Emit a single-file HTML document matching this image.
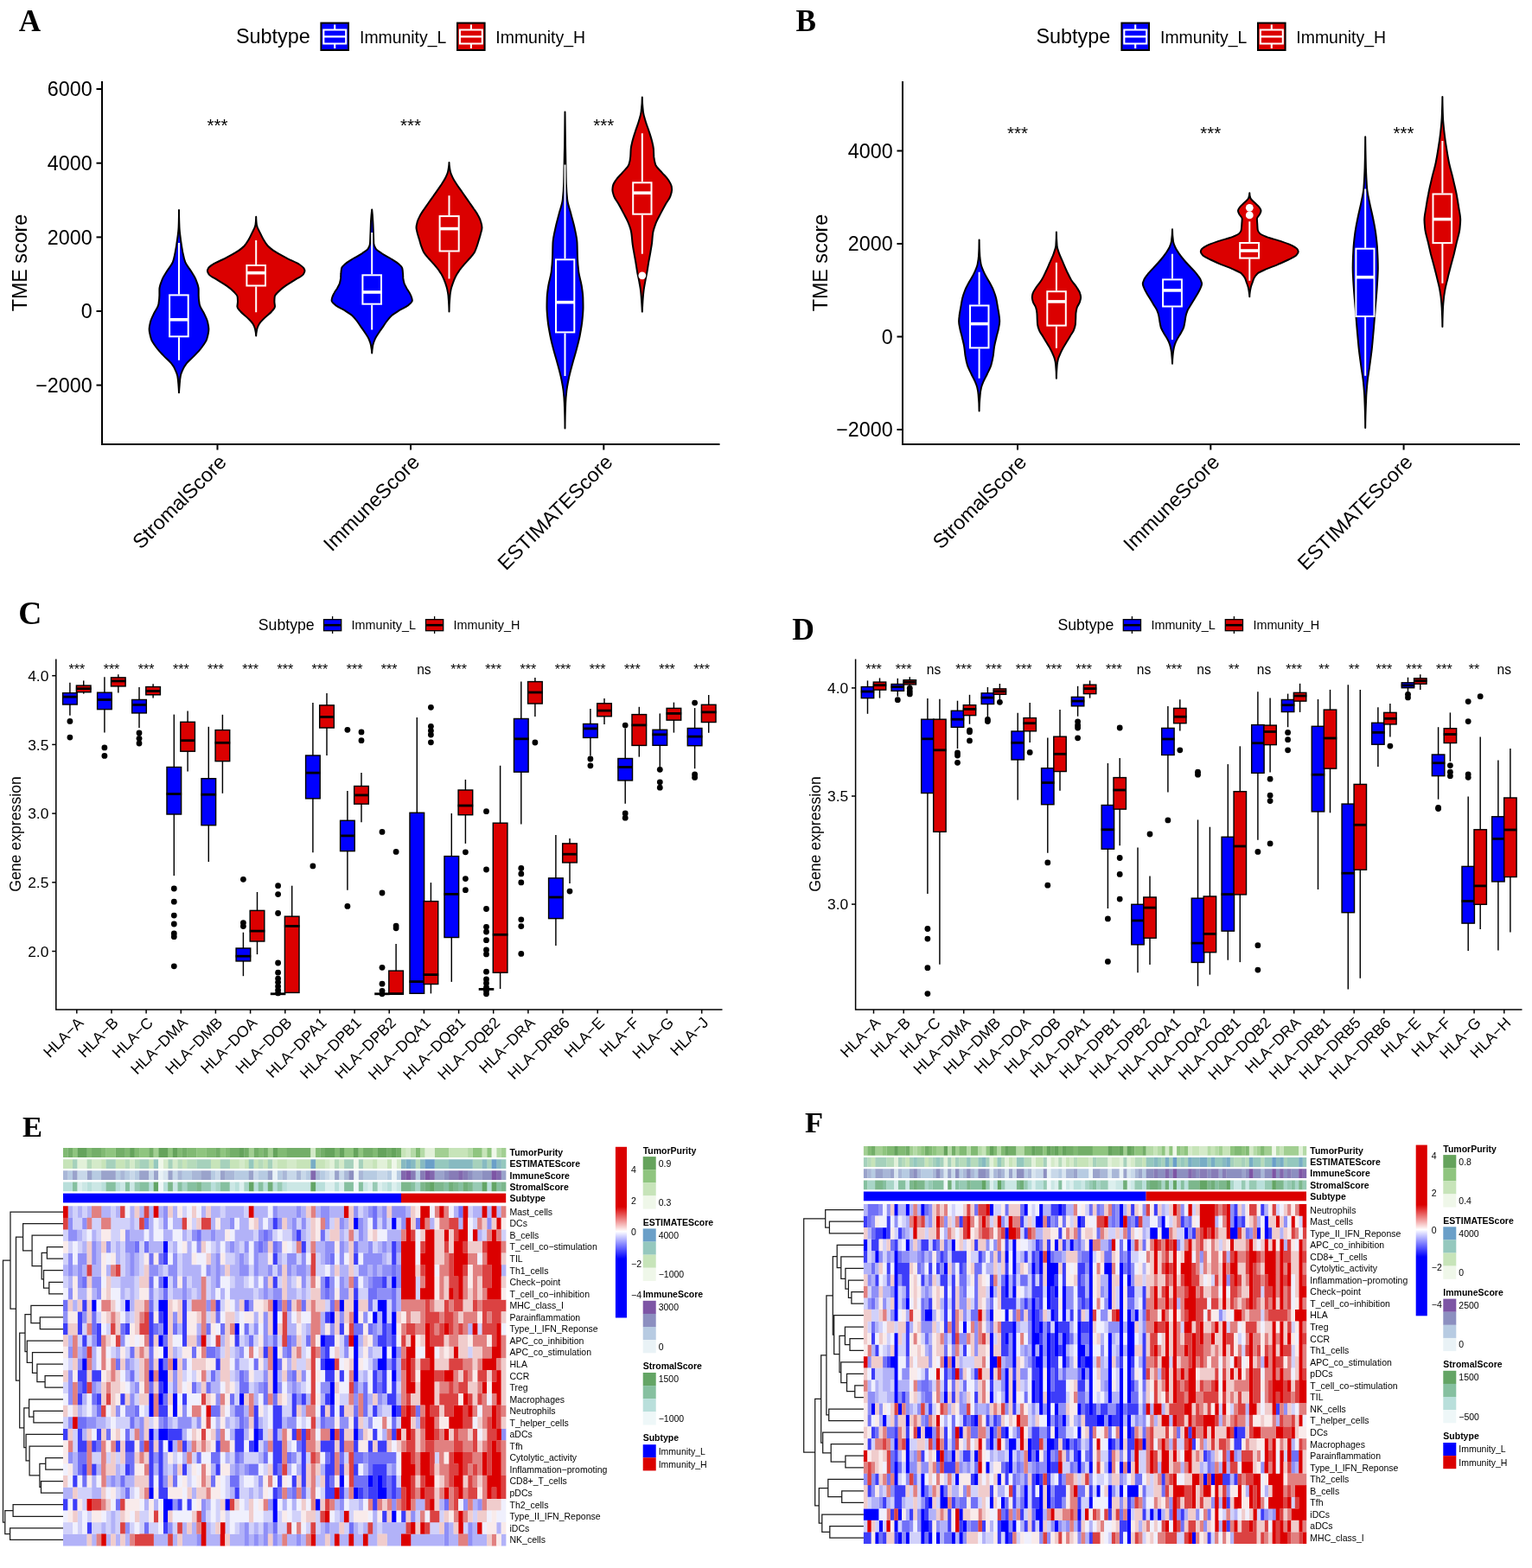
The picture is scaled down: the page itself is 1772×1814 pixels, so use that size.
<!DOCTYPE html>
<html lang="en"><head><meta charset="utf-8"><title>Figure</title>
<style>html,body{margin:0;padding:0;background:#fff}svg{display:block}text{font-family:"Liberation Sans",sans-serif;fill:#000}text.sf{font-family:"Liberation Serif",serif}</style></head><body>
<svg width="1772" height="1814" viewBox="0 0 1772 1814">
<rect width="1772" height="1814" fill="#fff"/>
<text x="21.7" y="36.3" font-weight="bold" class="sf" font-size="35.2">A</text>
<text x="273" y="50.2" font-size="23.4">Subtype</text>
<rect x="371.4" y="26.6" width="31.6" height="31.4" fill="#0000ff" stroke="#000" stroke-width="2"/>
<path d="M387.2 28.6V34.5M387.2 50.5V56M374.3 34.5H400.2V50.5H374.3ZM374.3 42.4H400.2" stroke="#fff" stroke-width="2.1" fill="none"/>
<rect x="529" y="26.6" width="31.6" height="31.4" fill="#db0000" stroke="#000" stroke-width="2"/>
<path d="M544.9 28.6V34.5M544.9 50.5V56M531.9 34.5H557.8V50.5H531.9ZM531.9 42.4H557.8" stroke="#fff" stroke-width="2.1" fill="none"/>
<text x="416" y="49.6" font-size="19.4">Immunity_L</text>
<text x="573.3" y="49.6" font-size="19.45">Immunity_H</text>
<path d="M207.0 242.9C207.0 249.6 207.2 256.3 207.5 263.0C207.7 267.8 208.4 272.6 209.0 277.3C209.7 282.1 210.4 286.9 211.3 291.7C212.1 295.5 212.8 299.3 214.2 303.1C215.4 306.5 218.6 309.8 220.7 313.2C222.7 316.5 225.1 319.8 226.4 323.2C227.9 327.0 229.7 330.8 229.7 334.7C229.7 337.0 229.7 339.4 229.7 341.8C229.7 345.2 230.1 348.5 230.7 351.9C231.3 355.7 234.7 359.5 236.4 363.3C237.7 366.2 239.3 369.1 240.0 371.9C240.7 374.8 241.4 377.7 241.4 380.5C241.4 384.3 240.4 388.2 239.3 392.0C238.2 395.8 235.0 399.6 232.1 403.5C230.0 406.3 227.0 409.2 224.2 412.1C221.5 414.9 217.8 417.8 215.6 420.7C213.9 423.0 212.4 425.4 211.3 427.8C210.3 430.2 209.2 432.6 208.8 435.0C208.2 437.9 208.0 440.7 207.8 443.6C207.5 447.2 207.2 450.7 207.0 454.3C206.9 450.7 206.6 447.2 206.3 443.6C206.1 440.7 205.8 437.9 205.3 435.0C204.9 432.6 203.8 430.2 202.7 427.8C201.7 425.4 200.2 423.0 198.4 420.7C196.3 417.8 192.6 414.9 189.8 412.1C187.1 409.2 184.1 406.3 182.0 403.5C179.1 399.6 175.9 395.8 174.8 392.0C173.7 388.2 172.6 384.3 172.6 380.5C172.6 377.7 173.4 374.8 174.1 371.9C174.8 369.1 176.4 366.2 177.7 363.3C179.4 359.5 182.8 355.7 183.4 351.9C183.9 348.5 184.4 345.2 184.4 341.8C184.4 339.4 184.4 337.0 184.4 334.7C184.4 330.8 186.2 327.0 187.7 323.2C189.0 319.8 191.4 316.5 193.4 313.2C195.5 309.8 198.7 306.5 199.9 303.1C201.3 299.3 202.0 295.5 202.7 291.7C203.7 286.9 204.4 282.1 205.0 277.3C205.7 272.6 206.4 267.8 206.6 263.0C206.9 256.3 207.0 249.6 207.0 242.9Z" fill="#0000ff" stroke="#000" stroke-width="2.0" stroke-linejoin="round"/>
<path d="M207 280.9V340.4M207 390.3V416.8" stroke="#fff" stroke-width="2.0" fill="none"/>
<rect x="196.1" y="341.4" width="21.6" height="47.9" fill="#0000ff" stroke="#fff" stroke-width="2.0"/>
<path d="M196.1 369.8H217.8" stroke="#fff" stroke-width="3.6"/>
<path d="M296.2 250.8C296.2 253.9 296.5 257.0 296.9 260.1C297.3 263.5 299.7 266.8 301.2 270.2C302.3 272.6 303.4 274.9 304.8 277.3C306.2 279.7 307.6 282.1 309.8 284.5C312.0 286.9 315.5 289.3 319.1 291.7C322.7 294.0 327.5 296.4 332.0 298.8C336.5 301.2 342.9 303.6 346.4 306.0C348.4 307.4 350.5 308.9 351.4 310.3C351.9 311.2 352.5 312.2 352.5 313.2C352.5 314.6 351.6 316.0 350.7 317.5C349.4 319.4 345.0 321.3 342.1 323.2C338.4 325.6 333.9 328.0 330.6 330.4C327.3 332.7 324.2 335.1 322.0 337.5C320.2 339.4 317.9 341.3 317.7 343.3C317.5 345.2 317.4 347.1 317.4 349.0C317.4 350.9 318.0 352.8 318.0 354.7C318.0 356.6 315.7 358.5 314.1 360.5C312.1 362.8 308.6 365.2 306.2 367.6C303.9 370.0 301.1 372.4 299.8 374.8C298.7 376.7 297.8 378.6 297.3 380.5C296.8 383.1 296.2 385.8 296.2 388.4C296.2 385.8 295.6 383.1 295.0 380.5C294.6 378.6 293.7 376.7 292.6 374.8C291.2 372.4 288.5 370.0 286.2 367.6C283.8 365.2 280.3 362.8 278.3 360.5C276.7 358.5 274.4 356.6 274.4 354.7C274.4 352.8 275.0 350.9 275.0 349.0C275.0 347.1 274.9 345.2 274.7 343.3C274.5 341.3 272.1 339.4 270.4 337.5C268.2 335.1 265.1 332.7 261.8 330.4C258.5 328.0 254.0 325.6 250.3 323.2C247.4 321.3 243.0 319.4 241.7 317.5C240.8 316.0 239.9 314.6 239.9 313.2C239.9 312.2 240.5 311.2 241.0 310.3C241.8 308.9 244.0 307.4 246.0 306.0C249.5 303.6 255.8 301.2 260.4 298.8C264.9 296.4 269.7 294.0 273.3 291.7C276.9 289.3 280.4 286.9 282.6 284.5C284.7 282.1 286.2 279.7 287.6 277.3C289.0 274.9 290.1 272.6 291.2 270.2C292.7 266.8 295.0 263.5 295.5 260.1C295.9 257.0 296.2 253.9 296.2 250.8Z" fill="#db0000" stroke="#000" stroke-width="2.0" stroke-linejoin="round"/>
<path d="M296.2 278V306M296.2 331.5V361.2" stroke="#fff" stroke-width="2.0" fill="none"/>
<rect x="285.4" y="307" width="21.6" height="23.5" fill="#db0000" stroke="#fff" stroke-width="2.0"/>
<path d="M285.4 315.7H307.1" stroke="#fff" stroke-width="3.6"/>
<path d="M430.2 242.4C430.7 246.9 431.1 251.5 431.3 256.0C431.6 260.8 431.7 265.5 431.9 270.3C432.1 274.1 432.1 278.0 432.3 281.8C432.5 283.7 433.4 285.6 434.5 287.5C435.6 289.4 438.9 291.3 441.7 293.3C444.4 295.2 448.6 297.1 451.7 299.0C454.8 300.9 458.2 302.8 460.3 304.7C462.4 306.6 464.9 308.5 465.3 310.5C465.7 312.4 465.9 314.3 466.0 316.2C466.2 318.1 466.2 320.0 466.3 321.9C466.5 323.8 466.9 325.7 467.5 327.7C468.0 329.6 469.3 331.5 470.3 333.4C471.4 335.3 472.9 337.2 473.9 339.1C474.9 341.0 475.9 342.9 476.3 344.9C476.5 345.8 476.8 346.8 476.8 347.7C476.8 349.6 474.0 351.5 471.8 353.5C469.5 355.4 464.8 357.3 461.7 359.2C458.6 361.1 455.2 363.0 453.1 364.9C451.0 366.8 449.6 368.7 448.1 370.7C446.2 373.0 444.8 375.4 443.1 377.8C441.4 380.2 439.6 382.6 438.1 385.0C436.5 387.4 434.8 389.8 433.8 392.1C432.7 394.5 431.8 396.9 431.3 399.3C430.8 402.4 430.2 405.5 430.2 408.6C430.2 405.5 429.6 402.4 429.0 399.3C428.6 396.9 427.6 394.5 426.6 392.1C425.6 389.8 423.9 387.4 422.3 385.0C420.8 382.6 419.0 380.2 417.3 377.8C415.6 375.4 414.1 373.0 412.3 370.7C410.8 368.7 409.4 366.8 407.3 364.9C405.2 363.0 401.8 361.1 398.7 359.2C395.6 357.3 390.9 355.4 388.6 353.5C386.4 351.5 383.6 349.6 383.6 347.7C383.6 346.8 383.8 345.8 384.0 344.9C384.4 342.9 385.5 341.0 386.5 339.1C387.4 337.2 389.0 335.3 390.1 333.4C391.1 331.5 392.4 329.6 392.9 327.7C393.5 325.7 393.9 323.8 394.1 321.9C394.2 320.0 394.2 318.1 394.4 316.2C394.5 314.3 394.7 312.4 395.1 310.5C395.5 308.5 398.0 306.6 400.1 304.7C402.2 302.8 405.6 300.9 408.7 299.0C411.8 297.1 415.9 295.2 418.7 293.3C421.5 291.3 424.8 289.4 425.9 287.5C427.0 285.6 427.9 283.7 428.0 281.8C428.3 278.0 428.3 274.1 428.5 270.3C428.7 265.5 428.8 260.8 429.0 256.0C429.3 251.5 429.7 246.9 430.2 242.4Z" fill="#0000ff" stroke="#000" stroke-width="2.0" stroke-linejoin="round"/>
<path d="M430.2 268.9V317.3M430.2 352.7V381.4" stroke="#fff" stroke-width="2.0" fill="none"/>
<rect x="419.4" y="318.3" width="21.6" height="33.4" fill="#0000ff" stroke="#fff" stroke-width="2.0"/>
<path d="M419.4 338H441.1" stroke="#fff" stroke-width="3.6"/>
<path d="M519.5 187.9C519.5 191.5 520.2 195.1 520.9 198.7C521.4 201.1 522.6 203.4 523.8 205.8C524.9 208.2 526.5 210.6 528.1 213.0C529.6 215.4 531.4 217.8 533.1 220.2C534.8 222.6 536.4 224.9 538.1 227.3C539.8 229.7 541.5 232.1 543.1 234.5C544.8 236.9 546.6 239.3 548.1 241.7C549.7 244.0 551.5 246.4 552.7 248.8C554.0 251.2 555.4 253.6 556.0 256.0C556.7 258.4 557.5 260.8 557.5 263.2C557.5 265.5 556.6 267.9 556.0 270.3C555.5 272.7 554.6 275.1 553.9 277.5C553.2 279.9 552.6 282.3 551.7 284.7C550.9 287.0 550.1 289.4 548.9 291.8C547.6 294.2 545.2 296.6 543.1 299.0C541.1 301.4 538.7 303.8 536.7 306.2C534.7 308.5 532.6 310.9 531.0 313.3C529.3 315.7 527.8 318.1 526.7 320.5C525.5 322.9 524.6 325.3 523.8 327.7C523.0 330.0 522.1 332.4 521.6 334.8C521.1 337.2 520.7 339.6 520.5 342.0C519.9 348.2 519.5 354.4 519.5 360.6C519.5 354.4 519.0 348.2 518.5 342.0C518.3 339.6 517.8 337.2 517.3 334.8C516.8 332.4 516.0 330.0 515.2 327.7C514.4 325.3 513.5 322.9 512.3 320.5C511.2 318.1 509.7 315.7 508.0 313.3C506.4 310.9 504.3 308.5 502.3 306.2C500.3 303.8 497.9 301.4 495.8 299.0C493.8 296.6 491.4 294.2 490.1 291.8C488.8 289.4 488.1 287.0 487.2 284.7C486.4 282.3 485.8 279.9 485.1 277.5C484.4 275.1 483.5 272.7 482.9 270.3C482.4 267.9 481.5 265.5 481.5 263.2C481.5 260.8 482.3 258.4 482.9 256.0C483.6 253.6 485.0 251.2 486.2 248.8C487.5 246.4 489.2 244.0 490.8 241.7C492.4 239.3 494.2 236.9 495.8 234.5C497.5 232.1 499.2 229.7 500.9 227.3C502.5 224.9 504.2 222.6 505.9 220.2C507.5 217.8 509.3 215.4 510.9 213.0C512.4 210.6 514.0 208.2 515.2 205.8C516.3 203.4 517.6 201.1 518.1 198.7C518.8 195.1 519.5 191.5 519.5 187.9Z" fill="#db0000" stroke="#000" stroke-width="2.0" stroke-linejoin="round"/>
<path d="M519.5 226.2V249.1M519.5 291.5V322.6" stroke="#fff" stroke-width="2.0" fill="none"/>
<rect x="508.6" y="250.1" width="22.1" height="40.4" fill="#db0000" stroke="#fff" stroke-width="2.0"/>
<path d="M508.6 264.6H530.7" stroke="#fff" stroke-width="3.6"/>
<path d="M653.5 129.4C653.6 142.2 653.8 155.0 654.0 167.8C654.1 175.3 654.3 182.9 654.4 190.4C654.6 197.9 654.6 205.5 654.9 213.0C655.1 219.0 655.5 225.0 656.2 231.1C656.8 236.3 658.9 241.6 660.3 246.9C661.6 252.2 663.2 257.4 664.4 262.7C665.6 268.7 667.3 274.8 667.5 280.8C667.8 286.8 667.7 292.8 668.0 298.9C668.2 304.1 668.7 309.4 669.3 314.7C670.0 320.0 671.9 325.2 672.7 330.5C673.4 335.0 674.1 339.5 674.3 344.1C674.4 347.8 674.5 351.6 674.5 355.4C674.5 360.6 673.9 365.9 673.4 371.2C672.8 377.2 671.6 383.2 670.5 389.3C669.4 394.5 668.0 399.8 666.6 405.1C665.2 410.4 663.5 415.6 662.1 420.9C660.5 426.9 658.8 433.0 657.6 439.0C656.7 443.5 655.8 448.0 655.3 452.5C654.8 457.1 654.4 461.6 654.2 466.1C653.8 475.9 653.5 485.7 653.5 495.5C653.5 485.7 653.2 475.9 652.8 466.1C652.6 461.6 652.2 457.1 651.7 452.5C651.2 448.0 650.3 443.5 649.4 439.0C648.2 433.0 646.5 426.9 644.9 420.9C643.5 415.6 641.8 410.4 640.4 405.1C639.0 399.8 637.6 394.5 636.6 389.3C635.4 383.2 634.2 377.2 633.6 371.2C633.1 365.9 632.5 360.6 632.5 355.4C632.5 351.6 632.6 347.8 632.7 344.1C632.9 339.5 633.6 335.0 634.3 330.5C635.1 325.2 637.0 320.0 637.7 314.7C638.3 309.4 638.8 304.1 639.0 298.9C639.3 292.8 639.2 286.8 639.5 280.8C639.8 274.8 641.4 268.7 642.7 262.7C643.8 257.4 645.4 252.2 646.7 246.9C648.1 241.6 650.2 236.3 650.8 231.1C651.5 225.0 652.0 219.0 652.1 213.0C652.4 205.5 652.4 197.9 652.6 190.4C652.7 182.9 652.9 175.3 653.1 167.8C653.2 155.0 653.4 142.2 653.5 129.4Z" fill="#0000ff" stroke="#000" stroke-width="2.0" stroke-linejoin="round"/>
<path d="M653.5 190.4V299.3M653.5 385.4V435.1" stroke="#fff" stroke-width="2.0" fill="none"/>
<rect x="643" y="300.3" width="21.3" height="84.1" fill="#0000ff" stroke="#fff" stroke-width="2.0"/>
<path d="M643 349.7H664.3" stroke="#fff" stroke-width="3.6"/>
<path d="M742.8 112.4C742.8 118.1 743.3 123.7 743.9 129.4C744.3 133.1 745.7 136.9 746.8 140.7C747.9 144.4 749.5 148.2 750.7 152.0C751.9 155.7 753.2 159.5 754.1 163.3C754.8 166.3 755.6 169.3 755.9 172.3C756.1 175.3 756.1 178.3 756.3 181.4C756.6 184.4 757.2 187.4 758.1 190.4C759.1 193.4 762.8 196.4 765.4 199.4C767.9 202.4 771.4 205.5 773.3 208.5C774.7 210.7 776.3 213.0 776.7 215.3C776.9 216.8 777.1 218.3 777.1 219.8C777.1 222.0 776.3 224.3 775.5 226.6C774.6 229.6 772.0 232.6 770.3 235.6C768.2 239.4 766.2 243.1 764.2 246.9C762.3 250.7 760.0 254.4 758.6 258.2C757.2 262.0 755.8 265.7 755.2 269.5C754.6 273.3 754.5 277.0 754.1 280.8C753.6 284.6 752.9 288.3 752.3 292.1C751.6 295.9 750.9 299.6 750.2 303.4C749.6 307.2 749.1 310.9 748.4 314.7C747.7 318.5 746.8 322.2 746.2 326.0C745.5 329.8 744.8 333.5 744.4 337.3C743.9 341.1 743.7 344.8 743.4 348.6C743.2 352.6 742.9 356.6 742.8 360.6C742.6 356.6 742.4 352.6 742.1 348.6C741.8 344.8 741.6 341.1 741.2 337.3C740.8 333.5 740.0 329.8 739.4 326.0C738.7 322.2 737.8 318.5 737.1 314.7C736.4 310.9 735.9 307.2 735.3 303.4C734.7 299.6 733.9 295.9 733.3 292.1C732.6 288.3 731.9 284.6 731.5 280.8C731.0 277.0 730.9 273.3 730.3 269.5C729.8 265.7 728.4 262.0 726.9 258.2C725.5 254.4 723.3 250.7 721.3 246.9C719.3 243.1 717.3 239.4 715.2 235.6C713.5 232.6 711.0 229.6 710.0 226.6C709.3 224.3 708.4 222.0 708.4 219.8C708.4 218.3 708.6 216.8 708.9 215.3C709.2 213.0 710.8 210.7 712.3 208.5C714.2 205.5 717.7 202.4 720.2 199.4C722.7 196.4 726.4 193.4 727.4 190.4C728.4 187.4 729.0 184.4 729.2 181.4C729.5 178.3 729.4 175.3 729.7 172.3C729.9 169.3 730.8 166.3 731.5 163.3C732.4 159.5 733.7 155.7 734.9 152.0C736.1 148.2 737.6 144.4 738.7 140.7C739.8 136.9 741.2 133.1 741.6 129.4C742.3 123.7 742.8 118.1 742.8 112.4Z" fill="#db0000" stroke="#000" stroke-width="2.0" stroke-linejoin="round"/>
<path d="M742.8 154.2V210.3M742.8 248.7V293.7" stroke="#fff" stroke-width="2.0" fill="none"/>
<rect x="732.2" y="211.3" width="21.3" height="36.4" fill="#db0000" stroke="#fff" stroke-width="2.0"/>
<path d="M732.2 223.2H753.5" stroke="#fff" stroke-width="3.6"/>
<circle cx="742.8" cy="318.8" r="4.4" fill="#fff"/>
<path d="M118 94V514H832.5" fill="none" stroke="#000" stroke-width="2"/>
<path d="M111.5 103L118 103" stroke="#000" stroke-width="2"/>
<text x="106.7" y="111.3" text-anchor="end" font-size="23.3">6000</text>
<path d="M111.5 188.7L118 188.7" stroke="#000" stroke-width="2"/>
<text x="106.7" y="197" text-anchor="end" font-size="23.3">4000</text>
<path d="M111.5 274.4L118 274.4" stroke="#000" stroke-width="2"/>
<text x="106.7" y="282.7" text-anchor="end" font-size="23.3">2000</text>
<path d="M111.5 360L118 360" stroke="#000" stroke-width="2"/>
<text x="106.7" y="368.3" text-anchor="end" font-size="23.3">0</text>
<path d="M111.5 445.6L118 445.6" stroke="#000" stroke-width="2"/>
<text x="106.7" y="453.9" text-anchor="end" font-size="23.3">−2000</text>
<path d="M251.5 514L251.5 520.5" stroke="#000" stroke-width="2"/>
<text text-anchor="end" transform="translate(263.1,536) rotate(-45)" font-size="23.4">StromalScore</text>
<text x="251.5" y="152" text-anchor="middle" font-size="20.6">***</text>
<path d="M475 514L475 520.5" stroke="#000" stroke-width="2"/>
<text text-anchor="end" transform="translate(486.6,536) rotate(-45)" font-size="23.4">ImmuneScore</text>
<text x="475" y="152" text-anchor="middle" font-size="20.6">***</text>
<path d="M698.3 514L698.3 520.5" stroke="#000" stroke-width="2"/>
<text text-anchor="end" transform="translate(709.9,536) rotate(-45)" font-size="23.4">ESTIMATEScore</text>
<text x="698.3" y="152" text-anchor="middle" font-size="20.6">***</text>
<text text-anchor="middle" transform="translate(31,304) rotate(-90)" font-size="23.3">TME score</text>
<text x="920.5" y="36.3" font-weight="bold" class="sf" font-size="35.2">B</text>
<text x="1198.5" y="50.2" font-size="23.4">Subtype</text>
<rect x="1297.4" y="26.6" width="31.6" height="31.4" fill="#0000ff" stroke="#000" stroke-width="2"/>
<path d="M1313.2 28.6V34.5M1313.2 50.5V56M1300.3 34.5H1326.2V50.5H1300.3ZM1300.3 42.4H1326.2" stroke="#fff" stroke-width="2.1" fill="none"/>
<rect x="1455" y="26.6" width="31.6" height="31.4" fill="#db0000" stroke="#000" stroke-width="2"/>
<path d="M1470.8 28.6V34.5M1470.8 50.5V56M1457.9 34.5H1483.8V50.5H1457.9ZM1457.9 42.4H1483.8" stroke="#fff" stroke-width="2.1" fill="none"/>
<text x="1342" y="49.6" font-size="19.4">Immunity_L</text>
<text x="1499.3" y="49.6" font-size="19.45">Immunity_H</text>
<path d="M1132.6 277.4C1132.6 283.7 1132.9 290.0 1133.3 296.3C1133.5 299.4 1134.0 302.5 1134.6 305.6C1135.4 309.1 1137.0 312.6 1138.6 316.1C1140.2 319.7 1142.7 323.2 1144.6 326.7C1146.2 329.8 1148.0 332.9 1149.2 336.0C1150.4 339.1 1151.5 342.2 1152.2 345.2C1153.0 348.8 1153.5 352.3 1154.1 355.8C1154.7 359.3 1155.4 362.9 1155.8 366.4C1156.0 368.2 1156.2 369.9 1156.2 371.7C1156.2 374.3 1155.6 377.0 1155.1 379.6C1154.5 383.2 1153.3 386.7 1152.5 390.2C1151.7 393.7 1150.7 397.3 1150.1 400.8C1149.5 404.3 1149.3 407.8 1148.8 411.4C1148.2 414.9 1147.5 418.4 1146.5 422.0C1145.5 425.5 1143.6 429.0 1141.9 432.5C1140.7 435.2 1139.1 437.8 1137.9 440.5C1136.8 443.1 1135.6 445.8 1135.0 448.4C1134.4 451.1 1133.9 453.7 1133.7 456.3C1133.1 462.7 1132.6 469.1 1132.6 475.5C1132.6 469.1 1132.2 462.7 1131.6 456.3C1131.4 453.7 1130.9 451.1 1130.3 448.4C1129.7 445.8 1128.5 443.1 1127.4 440.5C1126.2 437.8 1124.6 435.2 1123.4 432.5C1121.7 429.0 1119.8 425.5 1118.8 422.0C1117.7 418.4 1117.1 414.9 1116.5 411.4C1116.0 407.8 1115.8 404.3 1115.2 400.8C1114.6 397.3 1113.6 393.7 1112.8 390.2C1112.0 386.7 1110.8 383.2 1110.2 379.6C1109.7 377.0 1109.1 374.3 1109.1 371.7C1109.1 369.9 1109.3 368.2 1109.5 366.4C1109.8 362.9 1110.6 359.3 1111.2 355.8C1111.8 352.3 1112.3 348.8 1113.1 345.2C1113.8 342.2 1114.9 339.1 1116.1 336.0C1117.3 332.9 1119.1 329.8 1120.7 326.7C1122.6 323.2 1125.1 319.7 1126.7 316.1C1128.3 312.6 1129.9 309.1 1130.7 305.6C1131.3 302.5 1131.8 299.4 1132.0 296.3C1132.4 290.0 1132.6 283.7 1132.6 277.4Z" fill="#0000ff" stroke="#000" stroke-width="2.0" stroke-linejoin="round"/>
<path d="M1132.6 314.8V352.5M1132.6 403.4V437.8" stroke="#fff" stroke-width="2.0" fill="none"/>
<rect x="1122" y="353.5" width="21.5" height="48.9" fill="#0000ff" stroke="#fff" stroke-width="2.0"/>
<path d="M1122 374.6H1143.6" stroke="#fff" stroke-width="3.6"/>
<path d="M1221.9 268.5C1221.9 273.8 1222.2 279.1 1222.6 284.4C1222.8 287.5 1224.2 290.6 1225.2 293.7C1226.3 296.7 1227.9 299.8 1229.2 302.9C1230.7 306.4 1232.2 310.0 1233.8 313.5C1235.5 317.0 1237.0 320.5 1239.1 324.1C1240.7 326.7 1243.4 329.4 1245.1 332.0C1246.8 334.7 1248.8 337.3 1249.4 339.9C1249.8 341.3 1250.1 342.6 1250.1 343.9C1250.1 345.7 1249.5 347.4 1249.0 349.2C1248.4 351.4 1246.4 353.6 1245.7 355.8C1245.1 358.0 1244.6 360.2 1244.4 362.4C1244.3 364.6 1244.3 366.8 1244.2 369.0C1244.0 371.3 1244.0 373.5 1243.8 375.7C1243.5 377.9 1242.7 380.1 1241.8 382.3C1240.9 384.5 1239.1 386.7 1237.8 388.9C1236.5 391.1 1235.2 393.3 1233.8 395.5C1232.5 397.7 1231.1 399.9 1229.9 402.1C1228.7 404.3 1227.5 406.5 1226.6 408.7C1225.6 410.9 1224.5 413.1 1223.9 415.3C1223.4 417.5 1222.9 419.8 1222.7 422.0C1222.3 427.2 1221.9 432.5 1221.9 437.8C1221.9 432.5 1221.6 427.2 1221.1 422.0C1221.0 419.8 1220.5 417.5 1219.9 415.3C1219.4 413.1 1218.3 410.9 1217.3 408.7C1216.3 406.5 1215.2 404.3 1214.0 402.1C1212.8 399.9 1211.3 397.7 1210.0 395.5C1208.7 393.3 1207.4 391.1 1206.1 388.9C1204.7 386.7 1203.0 384.5 1202.1 382.3C1201.2 380.1 1200.3 377.9 1200.1 375.7C1199.9 373.5 1199.8 371.3 1199.7 369.0C1199.6 366.8 1199.6 364.6 1199.4 362.4C1199.3 360.2 1198.8 358.0 1198.1 355.8C1197.5 353.6 1195.4 351.4 1194.8 349.2C1194.3 347.4 1193.8 345.7 1193.8 343.9C1193.8 342.6 1194.1 341.3 1194.4 339.9C1195.1 337.3 1197.1 334.7 1198.8 332.0C1200.5 329.4 1203.1 326.7 1204.7 324.1C1206.9 320.5 1208.4 317.0 1210.0 313.5C1211.7 310.0 1213.1 306.4 1214.7 302.9C1216.0 299.8 1217.6 296.7 1218.6 293.7C1219.7 290.6 1221.0 287.5 1221.3 284.4C1221.7 279.1 1221.9 273.8 1221.9 268.5Z" fill="#db0000" stroke="#000" stroke-width="2.0" stroke-linejoin="round"/>
<path d="M1221.9 303.8V336.2M1221.9 377.6V402.8" stroke="#fff" stroke-width="2.0" fill="none"/>
<rect x="1211.3" y="337.2" width="21.5" height="39.4" fill="#db0000" stroke="#fff" stroke-width="2.0"/>
<path d="M1211.3 348.9H1232.8" stroke="#fff" stroke-width="3.6"/>
<path d="M1356.0 265.2C1356.0 269.9 1356.4 274.7 1357.0 279.4C1357.3 281.6 1358.3 283.8 1359.3 286.0C1360.2 288.2 1361.8 290.4 1363.2 292.6C1365.0 295.2 1367.0 297.9 1369.2 300.5C1371.4 303.2 1374.0 305.8 1376.5 308.5C1378.9 311.1 1381.6 313.8 1383.7 316.4C1385.5 318.6 1387.4 320.8 1388.4 323.0C1389.1 324.8 1390.1 326.6 1390.1 328.3C1390.1 329.6 1389.5 331.0 1389.0 332.3C1388.3 334.5 1386.9 336.7 1385.7 338.9C1384.5 341.1 1383.1 343.3 1381.8 345.5C1380.4 347.7 1379.1 349.9 1377.8 352.1C1376.5 354.3 1374.8 356.5 1373.8 358.7C1372.9 361.0 1372.0 363.2 1371.6 365.4C1371.1 367.6 1370.9 369.8 1370.5 372.0C1370.1 374.2 1369.8 376.4 1369.2 378.6C1368.6 380.8 1367.1 383.0 1365.9 385.2C1364.7 387.4 1363.1 389.6 1361.9 391.8C1360.8 394.0 1359.6 396.2 1358.9 398.4C1358.2 400.6 1357.6 402.8 1357.3 405.1C1356.9 407.3 1356.7 409.5 1356.5 411.7C1356.2 414.7 1356.0 417.7 1356.0 420.7C1355.9 417.7 1355.7 414.7 1355.4 411.7C1355.3 409.5 1355.0 407.3 1354.6 405.1C1354.3 402.8 1353.7 400.6 1353.0 398.4C1352.4 396.2 1351.2 394.0 1350.0 391.8C1348.9 389.6 1347.2 387.4 1346.0 385.2C1344.8 383.0 1343.4 380.8 1342.7 378.6C1342.1 376.4 1341.8 374.2 1341.4 372.0C1341.0 369.8 1340.8 367.6 1340.3 365.4C1339.9 363.2 1339.1 361.0 1338.1 358.7C1337.1 356.5 1335.5 354.3 1334.1 352.1C1332.8 349.9 1331.5 347.7 1330.2 345.5C1328.8 343.3 1327.4 341.1 1326.2 338.9C1325.0 336.7 1323.6 334.5 1322.9 332.3C1322.4 331.0 1321.8 329.6 1321.8 328.3C1321.8 326.6 1322.8 324.8 1323.5 323.0C1324.5 320.8 1326.4 318.6 1328.2 316.4C1330.3 313.8 1333.0 311.1 1335.5 308.5C1337.9 305.8 1340.5 303.2 1342.7 300.5C1344.9 297.9 1346.9 295.2 1348.7 292.6C1350.1 290.4 1351.7 288.2 1352.7 286.0C1353.6 283.8 1354.6 281.6 1354.9 279.4C1355.5 274.7 1356.0 269.9 1356.0 265.2Z" fill="#0000ff" stroke="#000" stroke-width="2.0" stroke-linejoin="round"/>
<path d="M1356 293.7V322.4M1356 355.4V392.9" stroke="#fff" stroke-width="2.0" fill="none"/>
<rect x="1345.1" y="323.4" width="21.8" height="31.1" fill="#0000ff" stroke="#fff" stroke-width="2.0"/>
<path d="M1345.1 335.9H1366.9" stroke="#fff" stroke-width="3.6"/>
<path d="M1445.3 223.2C1445.3 225.1 1445.7 227.1 1446.3 229.1C1446.8 230.9 1449.5 232.6 1451.2 234.4C1452.9 236.2 1455.3 237.9 1456.5 239.7C1457.4 241.0 1458.5 242.3 1458.5 243.7C1458.5 245.0 1457.7 246.3 1457.2 247.6C1456.4 249.4 1453.9 251.2 1453.9 252.9C1453.9 255.1 1454.1 257.3 1454.3 259.5C1454.4 261.7 1454.4 263.9 1454.8 266.1C1455.0 267.5 1455.9 268.8 1457.2 270.1C1458.4 271.4 1461.9 272.8 1465.1 274.1C1469.4 275.8 1477.3 277.6 1482.3 279.4C1487.3 281.1 1492.5 282.9 1495.5 284.7C1497.8 286.0 1500.1 287.3 1500.8 288.6C1501.3 289.5 1501.7 290.4 1501.7 291.3C1501.7 292.6 1500.6 293.9 1499.5 295.2C1498.0 297.0 1493.7 298.8 1490.2 300.5C1486.8 302.3 1482.5 304.1 1478.3 305.8C1474.2 307.6 1469.0 309.4 1465.1 311.1C1461.2 312.9 1456.4 314.7 1454.5 316.4C1452.6 318.2 1451.4 319.9 1450.5 321.7C1449.7 323.5 1449.2 325.2 1448.6 327.0C1447.9 328.8 1447.3 330.5 1446.8 332.3C1446.4 334.1 1446.0 335.8 1445.8 337.6C1445.5 339.5 1445.3 341.4 1445.3 343.3C1445.2 341.4 1445.0 339.5 1444.7 337.6C1444.5 335.8 1444.1 334.1 1443.7 332.3C1443.2 330.5 1442.6 328.8 1441.9 327.0C1441.3 325.2 1440.8 323.5 1440.0 321.7C1439.1 319.9 1437.9 318.2 1436.0 316.4C1434.1 314.7 1429.3 312.9 1425.4 311.1C1421.5 309.4 1416.4 307.6 1412.2 305.8C1408.0 304.1 1403.7 302.3 1400.3 300.5C1396.8 298.8 1392.5 297.0 1391.0 295.2C1389.9 293.9 1388.8 292.6 1388.8 291.3C1388.8 290.4 1389.2 289.5 1389.7 288.6C1390.4 287.3 1392.7 286.0 1395.0 284.7C1398.0 282.9 1403.2 281.1 1408.2 279.4C1413.2 277.6 1421.1 275.8 1425.4 274.1C1428.7 272.8 1432.1 271.4 1433.3 270.1C1434.6 268.8 1435.5 267.5 1435.7 266.1C1436.1 263.9 1436.1 261.7 1436.3 259.5C1436.4 257.3 1436.7 255.1 1436.7 252.9C1436.7 251.2 1434.1 249.4 1433.3 247.6C1432.8 246.3 1432.0 245.0 1432.0 243.7C1432.0 242.3 1433.1 241.0 1434.0 239.7C1435.2 237.9 1437.6 236.2 1439.3 234.4C1441.0 232.6 1443.7 230.9 1444.2 229.1C1444.8 227.1 1445.3 225.1 1445.3 223.2Z" fill="#db0000" stroke="#000" stroke-width="2.0" stroke-linejoin="round"/>
<path d="M1445.3 256.2V280M1445.3 299.6V324.8" stroke="#fff" stroke-width="2.0" fill="none"/>
<rect x="1434.2" y="281" width="21.9" height="17.6" fill="#db0000" stroke="#fff" stroke-width="2.0"/>
<path d="M1434.2 290H1456.2" stroke="#fff" stroke-width="3.6"/>
<circle cx="1445.3" cy="240.3" r="4.4" fill="#fff"/>
<circle cx="1445.3" cy="248.9" r="4.4" fill="#fff"/>
<path d="M1579.2 158.3C1579.3 170.2 1579.6 182.2 1579.9 194.1C1580.2 201.9 1580.5 209.6 1581.1 217.3C1581.5 222.7 1582.8 228.1 1583.9 233.5C1585.1 239.7 1586.8 245.8 1588.0 252.0C1589.3 258.2 1590.5 264.3 1591.3 270.5C1592.1 276.7 1592.8 282.9 1593.1 289.0C1593.5 296.0 1593.8 302.9 1593.8 309.9C1593.8 317.6 1593.1 325.3 1592.7 333.0C1592.2 340.7 1591.4 348.4 1590.8 356.2C1590.2 363.9 1589.6 371.6 1589.0 379.3C1588.3 387.0 1587.7 394.7 1586.9 402.4C1586.1 410.2 1584.9 417.9 1583.9 425.6C1583.1 431.0 1582.1 436.4 1581.6 441.8C1581.0 448.0 1580.4 454.1 1580.2 460.3C1579.7 471.9 1579.2 483.4 1579.2 495.0C1579.2 483.4 1578.8 471.9 1578.3 460.3C1578.1 454.1 1577.5 448.0 1576.9 441.8C1576.4 436.4 1575.4 431.0 1574.6 425.6C1573.6 417.9 1572.4 410.2 1571.6 402.4C1570.8 394.7 1570.2 387.0 1569.5 379.3C1568.9 371.6 1568.3 363.9 1567.7 356.2C1567.1 348.4 1566.3 340.7 1565.8 333.0C1565.3 325.3 1564.7 317.6 1564.7 309.9C1564.7 302.9 1565.0 296.0 1565.4 289.0C1565.7 282.9 1566.4 276.7 1567.2 270.5C1568.0 264.3 1569.2 258.2 1570.5 252.0C1571.7 245.8 1573.4 239.7 1574.6 233.5C1575.7 228.1 1577.0 222.7 1577.4 217.3C1578.0 209.6 1578.3 201.9 1578.6 194.1C1578.9 182.2 1579.2 170.2 1579.2 158.3Z" fill="#0000ff" stroke="#000" stroke-width="2.0" stroke-linejoin="round"/>
<path d="M1579.2 218.4V286.7M1579.2 367V434.8" stroke="#fff" stroke-width="2.0" fill="none"/>
<rect x="1568.4" y="287.7" width="21.1" height="78.3" fill="#0000ff" stroke="#fff" stroke-width="2.0"/>
<path d="M1568.4 320.7H1589.6" stroke="#fff" stroke-width="3.6"/>
<path d="M1668.4 112.0C1668.4 120.1 1668.7 128.2 1669.0 136.3C1669.3 142.5 1670.0 148.6 1670.7 154.8C1671.3 160.2 1672.1 165.6 1673.0 171.0C1673.8 176.4 1674.7 181.8 1675.8 187.2C1677.0 193.4 1678.9 199.5 1680.4 205.7C1681.8 211.9 1683.4 218.1 1684.6 224.2C1685.6 229.6 1686.5 235.0 1687.3 240.4C1688.0 245.1 1689.2 249.7 1689.2 254.3C1689.2 258.2 1688.7 262.0 1688.3 265.9C1687.7 270.5 1686.1 275.1 1685.0 279.8C1683.9 284.4 1682.9 289.0 1681.8 293.7C1680.6 298.3 1679.3 302.9 1678.1 307.6C1676.9 312.2 1675.7 316.8 1674.6 321.4C1673.7 325.3 1672.6 329.2 1671.8 333.0C1671.1 336.9 1670.4 340.7 1670.0 344.6C1669.6 348.4 1669.2 352.3 1669.0 356.2C1668.7 363.5 1668.4 370.8 1668.4 378.1C1668.4 370.8 1668.0 363.5 1667.7 356.2C1667.5 352.3 1667.1 348.4 1666.7 344.6C1666.3 340.7 1665.6 336.9 1664.9 333.0C1664.1 329.2 1663.0 325.3 1662.1 321.4C1661.0 316.8 1659.8 312.2 1658.6 307.6C1657.4 302.9 1656.1 298.3 1654.9 293.7C1653.8 289.0 1652.8 284.4 1651.7 279.8C1650.6 275.1 1649.0 270.5 1648.4 265.9C1648.0 262.0 1647.5 258.2 1647.5 254.3C1647.5 249.7 1648.7 245.1 1649.4 240.4C1650.2 235.0 1651.1 229.6 1652.2 224.2C1653.3 218.1 1654.9 211.9 1656.3 205.7C1657.8 199.5 1659.7 193.4 1660.9 187.2C1662.0 181.8 1662.9 176.4 1663.7 171.0C1664.6 165.6 1665.4 160.2 1666.0 154.8C1666.7 148.6 1667.4 142.5 1667.7 136.3C1668.0 128.2 1668.4 120.1 1668.4 112.0Z" fill="#db0000" stroke="#000" stroke-width="2.0" stroke-linejoin="round"/>
<path d="M1668.4 162.9V223.5M1668.4 282.1V327.7" stroke="#fff" stroke-width="2.0" fill="none"/>
<rect x="1657.5" y="224.5" width="21.6" height="56.6" fill="#db0000" stroke="#fff" stroke-width="2.0"/>
<path d="M1657.5 253.6H1679.2" stroke="#fff" stroke-width="3.6"/>
<path d="M1044 94V514H1758" fill="none" stroke="#000" stroke-width="2"/>
<path d="M1037.5 174.5L1044 174.5" stroke="#000" stroke-width="2"/>
<text x="1032.7" y="182.8" text-anchor="end" font-size="23.3">4000</text>
<path d="M1037.5 282L1044 282" stroke="#000" stroke-width="2"/>
<text x="1032.7" y="290.3" text-anchor="end" font-size="23.3">2000</text>
<path d="M1037.5 389.5L1044 389.5" stroke="#000" stroke-width="2"/>
<text x="1032.7" y="397.8" text-anchor="end" font-size="23.3">0</text>
<path d="M1037.5 497L1044 497" stroke="#000" stroke-width="2"/>
<text x="1032.7" y="505.3" text-anchor="end" font-size="23.3">−2000</text>
<path d="M1177 514L1177 520.5" stroke="#000" stroke-width="2"/>
<text text-anchor="end" transform="translate(1188.6,536) rotate(-45)" font-size="23.4">StromalScore</text>
<text x="1177" y="160.5" text-anchor="middle" font-size="20.6">***</text>
<path d="M1400.3 514L1400.3 520.5" stroke="#000" stroke-width="2"/>
<text text-anchor="end" transform="translate(1411.9,536) rotate(-45)" font-size="23.4">ImmuneScore</text>
<text x="1400.3" y="160.5" text-anchor="middle" font-size="20.6">***</text>
<path d="M1623.6 514L1623.6 520.5" stroke="#000" stroke-width="2"/>
<text text-anchor="end" transform="translate(1635.2,536) rotate(-45)" font-size="23.4">ESTIMATEScore</text>
<text x="1623.6" y="160.5" text-anchor="middle" font-size="20.6">***</text>
<text text-anchor="middle" transform="translate(957,304) rotate(-90)" font-size="23.3">TME score</text>
<text x="21.3" y="721.6" font-weight="bold" class="sf" font-size="37.5">C</text>
<text x="298.8" y="728.8" font-size="17.7">Subtype</text>
<path d="M384.6 713V733" stroke="#000" stroke-width="1.3"/>
<rect x="374.5" y="716.7" width="20.2" height="13" fill="#0000ff" stroke="#000" stroke-width="1.3"/>
<path d="M374.5 723.2H394.7" stroke="#000" stroke-width="2.6"/>
<path d="M502.6 713V733" stroke="#000" stroke-width="1.3"/>
<rect x="492.5" y="716.7" width="20.2" height="13" fill="#db0000" stroke="#000" stroke-width="1.3"/>
<path d="M492.5 723.2H512.7" stroke="#000" stroke-width="2.6"/>
<text x="406.6" y="728.3" font-size="14.4">Immunity_L</text>
<text x="524.6" y="728.3" font-size="14.4">Immunity_H</text>
<g>
<circle cx="80.9" cy="834.4" r="3.4"/>
<circle cx="80.9" cy="853.1" r="3.4"/>
<path d="M80.9 789.8V827.7" stroke="#000" stroke-width="1.45"/>
<rect x="72.6" y="801.7" width="16.6" height="13.3" fill="#0000ff" stroke="#000" stroke-width="1.45"/>
<path d="M72.1 806.2H89.7" stroke="#000" stroke-width="2.8"/>
<path d="M96.7 787.4V802.6" stroke="#000" stroke-width="1.45"/>
<rect x="88.4" y="793.1" width="16.6" height="7.6" fill="#db0000" stroke="#000" stroke-width="1.45"/>
<path d="M87.9 796.7H105.5" stroke="#000" stroke-width="2.8"/>
<circle cx="120.9" cy="864.9" r="3.4"/>
<circle cx="120.9" cy="874.4" r="3.4"/>
<path d="M120.9 783.2V847.6" stroke="#000" stroke-width="1.45"/>
<rect x="112.6" y="801.2" width="16.6" height="19.4" fill="#0000ff" stroke="#000" stroke-width="1.45"/>
<path d="M112.1 809.5H129.7" stroke="#000" stroke-width="2.8"/>
<path d="M136.8 780.3V801.4" stroke="#000" stroke-width="1.45"/>
<rect x="128.5" y="783.9" width="16.6" height="10" fill="#db0000" stroke="#000" stroke-width="1.45"/>
<path d="M128 787.9H145.6" stroke="#000" stroke-width="2.8"/>
<circle cx="161" cy="847.9" r="3.4"/>
<circle cx="161" cy="854.3" r="3.4"/>
<circle cx="161" cy="860" r="3.4"/>
<path d="M161 795V842" stroke="#000" stroke-width="1.45"/>
<rect x="152.7" y="809.5" width="16.6" height="15.4" fill="#0000ff" stroke="#000" stroke-width="1.45"/>
<path d="M152.2 815.4H169.8" stroke="#000" stroke-width="2.8"/>
<path d="M177.1 791.2V807.6" stroke="#000" stroke-width="1.45"/>
<rect x="168.8" y="794.6" width="16.6" height="9.2" fill="#db0000" stroke="#000" stroke-width="1.45"/>
<path d="M168.3 799.5H185.9" stroke="#000" stroke-width="2.8"/>
<circle cx="201.3" cy="1028" r="3.4"/>
<circle cx="201.3" cy="1043.2" r="3.4"/>
<circle cx="201.3" cy="1059.1" r="3.4"/>
<circle cx="201.3" cy="1069" r="3.4"/>
<circle cx="201.3" cy="1079.9" r="3.4"/>
<circle cx="201.3" cy="1083.7" r="3.4"/>
<circle cx="201.3" cy="1117.8" r="3.4"/>
<path d="M201.3 826.6V1013.1" stroke="#000" stroke-width="1.45"/>
<rect x="193" y="887.5" width="16.6" height="54.5" fill="#0000ff" stroke="#000" stroke-width="1.45"/>
<path d="M192.5 918.5H210.1" stroke="#000" stroke-width="2.8"/>
<path d="M217.1 822.5V892.4" stroke="#000" stroke-width="1.45"/>
<rect x="208.8" y="835.3" width="16.6" height="33.9" fill="#db0000" stroke="#000" stroke-width="1.45"/>
<path d="M208.3 856.7H225.9" stroke="#000" stroke-width="2.8"/>
<path d="M241.3 840.8V997" stroke="#000" stroke-width="1.45"/>
<rect x="233" y="900.7" width="16.6" height="54" fill="#0000ff" stroke="#000" stroke-width="1.45"/>
<path d="M232.5 919.2H250.1" stroke="#000" stroke-width="2.8"/>
<path d="M257.4 826.8V917.8" stroke="#000" stroke-width="1.45"/>
<rect x="249.1" y="844.6" width="16.6" height="36" fill="#db0000" stroke="#000" stroke-width="1.45"/>
<path d="M248.6 859.3H266.2" stroke="#000" stroke-width="2.8"/>
<circle cx="281.4" cy="1017.3" r="3.4"/>
<circle cx="281.4" cy="1067.6" r="3.4"/>
<circle cx="281.4" cy="1071.6" r="3.4"/>
<path d="M281.4 1078.7V1129.2" stroke="#000" stroke-width="1.45"/>
<rect x="273.1" y="1097" width="16.6" height="14.9" fill="#0000ff" stroke="#000" stroke-width="1.45"/>
<path d="M272.6 1106.2H290.2" stroke="#000" stroke-width="2.8"/>
<path d="M297.5 1032V1104.1" stroke="#000" stroke-width="1.45"/>
<rect x="289.2" y="1053.4" width="16.6" height="35.6" fill="#db0000" stroke="#000" stroke-width="1.45"/>
<path d="M288.7 1077.1H306.3" stroke="#000" stroke-width="2.8"/>
<circle cx="321.6" cy="1024.7" r="3.4"/>
<circle cx="321.6" cy="1034.6" r="3.4"/>
<circle cx="321.6" cy="1056.5" r="3.4"/>
<circle cx="321.6" cy="1114" r="3.4"/>
<circle cx="321.6" cy="1125.2" r="3.4"/>
<circle cx="321.6" cy="1132.1" r="3.4"/>
<circle cx="321.6" cy="1136.3" r="3.4"/>
<circle cx="321.6" cy="1141.1" r="3.4"/>
<circle cx="321.6" cy="1145.3" r="3.4"/>
<circle cx="321.6" cy="1148.9" r="3.4"/>
<path d="M312.8 1149.8H330.4" stroke="#000" stroke-width="2.8"/>
<path d="M337.7 1024.7V1148.4" stroke="#000" stroke-width="1.45"/>
<rect x="329.4" y="1060.2" width="16.6" height="88.2" fill="#db0000" stroke="#000" stroke-width="1.45"/>
<path d="M328.9 1071.4H346.5" stroke="#000" stroke-width="2.8"/>
<circle cx="361.9" cy="1001.9" r="3.4"/>
<path d="M361.9 813V986.3" stroke="#000" stroke-width="1.45"/>
<rect x="353.6" y="874" width="16.6" height="49.8" fill="#0000ff" stroke="#000" stroke-width="1.45"/>
<path d="M353.1 894.1H370.7" stroke="#000" stroke-width="2.8"/>
<path d="M378 801.9V874" stroke="#000" stroke-width="1.45"/>
<rect x="369.7" y="815.9" width="16.6" height="26.1" fill="#db0000" stroke="#000" stroke-width="1.45"/>
<path d="M369.2 829.4H386.8" stroke="#000" stroke-width="2.8"/>
<circle cx="401.9" cy="844.3" r="3.4"/>
<circle cx="401.9" cy="1048.4" r="3.4"/>
<path d="M401.9 915V1029.7" stroke="#000" stroke-width="1.45"/>
<rect x="393.6" y="949.3" width="16.6" height="35.3" fill="#0000ff" stroke="#000" stroke-width="1.45"/>
<path d="M393.1 966.9H410.7" stroke="#000" stroke-width="2.8"/>
<circle cx="418" cy="846.9" r="3.4"/>
<circle cx="418" cy="856.7" r="3.4"/>
<path d="M418 893.9V951.2" stroke="#000" stroke-width="1.45"/>
<rect x="409.7" y="909.5" width="16.6" height="20.6" fill="#db0000" stroke="#000" stroke-width="1.45"/>
<path d="M409.2 919.9H426.8" stroke="#000" stroke-width="2.8"/>
<circle cx="442" cy="962.4" r="3.4"/>
<circle cx="442" cy="1033" r="3.4"/>
<circle cx="442" cy="1119.3" r="3.4"/>
<circle cx="442" cy="1138.2" r="3.4"/>
<circle cx="442" cy="1146.3" r="3.4"/>
<circle cx="442" cy="1149.8" r="3.4"/>
<path d="M433.2 1149.8H450.8" stroke="#000" stroke-width="2.8"/>
<circle cx="458.1" cy="985.4" r="3.4"/>
<circle cx="458.1" cy="1071.1" r="3.4"/>
<circle cx="458.1" cy="1073.8" r="3.4"/>
<path d="M458.1 1092V1150.1" stroke="#000" stroke-width="1.45"/>
<rect x="449.8" y="1123.1" width="16.6" height="27" fill="#db0000" stroke="#000" stroke-width="1.45"/>
<path d="M449.3 1149.6H466.9" stroke="#000" stroke-width="2.8"/>
<path d="M482.3 830.1V1149.4" stroke="#000" stroke-width="1.45"/>
<rect x="474" y="940.3" width="16.6" height="209" fill="#0000ff" stroke="#000" stroke-width="1.45"/>
<path d="M473.5 1135.6H491.1" stroke="#000" stroke-width="2.8"/>
<circle cx="498.4" cy="818.3" r="3.4"/>
<circle cx="498.4" cy="840.3" r="3.4"/>
<circle cx="498.4" cy="845.3" r="3.4"/>
<circle cx="498.4" cy="850" r="3.4"/>
<circle cx="498.4" cy="858.8" r="3.4"/>
<path d="M498.4 1021.1V1149.4" stroke="#000" stroke-width="1.45"/>
<rect x="490.1" y="1042.7" width="16.6" height="95.8" fill="#db0000" stroke="#000" stroke-width="1.45"/>
<path d="M489.6 1127.6H507.2" stroke="#000" stroke-width="2.8"/>
<path d="M522.3 941V1135.9" stroke="#000" stroke-width="1.45"/>
<rect x="514" y="990.6" width="16.6" height="93.9" fill="#0000ff" stroke="#000" stroke-width="1.45"/>
<path d="M513.5 1034.4H531.1" stroke="#000" stroke-width="2.8"/>
<circle cx="538.4" cy="985.8" r="3.4"/>
<circle cx="538.4" cy="1016.6" r="3.4"/>
<circle cx="538.4" cy="1029.7" r="3.4"/>
<path d="M538.4 901.9V975.9" stroke="#000" stroke-width="1.45"/>
<rect x="530.1" y="914" width="16.6" height="28.7" fill="#db0000" stroke="#000" stroke-width="1.45"/>
<path d="M529.6 932H547.2" stroke="#000" stroke-width="2.8"/>
<circle cx="562.5" cy="938.7" r="3.4"/>
<circle cx="562.5" cy="1006" r="3.4"/>
<circle cx="562.5" cy="1051.5" r="3.4"/>
<circle cx="562.5" cy="1072.3" r="3.4"/>
<circle cx="562.5" cy="1078" r="3.4"/>
<circle cx="562.5" cy="1087.7" r="3.4"/>
<circle cx="562.5" cy="1098.9" r="3.4"/>
<circle cx="562.5" cy="1103.9" r="3.4"/>
<circle cx="562.5" cy="1124.2" r="3.4"/>
<circle cx="562.5" cy="1133" r="3.4"/>
<circle cx="562.5" cy="1137.5" r="3.4"/>
<circle cx="562.5" cy="1142.3" r="3.4"/>
<circle cx="562.5" cy="1146.3" r="3.4"/>
<circle cx="562.5" cy="1149.8" r="3.4"/>
<path d="M553.7 1144.4H571.3" stroke="#000" stroke-width="2.8"/>
<path d="M578.6 885.8V1144.1" stroke="#000" stroke-width="1.45"/>
<rect x="570.3" y="952.2" width="16.6" height="173" fill="#db0000" stroke="#000" stroke-width="1.45"/>
<path d="M569.8 1081.3H587.4" stroke="#000" stroke-width="2.8"/>
<circle cx="602.8" cy="1004.5" r="3.4"/>
<circle cx="602.8" cy="1010.9" r="3.4"/>
<circle cx="602.8" cy="1020.9" r="3.4"/>
<circle cx="602.8" cy="1063.8" r="3.4"/>
<circle cx="602.8" cy="1071.6" r="3.4"/>
<circle cx="602.8" cy="1103.4" r="3.4"/>
<path d="M602.8 788.4V953.4" stroke="#000" stroke-width="1.45"/>
<rect x="594.5" y="831.5" width="16.6" height="61.6" fill="#0000ff" stroke="#000" stroke-width="1.45"/>
<path d="M594 854.8H611.6" stroke="#000" stroke-width="2.8"/>
<circle cx="618.9" cy="859" r="3.4"/>
<path d="M618.9 783.9V828.9" stroke="#000" stroke-width="1.45"/>
<rect x="610.6" y="788.6" width="16.6" height="25.4" fill="#db0000" stroke="#000" stroke-width="1.45"/>
<path d="M610.1 801H627.7" stroke="#000" stroke-width="2.8"/>
<path d="M642.9 965.9V1094.1" stroke="#000" stroke-width="1.45"/>
<rect x="634.6" y="1015.9" width="16.6" height="46.7" fill="#0000ff" stroke="#000" stroke-width="1.45"/>
<path d="M634.1 1038H651.7" stroke="#000" stroke-width="2.8"/>
<circle cx="659" cy="1031.1" r="3.4"/>
<path d="M659 969.9V1021.9" stroke="#000" stroke-width="1.45"/>
<rect x="650.7" y="975.9" width="16.6" height="22" fill="#db0000" stroke="#000" stroke-width="1.45"/>
<path d="M650.2 988.2H667.8" stroke="#000" stroke-width="2.8"/>
<circle cx="682.9" cy="878" r="3.4"/>
<circle cx="682.9" cy="885.8" r="3.4"/>
<path d="M682.9 819.9V874.4" stroke="#000" stroke-width="1.45"/>
<rect x="674.6" y="837.5" width="16.6" height="15.9" fill="#0000ff" stroke="#000" stroke-width="1.45"/>
<path d="M674.1 842.9H691.7" stroke="#000" stroke-width="2.8"/>
<path d="M699 808.1V837.9" stroke="#000" stroke-width="1.45"/>
<rect x="690.7" y="813.8" width="16.6" height="14.9" fill="#db0000" stroke="#000" stroke-width="1.45"/>
<path d="M690.2 822.1H707.8" stroke="#000" stroke-width="2.8"/>
<circle cx="723.2" cy="839.1" r="3.4"/>
<circle cx="723.2" cy="941" r="3.4"/>
<circle cx="723.2" cy="946.2" r="3.4"/>
<path d="M723.2 842.4V929.7" stroke="#000" stroke-width="1.45"/>
<rect x="714.9" y="877.5" width="16.6" height="25.4" fill="#0000ff" stroke="#000" stroke-width="1.45"/>
<path d="M714.4 887.5H732" stroke="#000" stroke-width="2.8"/>
<path d="M739.3 817.8V875.6" stroke="#000" stroke-width="1.45"/>
<rect x="731" y="826.6" width="16.6" height="35.8" fill="#db0000" stroke="#000" stroke-width="1.45"/>
<path d="M730.5 838.9H748.1" stroke="#000" stroke-width="2.8"/>
<circle cx="763.3" cy="890.3" r="3.4"/>
<circle cx="763.3" cy="904.8" r="3.4"/>
<circle cx="763.3" cy="911.2" r="3.4"/>
<path d="M763.3 825.4V887.5" stroke="#000" stroke-width="1.45"/>
<rect x="755" y="844.3" width="16.6" height="18" fill="#0000ff" stroke="#000" stroke-width="1.45"/>
<path d="M754.5 849.8H772.1" stroke="#000" stroke-width="2.8"/>
<path d="M779.4 812.6V847.6" stroke="#000" stroke-width="1.45"/>
<rect x="771.1" y="819.4" width="16.6" height="13.7" fill="#db0000" stroke="#000" stroke-width="1.45"/>
<path d="M770.6 825.4H788.2" stroke="#000" stroke-width="2.8"/>
<circle cx="803.6" cy="813.1" r="3.4"/>
<circle cx="803.6" cy="896" r="3.4"/>
<circle cx="803.6" cy="899.4" r="3.4"/>
<path d="M803.6 819.1V889.2" stroke="#000" stroke-width="1.45"/>
<rect x="795.3" y="842.5" width="16.6" height="20.2" fill="#0000ff" stroke="#000" stroke-width="1.45"/>
<path d="M794.8 852.1H812.4" stroke="#000" stroke-width="2.8"/>
<path d="M819.7 804V847.8" stroke="#000" stroke-width="1.45"/>
<rect x="811.4" y="815.3" width="16.6" height="20.2" fill="#db0000" stroke="#000" stroke-width="1.45"/>
<path d="M810.9 823.9H828.5" stroke="#000" stroke-width="2.8"/>
</g>
<path d="M64.8 762.4V1168H835.5" fill="none" stroke="#000" stroke-width="1.5"/>
<path d="M60.2 781.7L64.8 781.7" stroke="#000" stroke-width="1.5"/>
<text x="56.4" y="787.9" text-anchor="end" font-size="17.4">4.0</text>
<path d="M60.2 861.4L64.8 861.4" stroke="#000" stroke-width="1.5"/>
<text x="56.4" y="867.6" text-anchor="end" font-size="17.4">3.5</text>
<path d="M60.2 941.1L64.8 941.1" stroke="#000" stroke-width="1.5"/>
<text x="56.4" y="947.3" text-anchor="end" font-size="17.4">3.0</text>
<path d="M60.2 1020.8L64.8 1020.8" stroke="#000" stroke-width="1.5"/>
<text x="56.4" y="1027" text-anchor="end" font-size="17.4">2.5</text>
<path d="M60.2 1100.5L64.8 1100.5" stroke="#000" stroke-width="1.5"/>
<text x="56.4" y="1106.7" text-anchor="end" font-size="17.4">2.0</text>
<path d="M88.8 1168L88.8 1172.6" stroke="#000" stroke-width="1.5"/>
<text text-anchor="end" transform="translate(97.7,1184.3) rotate(-45)" font-size="17.8">HLA−A</text>
<text x="88.8" y="779.9" text-anchor="middle" font-size="16">***</text>
<path d="M129 1168L129 1172.6" stroke="#000" stroke-width="1.5"/>
<text text-anchor="end" transform="translate(137.9,1184.3) rotate(-45)" font-size="17.8">HLA−B</text>
<text x="129" y="779.9" text-anchor="middle" font-size="16">***</text>
<path d="M169.1 1168L169.1 1172.6" stroke="#000" stroke-width="1.5"/>
<text text-anchor="end" transform="translate(178,1184.3) rotate(-45)" font-size="17.8">HLA−C</text>
<text x="169.1" y="779.9" text-anchor="middle" font-size="16">***</text>
<path d="M209.3 1168L209.3 1172.6" stroke="#000" stroke-width="1.5"/>
<text text-anchor="end" transform="translate(218.2,1184.3) rotate(-45)" font-size="17.8">HLA−DMA</text>
<text x="209.3" y="779.9" text-anchor="middle" font-size="16">***</text>
<path d="M249.4 1168L249.4 1172.6" stroke="#000" stroke-width="1.5"/>
<text text-anchor="end" transform="translate(258.3,1184.3) rotate(-45)" font-size="17.8">HLA−DMB</text>
<text x="249.4" y="779.9" text-anchor="middle" font-size="16">***</text>
<path d="M289.6 1168L289.6 1172.6" stroke="#000" stroke-width="1.5"/>
<text text-anchor="end" transform="translate(298.5,1184.3) rotate(-45)" font-size="17.8">HLA−DOA</text>
<text x="289.6" y="779.9" text-anchor="middle" font-size="16">***</text>
<path d="M329.8 1168L329.8 1172.6" stroke="#000" stroke-width="1.5"/>
<text text-anchor="end" transform="translate(338.7,1184.3) rotate(-45)" font-size="17.8">HLA−DOB</text>
<text x="329.8" y="779.9" text-anchor="middle" font-size="16">***</text>
<path d="M369.9 1168L369.9 1172.6" stroke="#000" stroke-width="1.5"/>
<text text-anchor="end" transform="translate(378.8,1184.3) rotate(-45)" font-size="17.8">HLA−DPA1</text>
<text x="369.9" y="779.9" text-anchor="middle" font-size="16">***</text>
<path d="M410.1 1168L410.1 1172.6" stroke="#000" stroke-width="1.5"/>
<text text-anchor="end" transform="translate(419,1184.3) rotate(-45)" font-size="17.8">HLA−DPB1</text>
<text x="410.1" y="779.9" text-anchor="middle" font-size="16">***</text>
<path d="M450.2 1168L450.2 1172.6" stroke="#000" stroke-width="1.5"/>
<text text-anchor="end" transform="translate(459.1,1184.3) rotate(-45)" font-size="17.8">HLA−DPB2</text>
<text x="450.2" y="779.9" text-anchor="middle" font-size="16">***</text>
<path d="M490.4 1168L490.4 1172.6" stroke="#000" stroke-width="1.5"/>
<text text-anchor="end" transform="translate(499.3,1184.3) rotate(-45)" font-size="17.8">HLA−DQA1</text>
<text x="490.4" y="780.4" text-anchor="middle" font-size="15.6">ns</text>
<path d="M530.6 1168L530.6 1172.6" stroke="#000" stroke-width="1.5"/>
<text text-anchor="end" transform="translate(539.5,1184.3) rotate(-45)" font-size="17.8">HLA−DQB1</text>
<text x="530.6" y="779.9" text-anchor="middle" font-size="16">***</text>
<path d="M570.7 1168L570.7 1172.6" stroke="#000" stroke-width="1.5"/>
<text text-anchor="end" transform="translate(579.6,1184.3) rotate(-45)" font-size="17.8">HLA−DQB2</text>
<text x="570.7" y="779.9" text-anchor="middle" font-size="16">***</text>
<path d="M610.9 1168L610.9 1172.6" stroke="#000" stroke-width="1.5"/>
<text text-anchor="end" transform="translate(619.8,1184.3) rotate(-45)" font-size="17.8">HLA−DRA</text>
<text x="610.9" y="779.9" text-anchor="middle" font-size="16">***</text>
<path d="M651 1168L651 1172.6" stroke="#000" stroke-width="1.5"/>
<text text-anchor="end" transform="translate(659.9,1184.3) rotate(-45)" font-size="17.8">HLA−DRB6</text>
<text x="651" y="779.9" text-anchor="middle" font-size="16">***</text>
<path d="M691.2 1168L691.2 1172.6" stroke="#000" stroke-width="1.5"/>
<text text-anchor="end" transform="translate(700.1,1184.3) rotate(-45)" font-size="17.8">HLA−E</text>
<text x="691.2" y="779.9" text-anchor="middle" font-size="16">***</text>
<path d="M731.4 1168L731.4 1172.6" stroke="#000" stroke-width="1.5"/>
<text text-anchor="end" transform="translate(740.3,1184.3) rotate(-45)" font-size="17.8">HLA−F</text>
<text x="731.4" y="779.9" text-anchor="middle" font-size="16">***</text>
<path d="M771.5 1168L771.5 1172.6" stroke="#000" stroke-width="1.5"/>
<text text-anchor="end" transform="translate(780.4,1184.3) rotate(-45)" font-size="17.8">HLA−G</text>
<text x="771.5" y="779.9" text-anchor="middle" font-size="16">***</text>
<path d="M811.7 1168L811.7 1172.6" stroke="#000" stroke-width="1.5"/>
<text text-anchor="end" transform="translate(820.6,1184.3) rotate(-45)" font-size="17.8">HLA−J</text>
<text x="811.7" y="779.9" text-anchor="middle" font-size="16">***</text>
<text text-anchor="middle" transform="translate(24,965) rotate(-90)" font-size="17.7">Gene expression</text>
<text x="916.3" y="740" font-weight="bold" class="sf" font-size="35.5">D</text>
<text x="1223.4" y="728.8" font-size="17.7">Subtype</text>
<path d="M1309.4 713V733" stroke="#000" stroke-width="1.3"/>
<rect x="1299.3" y="716.7" width="20.2" height="13" fill="#0000ff" stroke="#000" stroke-width="1.3"/>
<path d="M1299.3 723.2H1319.5" stroke="#000" stroke-width="2.6"/>
<path d="M1427.4 713V733" stroke="#000" stroke-width="1.3"/>
<rect x="1417.3" y="716.7" width="20.2" height="13" fill="#db0000" stroke="#000" stroke-width="1.3"/>
<path d="M1417.3 723.2H1437.5" stroke="#000" stroke-width="2.6"/>
<text x="1331.4" y="728.3" font-size="14.4">Immunity_L</text>
<text x="1449.4" y="728.3" font-size="14.4">Immunity_H</text>
<g>
<path d="M1003.5 787.4V825.8" stroke="#000" stroke-width="1.45"/>
<rect x="996.3" y="794.6" width="14.4" height="13" fill="#0000ff" stroke="#000" stroke-width="1.45"/>
<path d="M995.8 800H1011.2" stroke="#000" stroke-width="2.8"/>
<path d="M1017.5 784.4V807.6" stroke="#000" stroke-width="1.45"/>
<rect x="1010.3" y="789.1" width="14.4" height="9" fill="#db0000" stroke="#000" stroke-width="1.45"/>
<path d="M1009.8 792.7H1025.2" stroke="#000" stroke-width="2.8"/>
<circle cx="1038.3" cy="809.7" r="3.4"/>
<path d="M1038.3 784.8V805.7" stroke="#000" stroke-width="1.45"/>
<rect x="1031.1" y="791.5" width="14.4" height="7.8" fill="#0000ff" stroke="#000" stroke-width="1.45"/>
<path d="M1030.6 794.6H1046" stroke="#000" stroke-width="2.8"/>
<circle cx="1052.3" cy="796.2" r="3.4"/>
<circle cx="1052.3" cy="799.8" r="3.4"/>
<circle cx="1052.3" cy="802.9" r="3.4"/>
<path d="M1052.3 783.2V793.8" stroke="#000" stroke-width="1.45"/>
<rect x="1045.1" y="786.7" width="14.4" height="5.2" fill="#db0000" stroke="#000" stroke-width="1.45"/>
<path d="M1044.6 789.1H1060" stroke="#000" stroke-width="2.8"/>
<circle cx="1072.9" cy="1074.5" r="3.4"/>
<circle cx="1072.9" cy="1086.1" r="3.4"/>
<circle cx="1072.9" cy="1119.7" r="3.4"/>
<circle cx="1072.9" cy="1149.6" r="3.4"/>
<path d="M1072.9 808.1V1033.9" stroke="#000" stroke-width="1.45"/>
<rect x="1065.7" y="832.2" width="14.4" height="85.3" fill="#0000ff" stroke="#000" stroke-width="1.45"/>
<path d="M1065.2 854.8H1080.6" stroke="#000" stroke-width="2.8"/>
<path d="M1086.9 808.8V1115.7" stroke="#000" stroke-width="1.45"/>
<rect x="1079.7" y="832.2" width="14.4" height="130.1" fill="#db0000" stroke="#000" stroke-width="1.45"/>
<path d="M1079.2 867.8H1094.6" stroke="#000" stroke-width="2.8"/>
<circle cx="1107.5" cy="870.9" r="3.4"/>
<circle cx="1107.5" cy="874" r="3.4"/>
<circle cx="1107.5" cy="882.3" r="3.4"/>
<path d="M1107.5 810.7V866.1" stroke="#000" stroke-width="1.45"/>
<rect x="1100.3" y="822.3" width="14.4" height="19" fill="#0000ff" stroke="#000" stroke-width="1.45"/>
<path d="M1099.8 832.2H1115.2" stroke="#000" stroke-width="2.8"/>
<circle cx="1121.5" cy="844.8" r="3.4"/>
<circle cx="1121.5" cy="846.7" r="3.4"/>
<circle cx="1121.5" cy="856.9" r="3.4"/>
<path d="M1121.5 803.8V837.7" stroke="#000" stroke-width="1.45"/>
<rect x="1114.3" y="815.7" width="14.4" height="11.9" fill="#db0000" stroke="#000" stroke-width="1.45"/>
<path d="M1113.8 820.4H1129.2" stroke="#000" stroke-width="2.8"/>
<circle cx="1142.4" cy="832.5" r="3.4"/>
<circle cx="1142.4" cy="834.6" r="3.4"/>
<path d="M1142.4 795V829.4" stroke="#000" stroke-width="1.45"/>
<rect x="1135.2" y="801.9" width="14.4" height="12.6" fill="#0000ff" stroke="#000" stroke-width="1.45"/>
<path d="M1134.7 807.1H1150.1" stroke="#000" stroke-width="2.8"/>
<circle cx="1156.4" cy="812.3" r="3.4"/>
<path d="M1156.4 791V809.3" stroke="#000" stroke-width="1.45"/>
<rect x="1149.2" y="796.9" width="14.4" height="6.4" fill="#db0000" stroke="#000" stroke-width="1.45"/>
<path d="M1148.7 799.8H1164.1" stroke="#000" stroke-width="2.8"/>
<path d="M1177.2 824.7V925.6" stroke="#000" stroke-width="1.45"/>
<rect x="1170" y="846" width="14.4" height="32.9" fill="#0000ff" stroke="#000" stroke-width="1.45"/>
<path d="M1169.5 859.3H1184.9" stroke="#000" stroke-width="2.8"/>
<circle cx="1191.2" cy="870.4" r="3.4"/>
<path d="M1191.2 813V859" stroke="#000" stroke-width="1.45"/>
<rect x="1184" y="830.6" width="14.4" height="15.2" fill="#db0000" stroke="#000" stroke-width="1.45"/>
<path d="M1183.5 836.7H1198.9" stroke="#000" stroke-width="2.8"/>
<circle cx="1211.8" cy="997.9" r="3.4"/>
<circle cx="1211.8" cy="1024.2" r="3.4"/>
<path d="M1211.8 853.6V986.8" stroke="#000" stroke-width="1.45"/>
<rect x="1204.6" y="888.7" width="14.4" height="42" fill="#0000ff" stroke="#000" stroke-width="1.45"/>
<path d="M1204.1 905.5H1219.5" stroke="#000" stroke-width="2.8"/>
<path d="M1226 820.9V914.7" stroke="#000" stroke-width="1.45"/>
<rect x="1218.8" y="852.2" width="14.4" height="40.3" fill="#db0000" stroke="#000" stroke-width="1.45"/>
<path d="M1218.3 872.3H1233.7" stroke="#000" stroke-width="2.8"/>
<circle cx="1246.6" cy="834.8" r="3.4"/>
<circle cx="1246.6" cy="838.9" r="3.4"/>
<circle cx="1246.6" cy="842" r="3.4"/>
<circle cx="1246.6" cy="853.8" r="3.4"/>
<path d="M1246.6 793.8V828.7" stroke="#000" stroke-width="1.45"/>
<rect x="1239.4" y="806.4" width="14.4" height="10.4" fill="#0000ff" stroke="#000" stroke-width="1.45"/>
<path d="M1238.9 811.1H1254.3" stroke="#000" stroke-width="2.8"/>
<path d="M1260.6 787.4V807.6" stroke="#000" stroke-width="1.45"/>
<rect x="1253.4" y="792.2" width="14.4" height="10.4" fill="#db0000" stroke="#000" stroke-width="1.45"/>
<path d="M1252.9 796.7H1268.3" stroke="#000" stroke-width="2.8"/>
<circle cx="1281.4" cy="1062.9" r="3.4"/>
<circle cx="1281.4" cy="1112.4" r="3.4"/>
<path d="M1281.4 883V1051" stroke="#000" stroke-width="1.45"/>
<rect x="1274.2" y="931.5" width="14.4" height="50.7" fill="#0000ff" stroke="#000" stroke-width="1.45"/>
<path d="M1273.7 959.8H1289.1" stroke="#000" stroke-width="2.8"/>
<circle cx="1295.2" cy="842" r="3.4"/>
<circle cx="1295.2" cy="992.5" r="3.4"/>
<circle cx="1295.2" cy="1011.4" r="3.4"/>
<circle cx="1295.2" cy="1040.1" r="3.4"/>
<path d="M1295.2 877V978.2" stroke="#000" stroke-width="1.45"/>
<rect x="1288" y="899.6" width="14.4" height="36.5" fill="#db0000" stroke="#000" stroke-width="1.45"/>
<path d="M1287.5 914H1302.9" stroke="#000" stroke-width="2.8"/>
<path d="M1316 980.4V1125.2" stroke="#000" stroke-width="1.45"/>
<rect x="1308.8" y="1046.3" width="14.4" height="46.5" fill="#0000ff" stroke="#000" stroke-width="1.45"/>
<path d="M1308.3 1065H1323.7" stroke="#000" stroke-width="2.8"/>
<circle cx="1330" cy="965" r="3.4"/>
<path d="M1330 1013.6V1115.9" stroke="#000" stroke-width="1.45"/>
<rect x="1322.8" y="1038" width="14.4" height="47.2" fill="#db0000" stroke="#000" stroke-width="1.45"/>
<path d="M1322.3 1050.1H1337.7" stroke="#000" stroke-width="2.8"/>
<circle cx="1350.9" cy="948.9" r="3.4"/>
<path d="M1350.9 817.1V916.4" stroke="#000" stroke-width="1.45"/>
<rect x="1343.7" y="842.4" width="14.4" height="31" fill="#0000ff" stroke="#000" stroke-width="1.45"/>
<path d="M1343.2 855H1358.6" stroke="#000" stroke-width="2.8"/>
<circle cx="1364.8" cy="867.8" r="3.4"/>
<path d="M1364.8 809.3V845.5" stroke="#000" stroke-width="1.45"/>
<rect x="1357.6" y="819.4" width="14.4" height="17.3" fill="#db0000" stroke="#000" stroke-width="1.45"/>
<path d="M1357.1 829.2H1372.5" stroke="#000" stroke-width="2.8"/>
<circle cx="1385.5" cy="893.2" r="3.4"/>
<circle cx="1385.5" cy="896.2" r="3.4"/>
<path d="M1385.5 948.4V1140.8" stroke="#000" stroke-width="1.45"/>
<rect x="1378.3" y="1039.2" width="14.4" height="74.2" fill="#0000ff" stroke="#000" stroke-width="1.45"/>
<path d="M1377.8 1091.1H1393.2" stroke="#000" stroke-width="2.8"/>
<path d="M1399.4 956.7V1127.6" stroke="#000" stroke-width="1.45"/>
<rect x="1392.2" y="1037" width="14.4" height="64.7" fill="#db0000" stroke="#000" stroke-width="1.45"/>
<path d="M1391.7 1080.4H1407.1" stroke="#000" stroke-width="2.8"/>
<path d="M1420.3 884.1V1110.7" stroke="#000" stroke-width="1.45"/>
<rect x="1413.1" y="968.3" width="14.4" height="108.8" fill="#0000ff" stroke="#000" stroke-width="1.45"/>
<path d="M1412.6 1034.6H1428" stroke="#000" stroke-width="2.8"/>
<path d="M1434.3 863.3V1113.1" stroke="#000" stroke-width="1.45"/>
<rect x="1427.1" y="915.7" width="14.4" height="119.2" fill="#db0000" stroke="#000" stroke-width="1.45"/>
<path d="M1426.6 979H1442" stroke="#000" stroke-width="2.8"/>
<circle cx="1454.9" cy="985.4" r="3.4"/>
<circle cx="1454.9" cy="1093.7" r="3.4"/>
<circle cx="1454.9" cy="1122.1" r="3.4"/>
<path d="M1454.9 800.2V971.8" stroke="#000" stroke-width="1.45"/>
<rect x="1447.7" y="838.6" width="14.4" height="55.7" fill="#0000ff" stroke="#000" stroke-width="1.45"/>
<path d="M1447.2 859.7H1462.6" stroke="#000" stroke-width="2.8"/>
<circle cx="1469.1" cy="901.2" r="3.4"/>
<circle cx="1469.1" cy="920.2" r="3.4"/>
<circle cx="1469.1" cy="926.6" r="3.4"/>
<circle cx="1469.1" cy="975.9" r="3.4"/>
<path d="M1469.1 807.6V893.6" stroke="#000" stroke-width="1.45"/>
<rect x="1461.9" y="839.1" width="14.4" height="22.5" fill="#db0000" stroke="#000" stroke-width="1.45"/>
<path d="M1461.4 846.5H1476.8" stroke="#000" stroke-width="2.8"/>
<circle cx="1489.6" cy="847.4" r="3.4"/>
<circle cx="1489.6" cy="855.7" r="3.4"/>
<circle cx="1489.6" cy="867.8" r="3.4"/>
<path d="M1489.6 802.6V841.2" stroke="#000" stroke-width="1.45"/>
<rect x="1482.4" y="809.5" width="14.4" height="14" fill="#0000ff" stroke="#000" stroke-width="1.45"/>
<path d="M1481.9 815.7H1497.3" stroke="#000" stroke-width="2.8"/>
<path d="M1503.6 790.8V823.9" stroke="#000" stroke-width="1.45"/>
<rect x="1496.4" y="801.4" width="14.4" height="9.7" fill="#db0000" stroke="#000" stroke-width="1.45"/>
<path d="M1495.9 805H1511.3" stroke="#000" stroke-width="2.8"/>
<path d="M1524.5 809V1029" stroke="#000" stroke-width="1.45"/>
<rect x="1517.3" y="840.3" width="14.4" height="98.6" fill="#0000ff" stroke="#000" stroke-width="1.45"/>
<path d="M1516.8 896.2H1532.2" stroke="#000" stroke-width="2.8"/>
<path d="M1538.5 797.9V940.3" stroke="#000" stroke-width="1.45"/>
<rect x="1531.3" y="821.1" width="14.4" height="68" fill="#db0000" stroke="#000" stroke-width="1.45"/>
<path d="M1530.8 854H1546.2" stroke="#000" stroke-width="2.8"/>
<path d="M1559.3 792.2V1144.4" stroke="#000" stroke-width="1.45"/>
<rect x="1552.1" y="930.1" width="14.4" height="125.6" fill="#0000ff" stroke="#000" stroke-width="1.45"/>
<path d="M1551.6 1010.2H1567" stroke="#000" stroke-width="2.8"/>
<path d="M1573.3 797.9V1131.8" stroke="#000" stroke-width="1.45"/>
<rect x="1566.1" y="907.4" width="14.4" height="98.8" fill="#db0000" stroke="#000" stroke-width="1.45"/>
<path d="M1565.6 954.3H1581" stroke="#000" stroke-width="2.8"/>
<path d="M1593.9 818.3V887" stroke="#000" stroke-width="1.45"/>
<rect x="1586.7" y="836.3" width="14.4" height="24.9" fill="#0000ff" stroke="#000" stroke-width="1.45"/>
<path d="M1586.2 847.4H1601.6" stroke="#000" stroke-width="2.8"/>
<circle cx="1607.9" cy="863.1" r="3.4"/>
<path d="M1607.9 814V852.4" stroke="#000" stroke-width="1.45"/>
<rect x="1600.7" y="824.4" width="14.4" height="13.5" fill="#db0000" stroke="#000" stroke-width="1.45"/>
<path d="M1600.2 831.3H1615.6" stroke="#000" stroke-width="2.8"/>
<circle cx="1628.5" cy="803.3" r="3.4"/>
<circle cx="1628.5" cy="806.9" r="3.4"/>
<path d="M1628.5 783.7V801" stroke="#000" stroke-width="1.45"/>
<rect x="1621.3" y="789.8" width="14.4" height="5.9" fill="#0000ff" stroke="#000" stroke-width="1.45"/>
<path d="M1620.8 792.9H1636.2" stroke="#000" stroke-width="2.8"/>
<path d="M1642.8 780.3V797.9" stroke="#000" stroke-width="1.45"/>
<rect x="1635.6" y="784.8" width="14.4" height="6.4" fill="#db0000" stroke="#000" stroke-width="1.45"/>
<path d="M1635.1 787.7H1650.5" stroke="#000" stroke-width="2.8"/>
<circle cx="1663.6" cy="934.4" r="3.4"/>
<circle cx="1663.6" cy="935.6" r="3.4"/>
<path d="M1663.6 841.2V924.7" stroke="#000" stroke-width="1.45"/>
<rect x="1656.4" y="873" width="14.4" height="24.6" fill="#0000ff" stroke="#000" stroke-width="1.45"/>
<path d="M1655.9 882.7H1671.3" stroke="#000" stroke-width="2.8"/>
<circle cx="1677.4" cy="885.6" r="3.4"/>
<circle cx="1677.4" cy="893.2" r="3.4"/>
<circle cx="1677.4" cy="897.7" r="3.4"/>
<path d="M1677.4 824.4V880.8" stroke="#000" stroke-width="1.45"/>
<rect x="1670.2" y="842.7" width="14.4" height="16.8" fill="#db0000" stroke="#000" stroke-width="1.45"/>
<path d="M1669.7 849.5H1685.1" stroke="#000" stroke-width="2.8"/>
<circle cx="1698.2" cy="811.6" r="3.4"/>
<circle cx="1698.2" cy="834.6" r="3.4"/>
<circle cx="1698.2" cy="895.8" r="3.4"/>
<circle cx="1698.2" cy="899.3" r="3.4"/>
<path d="M1698.2 921.6V1100.1" stroke="#000" stroke-width="1.45"/>
<rect x="1691" y="1002.4" width="14.4" height="65.7" fill="#0000ff" stroke="#000" stroke-width="1.45"/>
<path d="M1690.5 1042.5H1705.9" stroke="#000" stroke-width="2.8"/>
<circle cx="1712.2" cy="805.7" r="3.4"/>
<path d="M1712.2 852.4V1074.9" stroke="#000" stroke-width="1.45"/>
<rect x="1705" y="959.8" width="14.4" height="86.5" fill="#db0000" stroke="#000" stroke-width="1.45"/>
<path d="M1704.5 1024.9H1719.9" stroke="#000" stroke-width="2.8"/>
<path d="M1732.9 879.6V1099.6" stroke="#000" stroke-width="1.45"/>
<rect x="1725.7" y="944.8" width="14.4" height="75.1" fill="#0000ff" stroke="#000" stroke-width="1.45"/>
<path d="M1725.2 970.4H1740.6" stroke="#000" stroke-width="2.8"/>
<path d="M1746.9 866.1V1078.5" stroke="#000" stroke-width="1.45"/>
<rect x="1739.7" y="923" width="14.4" height="91.5" fill="#db0000" stroke="#000" stroke-width="1.45"/>
<path d="M1739.2 960H1754.6" stroke="#000" stroke-width="2.8"/>
</g>
<path d="M989.6 762.4V1168H1760.5" fill="none" stroke="#000" stroke-width="1.5"/>
<path d="M985 795.9L989.6 795.9" stroke="#000" stroke-width="1.5"/>
<text x="981.2" y="802.1" text-anchor="end" font-size="17.4">4.0</text>
<path d="M985 921L989.6 921" stroke="#000" stroke-width="1.5"/>
<text x="981.2" y="927.2" text-anchor="end" font-size="17.4">3.5</text>
<path d="M985 1046.1L989.6 1046.1" stroke="#000" stroke-width="1.5"/>
<text x="981.2" y="1052.3" text-anchor="end" font-size="17.4">3.0</text>
<path d="M1010.5 1168L1010.5 1172.6" stroke="#000" stroke-width="1.5"/>
<text text-anchor="end" transform="translate(1019.4,1184.3) rotate(-45)" font-size="17.8">HLA−A</text>
<text x="1010.5" y="779.9" text-anchor="middle" font-size="16">***</text>
<path d="M1045.2 1168L1045.2 1172.6" stroke="#000" stroke-width="1.5"/>
<text text-anchor="end" transform="translate(1054.1,1184.3) rotate(-45)" font-size="17.8">HLA−B</text>
<text x="1045.2" y="779.9" text-anchor="middle" font-size="16">***</text>
<path d="M1080 1168L1080 1172.6" stroke="#000" stroke-width="1.5"/>
<text text-anchor="end" transform="translate(1088.9,1184.3) rotate(-45)" font-size="17.8">HLA−C</text>
<text x="1080" y="780.4" text-anchor="middle" font-size="15.6">ns</text>
<path d="M1114.7 1168L1114.7 1172.6" stroke="#000" stroke-width="1.5"/>
<text text-anchor="end" transform="translate(1123.6,1184.3) rotate(-45)" font-size="17.8">HLA−DMA</text>
<text x="1114.7" y="779.9" text-anchor="middle" font-size="16">***</text>
<path d="M1149.4 1168L1149.4 1172.6" stroke="#000" stroke-width="1.5"/>
<text text-anchor="end" transform="translate(1158.3,1184.3) rotate(-45)" font-size="17.8">HLA−DMB</text>
<text x="1149.4" y="779.9" text-anchor="middle" font-size="16">***</text>
<path d="M1184.2 1168L1184.2 1172.6" stroke="#000" stroke-width="1.5"/>
<text text-anchor="end" transform="translate(1193.1,1184.3) rotate(-45)" font-size="17.8">HLA−DOA</text>
<text x="1184.2" y="779.9" text-anchor="middle" font-size="16">***</text>
<path d="M1218.9 1168L1218.9 1172.6" stroke="#000" stroke-width="1.5"/>
<text text-anchor="end" transform="translate(1227.8,1184.3) rotate(-45)" font-size="17.8">HLA−DOB</text>
<text x="1218.9" y="779.9" text-anchor="middle" font-size="16">***</text>
<path d="M1253.6 1168L1253.6 1172.6" stroke="#000" stroke-width="1.5"/>
<text text-anchor="end" transform="translate(1262.5,1184.3) rotate(-45)" font-size="17.8">HLA−DPA1</text>
<text x="1253.6" y="779.9" text-anchor="middle" font-size="16">***</text>
<path d="M1288.3 1168L1288.3 1172.6" stroke="#000" stroke-width="1.5"/>
<text text-anchor="end" transform="translate(1297.2,1184.3) rotate(-45)" font-size="17.8">HLA−DPB1</text>
<text x="1288.3" y="779.9" text-anchor="middle" font-size="16">***</text>
<path d="M1323.1 1168L1323.1 1172.6" stroke="#000" stroke-width="1.5"/>
<text text-anchor="end" transform="translate(1332,1184.3) rotate(-45)" font-size="17.8">HLA−DPB2</text>
<text x="1323.1" y="780.4" text-anchor="middle" font-size="15.6">ns</text>
<path d="M1357.8 1168L1357.8 1172.6" stroke="#000" stroke-width="1.5"/>
<text text-anchor="end" transform="translate(1366.7,1184.3) rotate(-45)" font-size="17.8">HLA−DQA1</text>
<text x="1357.8" y="779.9" text-anchor="middle" font-size="16">***</text>
<path d="M1392.5 1168L1392.5 1172.6" stroke="#000" stroke-width="1.5"/>
<text text-anchor="end" transform="translate(1401.4,1184.3) rotate(-45)" font-size="17.8">HLA−DQA2</text>
<text x="1392.5" y="780.4" text-anchor="middle" font-size="15.6">ns</text>
<path d="M1427.3 1168L1427.3 1172.6" stroke="#000" stroke-width="1.5"/>
<text text-anchor="end" transform="translate(1436.2,1184.3) rotate(-45)" font-size="17.8">HLA−DQB1</text>
<text x="1427.3" y="779.9" text-anchor="middle" font-size="16">**</text>
<path d="M1462 1168L1462 1172.6" stroke="#000" stroke-width="1.5"/>
<text text-anchor="end" transform="translate(1470.9,1184.3) rotate(-45)" font-size="17.8">HLA−DQB2</text>
<text x="1462" y="780.4" text-anchor="middle" font-size="15.6">ns</text>
<path d="M1496.7 1168L1496.7 1172.6" stroke="#000" stroke-width="1.5"/>
<text text-anchor="end" transform="translate(1505.6,1184.3) rotate(-45)" font-size="17.8">HLA−DRA</text>
<text x="1496.7" y="779.9" text-anchor="middle" font-size="16">***</text>
<path d="M1531.4 1168L1531.4 1172.6" stroke="#000" stroke-width="1.5"/>
<text text-anchor="end" transform="translate(1540.3,1184.3) rotate(-45)" font-size="17.8">HLA−DRB1</text>
<text x="1531.4" y="779.9" text-anchor="middle" font-size="16">**</text>
<path d="M1566.2 1168L1566.2 1172.6" stroke="#000" stroke-width="1.5"/>
<text text-anchor="end" transform="translate(1575.1,1184.3) rotate(-45)" font-size="17.8">HLA−DRB5</text>
<text x="1566.2" y="779.9" text-anchor="middle" font-size="16">**</text>
<path d="M1600.9 1168L1600.9 1172.6" stroke="#000" stroke-width="1.5"/>
<text text-anchor="end" transform="translate(1609.8,1184.3) rotate(-45)" font-size="17.8">HLA−DRB6</text>
<text x="1600.9" y="779.9" text-anchor="middle" font-size="16">***</text>
<path d="M1635.6 1168L1635.6 1172.6" stroke="#000" stroke-width="1.5"/>
<text text-anchor="end" transform="translate(1644.5,1184.3) rotate(-45)" font-size="17.8">HLA−E</text>
<text x="1635.6" y="779.9" text-anchor="middle" font-size="16">***</text>
<path d="M1670.4 1168L1670.4 1172.6" stroke="#000" stroke-width="1.5"/>
<text text-anchor="end" transform="translate(1679.3,1184.3) rotate(-45)" font-size="17.8">HLA−F</text>
<text x="1670.4" y="779.9" text-anchor="middle" font-size="16">***</text>
<path d="M1705.1 1168L1705.1 1172.6" stroke="#000" stroke-width="1.5"/>
<text text-anchor="end" transform="translate(1714,1184.3) rotate(-45)" font-size="17.8">HLA−G</text>
<text x="1705.1" y="779.9" text-anchor="middle" font-size="16">**</text>
<path d="M1739.8 1168L1739.8 1172.6" stroke="#000" stroke-width="1.5"/>
<text text-anchor="end" transform="translate(1748.7,1184.3) rotate(-45)" font-size="17.8">HLA−H</text>
<text x="1739.8" y="780.4" text-anchor="middle" font-size="15.6">ns</text>
<text text-anchor="middle" transform="translate(948.8,965) rotate(-90)" font-size="17.7">Gene expression</text>
<text x="26" y="1314.5" font-weight="bold" class="sf" font-size="34.5">E</text>
<defs><filter id="eb" x="-2%" y="-2%" width="104%" height="104%"><feGaussianBlur stdDeviation="0.45"/></filter></defs>
<g filter="url(#eb)"><g transform="translate(73,1328.1) scale(5.5070,10.8)">
<path fill="#81ba73" d="M0 0h1.04v1h-1.04zM5 0h1.04v1h-1.04zM8 0h1.04v1h-1.04zM13 0h1.04v1h-1.04zM15 0h1.04v1h-1.04zM24 0h1.04v1h-1.04zM26 0h2.04v1h-2.04zM30 0h2.04v1h-2.04zM34 0h1.04v1h-1.04zM41 0h1.04v1h-1.04zM45 0h2.04v1h-2.04zM53 0h1.04v1h-1.04zM57 0h1.04v1h-1.04zM65 0h1.04v1h-1.04zM74 0h1.04v1h-1.04z"/>
<path fill="#73ae68" d="M1 0h1.04v1h-1.04zM6 0h2.04v1h-2.04zM11 0h2.04v1h-2.04zM18 0h1.04v1h-1.04zM25 0h1.04v1h-1.04zM32 0h1.04v1h-1.04zM35 0h2.04v1h-2.04zM38 0h1.04v1h-1.04zM40 0h1.04v1h-1.04zM42 0h1.04v1h-1.04zM47 0h5.04v1h-5.04zM54 0h1.04v1h-1.04zM63 0h2.04v1h-2.04zM68 0h1.04v1h-1.04zM70 0h1.04v1h-1.04z"/>
<path fill="#8fc57f" d="M2 0h1.04v1h-1.04zM9 0h2.04v1h-2.04zM16 0h2.04v1h-2.04zM22 0h1.04v1h-1.04zM28 0h2.04v1h-2.04zM33 0h1.04v1h-1.04zM59 0h2.04v1h-2.04zM62 0h1.04v1h-1.04zM86 0h2.04v1h-2.04zM89 0h1.04v1h-1.04z"/>
<path fill="#65a35c" d="M3 0h2.04v1h-2.04zM14 0h1.04v1h-1.04zM20 0h2.04v1h-2.04zM23 0h1.04v1h-1.04zM37 0h1.04v1h-1.04zM44 0h1.04v1h-1.04zM55 0h2.04v1h-2.04zM58 0h1.04v1h-1.04zM61 0h1.04v1h-1.04zM66 0h2.04v1h-2.04zM69 0h1.04v1h-1.04z"/>
<path fill="#a2cf92" d="M19 0h1.04v1h-1.04zM39 0h1.04v1h-1.04zM43 0h1.04v1h-1.04zM78 0h3.04v1h-3.04zM92 0h1.04v1h-1.04z"/>
<path fill="#d4eac9" d="M52 0h1.04v1h-1.04zM72 0h1.04v1h-1.04z"/>
<path fill="#c7e4b9" d="M71 0h1.04v1h-1.04zM81 0h4.04v1h-4.04zM88 0h1.04v1h-1.04z"/>
<path fill="#b4daa6" d="M73 0h1.04v1h-1.04zM75 0h1.04v1h-1.04zM85 0h1.04v1h-1.04zM91 0h1.04v1h-1.04z"/>
<path fill="#e2f1d9" d="M76 0h2.04v1h-2.04z"/>
<path fill="#eff7e9" d="M90 0h1.04v1h-1.04z"/>
</g></g>
<text x="589.5" y="1337.3" font-weight="bold" font-size="10.5">TumorPurity</text>
<g filter="url(#eb)"><g transform="translate(73,1341.2) scale(5.5070,10.8)">
<path fill="#c7e4b9" d="M0 0h2.04v1h-2.04zM8 0h1.04v1h-1.04zM11 0h2.04v1h-2.04zM18 0h1.04v1h-1.04zM25 0h1.04v1h-1.04zM31 0h2.04v1h-2.04zM35 0h2.04v1h-2.04zM38 0h1.04v1h-1.04zM40 0h1.04v1h-1.04zM42 0h1.04v1h-1.04zM45 0h2.04v1h-2.04zM49 0h3.04v1h-3.04zM53 0h2.04v1h-2.04zM65 0h1.04v1h-1.04zM68 0h1.04v1h-1.04z"/>
<path fill="#a6d1bc" d="M2 0h1.04v1h-1.04zM9 0h2.04v1h-2.04zM16 0h2.04v1h-2.04zM22 0h1.04v1h-1.04zM28 0h3.04v1h-3.04zM33 0h2.04v1h-2.04zM43 0h1.04v1h-1.04zM59 0h2.04v1h-2.04zM62 0h1.04v1h-1.04zM86 0h2.04v1h-2.04zM89 0h1.04v1h-1.04z"/>
<path fill="#e2f1d9" d="M3 0h2.04v1h-2.04zM56 0h1.04v1h-1.04zM66 0h2.04v1h-2.04z"/>
<path fill="#b6dbbb" d="M5 0h1.04v1h-1.04zM13 0h1.04v1h-1.04zM15 0h1.04v1h-1.04zM24 0h1.04v1h-1.04zM26 0h2.04v1h-2.04zM41 0h1.04v1h-1.04zM57 0h1.04v1h-1.04zM74 0h1.04v1h-1.04z"/>
<path fill="#d4eac9" d="M6 0h2.04v1h-2.04zM14 0h1.04v1h-1.04zM21 0h1.04v1h-1.04zM23 0h1.04v1h-1.04zM37 0h1.04v1h-1.04zM44 0h1.04v1h-1.04zM47 0h2.04v1h-2.04zM55 0h1.04v1h-1.04zM58 0h1.04v1h-1.04zM63 0h2.04v1h-2.04zM70 0h1.04v1h-1.04z"/>
<path fill="#95c8be" d="M19 0h1.04v1h-1.04zM39 0h1.04v1h-1.04zM78 0h3.04v1h-3.04zM92 0h1.04v1h-1.04z"/>
<path fill="#eff7e9" d="M20 0h1.04v1h-1.04zM61 0h1.04v1h-1.04zM69 0h1.04v1h-1.04z"/>
<path fill="#78adc5" d="M52 0h1.04v1h-1.04zM72 0h1.04v1h-1.04z"/>
<path fill="#87bac1" d="M71 0h1.04v1h-1.04zM73 0h1.04v1h-1.04zM75 0h1.04v1h-1.04zM81 0h5.04v1h-5.04zM88 0h1.04v1h-1.04zM91 0h1.04v1h-1.04z"/>
<path fill="#6a9fc8" d="M76 0h2.04v1h-2.04zM90 0h1.04v1h-1.04z"/>
</g></g>
<text x="589.5" y="1350.4" font-weight="bold" font-size="10.5">ESTIMATEScore</text>
<g filter="url(#eb)"><g transform="translate(73,1354.3) scale(5.5070,10.8)">
<path fill="#a9b7d7" d="M0 0h1.04v1h-1.04zM12 0h1.04v1h-1.04zM24 0h1.04v1h-1.04zM27 0h2.04v1h-2.04zM34 0h2.04v1h-2.04zM46 0h1.04v1h-1.04zM49 0h1.04v1h-1.04zM53 0h1.04v1h-1.04zM59 0h1.04v1h-1.04zM62 0h1.04v1h-1.04z"/>
<path fill="#b7cbe2" d="M1 0h1.04v1h-1.04zM6 0h2.04v1h-2.04zM11 0h1.04v1h-1.04zM13 0h1.04v1h-1.04zM15 0h1.04v1h-1.04zM25 0h2.04v1h-2.04zM31 0h1.04v1h-1.04zM36 0h3.04v1h-3.04zM41 0h2.04v1h-2.04zM45 0h1.04v1h-1.04zM51 0h1.04v1h-1.04zM54 0h1.04v1h-1.04zM63 0h3.04v1h-3.04zM68 0h1.04v1h-1.04zM70 0h1.04v1h-1.04zM74 0h1.04v1h-1.04z"/>
<path fill="#9aa3cb" d="M2 0h1.04v1h-1.04zM5 0h1.04v1h-1.04zM8 0h3.04v1h-3.04zM16 0h2.04v1h-2.04zM19 0h1.04v1h-1.04zM22 0h1.04v1h-1.04zM29 0h2.04v1h-2.04zM33 0h1.04v1h-1.04zM39 0h1.04v1h-1.04zM43 0h1.04v1h-1.04zM57 0h1.04v1h-1.04zM78 0h2.04v1h-2.04zM86 0h2.04v1h-2.04zM92 0h1.04v1h-1.04z"/>
<path fill="#c8d8e9" d="M3 0h2.04v1h-2.04zM14 0h1.04v1h-1.04zM18 0h1.04v1h-1.04zM23 0h1.04v1h-1.04zM32 0h1.04v1h-1.04zM40 0h1.04v1h-1.04zM47 0h2.04v1h-2.04zM50 0h1.04v1h-1.04zM55 0h1.04v1h-1.04zM58 0h1.04v1h-1.04zM66 0h2.04v1h-2.04z"/>
<path fill="#e9f2f6" d="M20 0h1.04v1h-1.04zM44 0h1.04v1h-1.04zM61 0h1.04v1h-1.04zM69 0h1.04v1h-1.04z"/>
<path fill="#d8e5ef" d="M21 0h1.04v1h-1.04zM56 0h1.04v1h-1.04z"/>
<path fill="#8268ae" d="M52 0h1.04v1h-1.04zM71 0h1.04v1h-1.04zM77 0h1.04v1h-1.04zM83 0h1.04v1h-1.04zM91 0h1.04v1h-1.04z"/>
<path fill="#8c8fc0" d="M60 0h1.04v1h-1.04zM80 0h1.04v1h-1.04zM85 0h1.04v1h-1.04zM88 0h2.04v1h-2.04z"/>
<path fill="#7d55a5" d="M72 0h1.04v1h-1.04zM76 0h1.04v1h-1.04zM90 0h1.04v1h-1.04z"/>
<path fill="#877cb7" d="M73 0h1.04v1h-1.04zM75 0h1.04v1h-1.04zM81 0h2.04v1h-2.04zM84 0h1.04v1h-1.04z"/>
</g></g>
<text x="589.5" y="1363.5" font-weight="bold" font-size="10.5">ImmuneScore</text>
<g filter="url(#eb)"><g transform="translate(73,1367.5) scale(5.5070,10.8)">
<path fill="#b9dfdb" d="M0 0h2.04v1h-2.04zM5 0h1.04v1h-1.04zM8 0h1.04v1h-1.04zM11 0h1.04v1h-1.04zM18 0h1.04v1h-1.04zM21 0h1.04v1h-1.04zM31 0h1.04v1h-1.04zM36 0h1.04v1h-1.04zM40 0h1.04v1h-1.04zM42 0h1.04v1h-1.04zM44 0h1.04v1h-1.04zM46 0h1.04v1h-1.04zM53 0h2.04v1h-2.04zM57 0h1.04v1h-1.04zM68 0h1.04v1h-1.04zM89 0h1.04v1h-1.04z"/>
<path fill="#86c0a0" d="M2 0h1.04v1h-1.04zM9 0h2.04v1h-2.04zM13 0h1.04v1h-1.04zM16 0h2.04v1h-2.04zM24 0h1.04v1h-1.04zM26 0h2.04v1h-2.04zM33 0h2.04v1h-2.04zM41 0h1.04v1h-1.04zM59 0h2.04v1h-2.04zM62 0h1.04v1h-1.04zM73 0h1.04v1h-1.04zM80 0h1.04v1h-1.04zM83 0h1.04v1h-1.04zM91 0h1.04v1h-1.04z"/>
<path fill="#dcefee" d="M3 0h1.04v1h-1.04zM37 0h1.04v1h-1.04zM55 0h2.04v1h-2.04zM58 0h1.04v1h-1.04zM64 0h1.04v1h-1.04zM66 0h1.04v1h-1.04zM69 0h1.04v1h-1.04z"/>
<path fill="#cbe7e5" d="M4 0h1.04v1h-1.04zM6 0h2.04v1h-2.04zM12 0h1.04v1h-1.04zM14 0h1.04v1h-1.04zM23 0h1.04v1h-1.04zM35 0h1.04v1h-1.04zM47 0h5.04v1h-5.04zM63 0h1.04v1h-1.04zM67 0h1.04v1h-1.04zM70 0h1.04v1h-1.04z"/>
<path fill="#97cab4" d="M15 0h1.04v1h-1.04zM29 0h2.04v1h-2.04zM45 0h1.04v1h-1.04zM65 0h1.04v1h-1.04zM86 0h2.04v1h-2.04z"/>
<path fill="#64a565" d="M19 0h1.04v1h-1.04zM39 0h1.04v1h-1.04zM52 0h1.04v1h-1.04zM77 0h1.04v1h-1.04zM88 0h1.04v1h-1.04zM90 0h1.04v1h-1.04z"/>
<path fill="#eef7f8" d="M20 0h1.04v1h-1.04zM61 0h1.04v1h-1.04z"/>
<path fill="#7bb78c" d="M22 0h1.04v1h-1.04zM28 0h1.04v1h-1.04zM71 0h2.04v1h-2.04zM75 0h1.04v1h-1.04zM78 0h2.04v1h-2.04zM82 0h1.04v1h-1.04zM85 0h1.04v1h-1.04zM92 0h1.04v1h-1.04z"/>
<path fill="#a8d5c7" d="M25 0h1.04v1h-1.04zM32 0h1.04v1h-1.04zM38 0h1.04v1h-1.04zM74 0h1.04v1h-1.04z"/>
<path fill="#6fae79" d="M43 0h1.04v1h-1.04zM76 0h1.04v1h-1.04zM81 0h1.04v1h-1.04zM84 0h1.04v1h-1.04z"/>
</g></g>
<text x="589.5" y="1376.7" font-weight="bold" font-size="10.5">StromalScore</text>
<rect x="73" y="1380.6" width="391" height="10.8" fill="#0000ff"/>
<rect x="464" y="1380.6" width="121.2" height="10.8" fill="#db0000"/>
<text x="589.5" y="1389.8" font-weight="bold" font-size="10.5">Subtype</text>
<g filter="url(#eb)"><g transform="translate(73,1395.2) scale(5.5070,13.55)">
<path fill="#0000ff" d="M61 1h1.04v1.02h-1.04zM69 1h1.04v1.02h-1.04zM21 3h1.04v1.02h-1.04zM21 6h1.04v1.02h-1.04zM69 6h1.04v1.02h-1.04zM6 8h1.04v1.02h-1.04zM13 8h1.04v1.02h-1.04zM20 8h2.04v1.02h-2.04zM44 8h1.04v1.02h-1.04zM58 8h1.04v1.02h-1.04zM61 8h1.04v1.02h-1.04zM66 8h2.04v1.02h-2.04zM21 9h1.04v1.02h-1.04zM44 9h1.04v1.02h-1.04zM56 9h1.04v1.02h-1.04zM61 9h1.04v1.02h-1.04zM65 9h1.04v1.02h-1.04zM67 9h1.04v1.02h-1.04zM69 9h1.04v1.02h-1.04zM21 10h1.04v1.02h-1.04zM36 10h1.04v1.02h-1.04zM44 10h1.04v1.02h-1.04zM69 10h1.04v1.02h-1.04zM20 11h1.04v1.02h-1.04zM54 11h1.04v1.02h-1.04zM61 11h1.04v1.02h-1.04zM21 12h1.04v1.02h-1.04zM44 12h1.04v1.02h-1.04zM61 12h1.04v1.02h-1.04zM67 12h1.04v1.02h-1.04zM69 12h1.04v1.02h-1.04zM4 13h1.04v1.02h-1.04zM20 13h1.04v1.02h-1.04zM23 13h1.04v1.02h-1.04zM44 13h1.04v1.02h-1.04zM55 13h2.04v1.02h-2.04zM61 13h1.04v1.02h-1.04zM66 13h2.04v1.02h-2.04zM18 14h1.04v1.02h-1.04zM20 14h2.04v1.02h-2.04zM44 14h1.04v1.02h-1.04zM61 14h1.04v1.02h-1.04zM69 14h1.04v1.02h-1.04zM21 15h1.04v1.02h-1.04zM44 15h1.04v1.02h-1.04zM56 15h1.04v1.02h-1.04zM18 16h1.04v1.02h-1.04zM20 16h1.04v1.02h-1.04zM23 16h1.04v1.02h-1.04zM37 16h1.04v1.02h-1.04zM56 16h1.04v1.02h-1.04zM18 17h1.04v1.02h-1.04zM23 17h1.04v1.02h-1.04zM69 17h1.04v1.02h-1.04zM18 19h1.04v1.02h-1.04zM20 19h2.04v1.02h-2.04zM40 19h1.04v1.02h-1.04zM56 19h1.04v1.02h-1.04zM61 19h1.04v1.02h-1.04zM22 20h1.04v1.02h-1.04zM40 20h1.04v1.02h-1.04zM58 23h1.04v1.02h-1.04zM64 23h1.04v1.02h-1.04zM66 23h1.04v1.02h-1.04zM18 24h1.04v1.02h-1.04zM61 24h1.04v1.02h-1.04zM66 24h2.04v1.02h-2.04zM21 25h2.04v1.02h-2.04zM34 25h1.04v1.02h-1.04zM44 25h1.04v1.02h-1.04zM53 25h1.04v1.02h-1.04zM21 26h1.04v1.02h-1.04zM44 26h1.04v1.02h-1.04zM69 26h1.04v1.02h-1.04z"/>
<path fill="#3d3df9" d="M44 1h1.04v1.02h-1.04zM49 2h1.04v1.02h-1.04zM50 3h1.04v1.02h-1.04zM69 3h1.04v1.02h-1.04zM21 4h1.04v1.02h-1.04zM44 4h1.04v1.02h-1.04zM61 4h1.04v1.02h-1.04zM69 4h1.04v1.02h-1.04zM44 6h1.04v1.02h-1.04zM55 6h1.04v1.02h-1.04zM67 6h1.04v1.02h-1.04zM61 7h1.04v1.02h-1.04zM4 8h1.04v1.02h-1.04zM25 8h1.04v1.02h-1.04zM32 8h1.04v1.02h-1.04zM38 8h1.04v1.02h-1.04zM3 9h1.04v1.02h-1.04zM18 9h1.04v1.02h-1.04zM20 9h1.04v1.02h-1.04zM25 9h1.04v1.02h-1.04zM55 9h1.04v1.02h-1.04zM0 10h1.04v1.02h-1.04zM3 10h1.04v1.02h-1.04zM7 10h1.04v1.02h-1.04zM13 10h1.04v1.02h-1.04zM18 10h1.04v1.02h-1.04zM25 10h1.04v1.02h-1.04zM58 10h1.04v1.02h-1.04zM67 10h1.04v1.02h-1.04zM4 11h1.04v1.02h-1.04zM7 11h1.04v1.02h-1.04zM18 11h1.04v1.02h-1.04zM25 11h1.04v1.02h-1.04zM36 11h1.04v1.02h-1.04zM55 11h2.04v1.02h-2.04zM66 11h2.04v1.02h-2.04zM69 11h1.04v1.02h-1.04zM42 12h1.04v1.02h-1.04zM55 12h1.04v1.02h-1.04zM32 13h1.04v1.02h-1.04zM54 13h1.04v1.02h-1.04zM69 13h1.04v1.02h-1.04zM3 14h2.04v1.02h-2.04zM6 14h2.04v1.02h-2.04zM55 14h2.04v1.02h-2.04zM58 14h1.04v1.02h-1.04zM65 14h1.04v1.02h-1.04zM67 14h1.04v1.02h-1.04zM4 15h1.04v1.02h-1.04zM20 15h1.04v1.02h-1.04zM65 15h1.04v1.02h-1.04zM67 15h1.04v1.02h-1.04zM69 15h1.04v1.02h-1.04zM3 16h1.04v1.02h-1.04zM7 16h1.04v1.02h-1.04zM12 16h1.04v1.02h-1.04zM25 16h1.04v1.02h-1.04zM48 16h1.04v1.02h-1.04zM50 16h1.04v1.02h-1.04zM55 16h1.04v1.02h-1.04zM68 16h2.04v1.02h-2.04zM20 17h2.04v1.02h-2.04zM40 17h1.04v1.02h-1.04zM44 17h2.04v1.02h-2.04zM48 17h1.04v1.02h-1.04zM54 17h1.04v1.02h-1.04zM56 17h1.04v1.02h-1.04zM58 17h1.04v1.02h-1.04zM65 17h1.04v1.02h-1.04zM70 17h1.04v1.02h-1.04zM40 18h1.04v1.02h-1.04zM44 18h2.04v1.02h-2.04zM61 18h1.04v1.02h-1.04zM0 19h1.04v1.02h-1.04zM3 19h1.04v1.02h-1.04zM7 19h1.04v1.02h-1.04zM22 19h3.04v1.02h-3.04zM36 19h2.04v1.02h-2.04zM41 19h1.04v1.02h-1.04zM44 19h1.04v1.02h-1.04zM48 19h1.04v1.02h-1.04zM50 19h1.04v1.02h-1.04zM58 19h1.04v1.02h-1.04zM65 19h1.04v1.02h-1.04zM69 19h1.04v1.02h-1.04zM3 20h2.04v1.02h-2.04zM6 20h1.04v1.02h-1.04zM11 20h1.04v1.02h-1.04zM13 20h2.04v1.02h-2.04zM18 20h1.04v1.02h-1.04zM20 20h1.04v1.02h-1.04zM25 20h1.04v1.02h-1.04zM32 20h1.04v1.02h-1.04zM36 20h2.04v1.02h-2.04zM39 20h1.04v1.02h-1.04zM44 20h2.04v1.02h-2.04zM50 20h1.04v1.02h-1.04zM54 20h3.04v1.02h-3.04zM58 20h1.04v1.02h-1.04zM61 20h1.04v1.02h-1.04zM64 20h1.04v1.02h-1.04zM66 20h2.04v1.02h-2.04zM18 21h1.04v1.02h-1.04zM20 21h1.04v1.02h-1.04zM44 21h2.04v1.02h-2.04zM50 21h1.04v1.02h-1.04zM56 21h1.04v1.02h-1.04zM4 22h1.04v1.02h-1.04zM6 22h1.04v1.02h-1.04zM13 22h1.04v1.02h-1.04zM18 22h1.04v1.02h-1.04zM20 22h1.04v1.02h-1.04zM25 22h1.04v1.02h-1.04zM32 22h1.04v1.02h-1.04zM44 22h1.04v1.02h-1.04zM50 22h1.04v1.02h-1.04zM55 22h2.04v1.02h-2.04zM58 22h1.04v1.02h-1.04zM61 22h1.04v1.02h-1.04zM65 22h3.04v1.02h-3.04zM2 23h1.04v1.02h-1.04zM18 23h1.04v1.02h-1.04zM20 23h1.04v1.02h-1.04zM45 23h1.04v1.02h-1.04zM48 23h1.04v1.02h-1.04zM50 23h1.04v1.02h-1.04zM55 23h1.04v1.02h-1.04zM65 23h1.04v1.02h-1.04zM67 23h1.04v1.02h-1.04zM69 23h1.04v1.02h-1.04zM20 24h2.04v1.02h-2.04zM36 24h1.04v1.02h-1.04zM44 24h1.04v1.02h-1.04zM55 24h2.04v1.02h-2.04zM58 24h1.04v1.02h-1.04zM62 24h1.04v1.02h-1.04zM64 24h2.04v1.02h-2.04zM69 24h1.04v1.02h-1.04zM0 25h1.04v1.02h-1.04zM2 25h1.04v1.02h-1.04zM24 25h1.04v1.02h-1.04zM26 25h1.04v1.02h-1.04zM65 25h1.04v1.02h-1.04zM67 26h1.04v1.02h-1.04zM71 26h1.04v1.02h-1.04zM5 27h1.04v1.02h-1.04zM21 27h1.04v1.02h-1.04z"/>
<path fill="#7070f7" d="M65 0h1.04v1.02h-1.04zM83 0h1.04v1.02h-1.04zM17 1h1.04v1.02h-1.04zM65 1h1.04v1.02h-1.04zM74 1h1.04v1.02h-1.04zM28 2h1.04v1.02h-1.04zM42 2h1.04v1.02h-1.04zM54 2h1.04v1.02h-1.04zM15 3h1.04v1.02h-1.04zM17 3h1.04v1.02h-1.04zM41 3h1.04v1.02h-1.04zM44 3h1.04v1.02h-1.04zM61 3h1.04v1.02h-1.04zM18 4h1.04v1.02h-1.04zM20 4h1.04v1.02h-1.04zM56 4h1.04v1.02h-1.04zM69 5h1.04v1.02h-1.04zM4 6h1.04v1.02h-1.04zM18 6h1.04v1.02h-1.04zM20 6h1.04v1.02h-1.04zM61 6h1.04v1.02h-1.04zM65 6h2.04v1.02h-2.04zM21 7h1.04v1.02h-1.04zM55 7h1.04v1.02h-1.04zM64 7h2.04v1.02h-2.04zM69 7h1.04v1.02h-1.04zM0 8h1.04v1.02h-1.04zM18 8h1.04v1.02h-1.04zM45 8h1.04v1.02h-1.04zM47 8h1.04v1.02h-1.04zM50 8h1.04v1.02h-1.04zM56 8h1.04v1.02h-1.04zM64 8h1.04v1.02h-1.04zM69 8h1.04v1.02h-1.04zM6 9h1.04v1.02h-1.04zM32 9h1.04v1.02h-1.04zM6 10h1.04v1.02h-1.04zM12 10h1.04v1.02h-1.04zM19 10h1.04v1.02h-1.04zM23 10h1.04v1.02h-1.04zM30 10h1.04v1.02h-1.04zM33 10h1.04v1.02h-1.04zM38 10h1.04v1.02h-1.04zM61 10h2.04v1.02h-2.04zM64 10h1.04v1.02h-1.04zM68 10h1.04v1.02h-1.04zM21 11h1.04v1.02h-1.04zM39 11h1.04v1.02h-1.04zM44 11h1.04v1.02h-1.04zM47 11h1.04v1.02h-1.04zM51 11h1.04v1.02h-1.04zM59 11h1.04v1.02h-1.04zM68 11h1.04v1.02h-1.04zM14 12h1.04v1.02h-1.04zM18 12h1.04v1.02h-1.04zM27 12h1.04v1.02h-1.04zM30 12h2.04v1.02h-2.04zM47 12h1.04v1.02h-1.04zM54 12h1.04v1.02h-1.04zM11 13h1.04v1.02h-1.04zM18 13h1.04v1.02h-1.04zM21 13h1.04v1.02h-1.04zM40 13h1.04v1.02h-1.04zM45 13h1.04v1.02h-1.04zM14 14h1.04v1.02h-1.04zM31 14h1.04v1.02h-1.04zM37 14h1.04v1.02h-1.04zM48 14h1.04v1.02h-1.04zM3 15h1.04v1.02h-1.04zM18 15h1.04v1.02h-1.04zM27 15h1.04v1.02h-1.04zM30 15h1.04v1.02h-1.04zM37 15h2.04v1.02h-2.04zM42 15h1.04v1.02h-1.04zM61 15h1.04v1.02h-1.04zM63 15h1.04v1.02h-1.04zM66 15h1.04v1.02h-1.04zM6 16h1.04v1.02h-1.04zM21 16h1.04v1.02h-1.04zM35 16h1.04v1.02h-1.04zM42 16h1.04v1.02h-1.04zM44 16h1.04v1.02h-1.04zM63 16h1.04v1.02h-1.04zM7 17h1.04v1.02h-1.04zM15 17h1.04v1.02h-1.04zM31 17h2.04v1.02h-2.04zM36 17h2.04v1.02h-2.04zM61 17h1.04v1.02h-1.04zM63 17h1.04v1.02h-1.04zM74 17h1.04v1.02h-1.04zM3 18h2.04v1.02h-2.04zM14 18h1.04v1.02h-1.04zM21 18h1.04v1.02h-1.04zM37 18h1.04v1.02h-1.04zM54 18h1.04v1.02h-1.04zM69 18h1.04v1.02h-1.04zM9 19h1.04v1.02h-1.04zM13 19h1.04v1.02h-1.04zM7 20h1.04v1.02h-1.04zM16 20h1.04v1.02h-1.04zM49 20h1.04v1.02h-1.04zM3 21h2.04v1.02h-2.04zM13 21h2.04v1.02h-2.04zM28 21h1.04v1.02h-1.04zM31 21h2.04v1.02h-2.04zM36 21h1.04v1.02h-1.04zM42 21h1.04v1.02h-1.04zM47 21h1.04v1.02h-1.04zM55 21h1.04v1.02h-1.04zM58 21h1.04v1.02h-1.04zM61 21h2.04v1.02h-2.04zM64 21h6.04v1.02h-6.04zM3 22h1.04v1.02h-1.04zM14 22h1.04v1.02h-1.04zM39 22h2.04v1.02h-2.04zM45 22h1.04v1.02h-1.04zM64 22h1.04v1.02h-1.04zM4 23h1.04v1.02h-1.04zM12 23h1.04v1.02h-1.04zM23 23h1.04v1.02h-1.04zM31 23h1.04v1.02h-1.04zM35 23h2.04v1.02h-2.04zM56 23h1.04v1.02h-1.04zM61 23h3.04v1.02h-3.04zM68 23h1.04v1.02h-1.04zM13 24h1.04v1.02h-1.04zM45 24h1.04v1.02h-1.04zM48 24h1.04v1.02h-1.04zM50 24h1.04v1.02h-1.04zM63 24h1.04v1.02h-1.04zM68 24h1.04v1.02h-1.04zM70 24h1.04v1.02h-1.04zM11 25h1.04v1.02h-1.04zM80 25h1.04v1.02h-1.04zM17 27h1.04v1.02h-1.04zM44 27h1.04v1.02h-1.04zM60 27h1.04v1.02h-1.04z"/>
<path fill="#8f8ff7" d="M21 0h1.04v1.02h-1.04zM44 0h1.04v1.02h-1.04zM49 0h1.04v1.02h-1.04zM54 0h2.04v1.02h-2.04zM61 0h1.04v1.02h-1.04zM64 0h1.04v1.02h-1.04zM67 0h1.04v1.02h-1.04zM69 0h3.04v1.02h-3.04zM1 1h1.04v1.02h-1.04zM4 1h1.04v1.02h-1.04zM21 1h1.04v1.02h-1.04zM35 1h1.04v1.02h-1.04zM45 1h1.04v1.02h-1.04zM48 1h1.04v1.02h-1.04zM50 1h1.04v1.02h-1.04zM55 1h1.04v1.02h-1.04zM58 1h1.04v1.02h-1.04zM62 1h1.04v1.02h-1.04zM67 1h1.04v1.02h-1.04zM71 1h1.04v1.02h-1.04zM89 1h1.04v1.02h-1.04zM1 2h2.04v1.02h-2.04zM13 2h1.04v1.02h-1.04zM27 2h1.04v1.02h-1.04zM31 2h1.04v1.02h-1.04zM41 2h1.04v1.02h-1.04zM43 2h1.04v1.02h-1.04zM48 2h1.04v1.02h-1.04zM62 2h1.04v1.02h-1.04zM6 3h1.04v1.02h-1.04zM9 3h1.04v1.02h-1.04zM13 3h2.04v1.02h-2.04zM28 3h1.04v1.02h-1.04zM35 3h1.04v1.02h-1.04zM38 3h1.04v1.02h-1.04zM40 3h1.04v1.02h-1.04zM42 3h1.04v1.02h-1.04zM45 3h1.04v1.02h-1.04zM55 3h2.04v1.02h-2.04zM58 3h1.04v1.02h-1.04zM64 3h1.04v1.02h-1.04zM67 3h1.04v1.02h-1.04zM70 3h1.04v1.02h-1.04zM1 4h1.04v1.02h-1.04zM3 4h2.04v1.02h-2.04zM6 4h1.04v1.02h-1.04zM14 4h1.04v1.02h-1.04zM23 4h1.04v1.02h-1.04zM32 4h1.04v1.02h-1.04zM37 4h1.04v1.02h-1.04zM40 4h1.04v1.02h-1.04zM47 4h2.04v1.02h-2.04zM50 4h1.04v1.02h-1.04zM55 4h1.04v1.02h-1.04zM58 4h1.04v1.02h-1.04zM63 4h4.04v1.02h-4.04zM1 5h1.04v1.02h-1.04zM3 5h1.04v1.02h-1.04zM14 5h1.04v1.02h-1.04zM18 5h2.04v1.02h-2.04zM22 5h2.04v1.02h-2.04zM30 5h1.04v1.02h-1.04zM32 5h1.04v1.02h-1.04zM37 5h2.04v1.02h-2.04zM40 5h1.04v1.02h-1.04zM43 5h1.04v1.02h-1.04zM45 5h1.04v1.02h-1.04zM47 5h1.04v1.02h-1.04zM49 5h2.04v1.02h-2.04zM62 5h2.04v1.02h-2.04zM65 5h1.04v1.02h-1.04zM67 5h2.04v1.02h-2.04zM70 5h1.04v1.02h-1.04zM3 6h1.04v1.02h-1.04zM6 6h2.04v1.02h-2.04zM23 6h1.04v1.02h-1.04zM25 6h1.04v1.02h-1.04zM32 6h1.04v1.02h-1.04zM42 6h1.04v1.02h-1.04zM50 6h1.04v1.02h-1.04zM54 6h1.04v1.02h-1.04zM56 6h1.04v1.02h-1.04zM58 6h1.04v1.02h-1.04zM64 6h1.04v1.02h-1.04zM70 6h1.04v1.02h-1.04zM1 7h1.04v1.02h-1.04zM7 7h1.04v1.02h-1.04zM18 7h1.04v1.02h-1.04zM25 7h1.04v1.02h-1.04zM42 7h1.04v1.02h-1.04zM44 7h2.04v1.02h-2.04zM54 7h1.04v1.02h-1.04zM56 7h1.04v1.02h-1.04zM58 7h2.04v1.02h-2.04zM66 7h3.04v1.02h-3.04zM30 8h1.04v1.02h-1.04zM39 8h1.04v1.02h-1.04zM0 9h1.04v1.02h-1.04zM4 9h1.04v1.02h-1.04zM23 9h1.04v1.02h-1.04zM42 9h1.04v1.02h-1.04zM58 9h1.04v1.02h-1.04zM63 9h1.04v1.02h-1.04zM20 10h1.04v1.02h-1.04zM40 10h1.04v1.02h-1.04zM42 10h1.04v1.02h-1.04zM56 10h1.04v1.02h-1.04zM65 10h1.04v1.02h-1.04zM6 11h1.04v1.02h-1.04zM12 11h1.04v1.02h-1.04zM28 11h1.04v1.02h-1.04zM42 11h1.04v1.02h-1.04zM48 11h1.04v1.02h-1.04zM65 11h1.04v1.02h-1.04zM1 12h1.04v1.02h-1.04zM4 12h1.04v1.02h-1.04zM32 12h1.04v1.02h-1.04zM37 12h1.04v1.02h-1.04zM46 12h1.04v1.02h-1.04zM59 12h1.04v1.02h-1.04zM70 12h1.04v1.02h-1.04zM3 13h1.04v1.02h-1.04zM13 13h1.04v1.02h-1.04zM25 13h1.04v1.02h-1.04zM36 13h1.04v1.02h-1.04zM65 13h1.04v1.02h-1.04zM68 13h1.04v1.02h-1.04zM1 14h1.04v1.02h-1.04zM23 14h1.04v1.02h-1.04zM38 14h1.04v1.02h-1.04zM42 14h1.04v1.02h-1.04zM47 14h1.04v1.02h-1.04zM50 14h1.04v1.02h-1.04zM66 14h1.04v1.02h-1.04zM1 15h1.04v1.02h-1.04zM6 15h1.04v1.02h-1.04zM15 15h1.04v1.02h-1.04zM23 15h1.04v1.02h-1.04zM41 15h1.04v1.02h-1.04zM45 15h1.04v1.02h-1.04zM48 15h1.04v1.02h-1.04zM54 15h2.04v1.02h-2.04zM1 16h1.04v1.02h-1.04zM14 16h1.04v1.02h-1.04zM32 16h1.04v1.02h-1.04zM49 16h1.04v1.02h-1.04zM61 16h1.04v1.02h-1.04zM66 16h1.04v1.02h-1.04zM11 17h1.04v1.02h-1.04zM13 17h2.04v1.02h-2.04zM25 17h1.04v1.02h-1.04zM1 18h1.04v1.02h-1.04zM5 18h2.04v1.02h-2.04zM16 18h1.04v1.02h-1.04zM20 18h1.04v1.02h-1.04zM24 18h3.04v1.02h-3.04zM28 18h1.04v1.02h-1.04zM38 18h1.04v1.02h-1.04zM47 18h2.04v1.02h-2.04zM55 18h2.04v1.02h-2.04zM58 18h2.04v1.02h-2.04zM64 18h1.04v1.02h-1.04zM16 19h1.04v1.02h-1.04zM32 19h1.04v1.02h-1.04zM62 19h1.04v1.02h-1.04zM92 19h1.04v1.02h-1.04zM42 20h1.04v1.02h-1.04zM1 21h1.04v1.02h-1.04zM19 21h1.04v1.02h-1.04zM37 21h1.04v1.02h-1.04zM48 21h1.04v1.02h-1.04zM63 21h1.04v1.02h-1.04zM23 22h1.04v1.02h-1.04zM36 22h1.04v1.02h-1.04zM38 22h1.04v1.02h-1.04zM69 22h1.04v1.02h-1.04zM10 23h1.04v1.02h-1.04zM21 23h1.04v1.02h-1.04zM41 23h1.04v1.02h-1.04zM47 24h1.04v1.02h-1.04zM23 25h1.04v1.02h-1.04zM29 25h1.04v1.02h-1.04zM43 25h1.04v1.02h-1.04zM58 25h1.04v1.02h-1.04zM69 25h1.04v1.02h-1.04zM84 25h1.04v1.02h-1.04zM87 25h1.04v1.02h-1.04zM29 26h1.04v1.02h-1.04zM73 26h1.04v1.02h-1.04zM13 27h1.04v1.02h-1.04zM22 27h1.04v1.02h-1.04zM38 27h1.04v1.02h-1.04zM42 27h1.04v1.02h-1.04zM55 27h1.04v1.02h-1.04zM80 27h1.04v1.02h-1.04zM85 27h1.04v1.02h-1.04zM28 28h1.04v1.02h-1.04zM38 28h1.04v1.02h-1.04zM40 28h1.04v1.02h-1.04zM42 28h1.04v1.02h-1.04zM44 28h1.04v1.02h-1.04zM49 28h1.04v1.02h-1.04zM80 28h1.04v1.02h-1.04zM85 28h1.04v1.02h-1.04z"/>
<path fill="#b2b2f8" d="M1 0h1.04v1.02h-1.04zM3 0h1.04v1.02h-1.04zM5 0h1.04v1.02h-1.04zM8 0h2.04v1.02h-2.04zM11 0h1.04v1.02h-1.04zM14 0h1.04v1.02h-1.04zM16 0h1.04v1.02h-1.04zM18 0h1.04v1.02h-1.04zM20 0h1.04v1.02h-1.04zM23 0h1.04v1.02h-1.04zM29 0h1.04v1.02h-1.04zM31 0h2.04v1.02h-2.04zM34 0h4.04v1.02h-4.04zM40 0h3.04v1.02h-3.04zM45 0h4.04v1.02h-4.04zM50 0h1.04v1.02h-1.04zM53 0h1.04v1.02h-1.04zM56 0h3.04v1.02h-3.04zM63 0h1.04v1.02h-1.04zM66 0h1.04v1.02h-1.04zM72 0h1.04v1.02h-1.04zM82 0h1.04v1.02h-1.04zM86 0h2.04v1.02h-2.04zM89 0h1.04v1.02h-1.04zM91 0h1.04v1.02h-1.04zM14 1h1.04v1.02h-1.04zM18 1h1.04v1.02h-1.04zM23 1h2.04v1.02h-2.04zM31 1h1.04v1.02h-1.04zM33 1h2.04v1.02h-2.04zM37 1h2.04v1.02h-2.04zM41 1h1.04v1.02h-1.04zM43 1h1.04v1.02h-1.04zM47 1h1.04v1.02h-1.04zM59 1h1.04v1.02h-1.04zM63 1h1.04v1.02h-1.04zM77 1h1.04v1.02h-1.04zM83 1h1.04v1.02h-1.04zM3 2h1.04v1.02h-1.04zM6 2h1.04v1.02h-1.04zM14 2h3.04v1.02h-3.04zM18 2h1.04v1.02h-1.04zM21 2h2.04v1.02h-2.04zM25 2h1.04v1.02h-1.04zM29 2h2.04v1.02h-2.04zM32 2h2.04v1.02h-2.04zM36 2h4.04v1.02h-4.04zM50 2h1.04v1.02h-1.04zM58 2h1.04v1.02h-1.04zM63 2h1.04v1.02h-1.04zM68 2h3.04v1.02h-3.04zM87 2h1.04v1.02h-1.04zM4 3h1.04v1.02h-1.04zM7 3h1.04v1.02h-1.04zM11 3h1.04v1.02h-1.04zM18 3h3.04v1.02h-3.04zM23 3h1.04v1.02h-1.04zM26 3h1.04v1.02h-1.04zM32 3h1.04v1.02h-1.04zM34 3h1.04v1.02h-1.04zM36 3h1.04v1.02h-1.04zM53 3h2.04v1.02h-2.04zM59 3h1.04v1.02h-1.04zM62 3h2.04v1.02h-2.04zM66 3h1.04v1.02h-1.04zM68 3h1.04v1.02h-1.04zM7 4h1.04v1.02h-1.04zM11 4h1.04v1.02h-1.04zM13 4h1.04v1.02h-1.04zM15 4h1.04v1.02h-1.04zM25 4h2.04v1.02h-2.04zM31 4h1.04v1.02h-1.04zM36 4h1.04v1.02h-1.04zM38 4h1.04v1.02h-1.04zM41 4h2.04v1.02h-2.04zM45 4h1.04v1.02h-1.04zM54 4h1.04v1.02h-1.04zM67 4h1.04v1.02h-1.04zM70 4h1.04v1.02h-1.04zM0 5h1.04v1.02h-1.04zM2 5h1.04v1.02h-1.04zM4 5h1.04v1.02h-1.04zM6 5h2.04v1.02h-2.04zM9 5h1.04v1.02h-1.04zM13 5h1.04v1.02h-1.04zM15 5h1.04v1.02h-1.04zM20 5h1.04v1.02h-1.04zM25 5h4.04v1.02h-4.04zM31 5h1.04v1.02h-1.04zM33 5h1.04v1.02h-1.04zM35 5h2.04v1.02h-2.04zM41 5h2.04v1.02h-2.04zM48 5h1.04v1.02h-1.04zM51 5h1.04v1.02h-1.04zM56 5h1.04v1.02h-1.04zM58 5h2.04v1.02h-2.04zM64 5h1.04v1.02h-1.04zM66 5h1.04v1.02h-1.04zM92 5h1.04v1.02h-1.04zM1 6h1.04v1.02h-1.04zM12 6h3.04v1.02h-3.04zM27 6h2.04v1.02h-2.04zM31 6h1.04v1.02h-1.04zM36 6h2.04v1.02h-2.04zM40 6h1.04v1.02h-1.04zM47 6h1.04v1.02h-1.04zM59 6h1.04v1.02h-1.04zM63 6h1.04v1.02h-1.04zM68 6h1.04v1.02h-1.04zM3 7h2.04v1.02h-2.04zM6 7h1.04v1.02h-1.04zM12 7h1.04v1.02h-1.04zM14 7h1.04v1.02h-1.04zM20 7h1.04v1.02h-1.04zM23 7h2.04v1.02h-2.04zM26 7h1.04v1.02h-1.04zM28 7h1.04v1.02h-1.04zM31 7h1.04v1.02h-1.04zM33 7h1.04v1.02h-1.04zM35 7h5.04v1.02h-5.04zM41 7h1.04v1.02h-1.04zM43 7h1.04v1.02h-1.04zM47 7h2.04v1.02h-2.04zM50 7h1.04v1.02h-1.04zM70 7h1.04v1.02h-1.04zM2 8h1.04v1.02h-1.04zM14 8h1.04v1.02h-1.04zM36 8h1.04v1.02h-1.04zM70 8h1.04v1.02h-1.04zM13 9h1.04v1.02h-1.04zM40 9h1.04v1.02h-1.04zM47 9h1.04v1.02h-1.04zM54 9h1.04v1.02h-1.04zM66 9h1.04v1.02h-1.04zM24 10h1.04v1.02h-1.04zM28 10h1.04v1.02h-1.04zM47 10h2.04v1.02h-2.04zM51 10h1.04v1.02h-1.04zM54 10h1.04v1.02h-1.04zM66 10h1.04v1.02h-1.04zM85 10h1.04v1.02h-1.04zM1 11h1.04v1.02h-1.04zM33 11h1.04v1.02h-1.04zM38 11h1.04v1.02h-1.04zM43 11h1.04v1.02h-1.04zM62 11h1.04v1.02h-1.04zM3 12h1.04v1.02h-1.04zM6 12h1.04v1.02h-1.04zM11 12h1.04v1.02h-1.04zM23 12h1.04v1.02h-1.04zM36 12h1.04v1.02h-1.04zM64 12h1.04v1.02h-1.04zM6 13h1.04v1.02h-1.04zM14 13h1.04v1.02h-1.04zM42 13h1.04v1.02h-1.04zM47 13h1.04v1.02h-1.04zM70 13h1.04v1.02h-1.04zM13 14h1.04v1.02h-1.04zM32 14h1.04v1.02h-1.04zM36 14h1.04v1.02h-1.04zM45 14h1.04v1.02h-1.04zM63 14h1.04v1.02h-1.04zM70 14h1.04v1.02h-1.04zM7 15h1.04v1.02h-1.04zM14 15h1.04v1.02h-1.04zM28 15h1.04v1.02h-1.04zM31 15h2.04v1.02h-2.04zM40 15h1.04v1.02h-1.04zM47 15h1.04v1.02h-1.04zM49 15h1.04v1.02h-1.04zM62 15h1.04v1.02h-1.04zM4 16h1.04v1.02h-1.04zM40 16h1.04v1.02h-1.04zM51 16h1.04v1.02h-1.04zM54 16h1.04v1.02h-1.04zM64 16h1.04v1.02h-1.04zM67 16h1.04v1.02h-1.04zM70 16h1.04v1.02h-1.04zM3 17h1.04v1.02h-1.04zM6 17h1.04v1.02h-1.04zM35 17h1.04v1.02h-1.04zM38 17h1.04v1.02h-1.04zM50 17h1.04v1.02h-1.04zM66 17h1.04v1.02h-1.04zM7 18h2.04v1.02h-2.04zM15 18h1.04v1.02h-1.04zM22 18h1.04v1.02h-1.04zM32 18h1.04v1.02h-1.04zM34 18h1.04v1.02h-1.04zM36 18h1.04v1.02h-1.04zM41 18h1.04v1.02h-1.04zM46 18h1.04v1.02h-1.04zM74 18h1.04v1.02h-1.04zM4 19h1.04v1.02h-1.04zM19 19h1.04v1.02h-1.04zM25 19h1.04v1.02h-1.04zM35 19h1.04v1.02h-1.04zM38 19h1.04v1.02h-1.04zM45 19h1.04v1.02h-1.04zM67 19h1.04v1.02h-1.04zM23 20h1.04v1.02h-1.04zM26 20h1.04v1.02h-1.04zM2 21h1.04v1.02h-1.04zM21 21h1.04v1.02h-1.04zM25 21h1.04v1.02h-1.04zM34 21h1.04v1.02h-1.04zM41 21h1.04v1.02h-1.04zM2 22h1.04v1.02h-1.04zM7 22h1.04v1.02h-1.04zM11 22h1.04v1.02h-1.04zM19 22h1.04v1.02h-1.04zM21 22h1.04v1.02h-1.04zM31 22h1.04v1.02h-1.04zM35 22h1.04v1.02h-1.04zM37 22h1.04v1.02h-1.04zM47 22h1.04v1.02h-1.04zM49 22h1.04v1.02h-1.04zM54 22h1.04v1.02h-1.04zM63 22h1.04v1.02h-1.04zM68 22h1.04v1.02h-1.04zM6 23h1.04v1.02h-1.04zM9 23h1.04v1.02h-1.04zM11 23h1.04v1.02h-1.04zM13 23h2.04v1.02h-2.04zM0 24h2.04v1.02h-2.04zM6 24h2.04v1.02h-2.04zM12 24h1.04v1.02h-1.04zM27 24h1.04v1.02h-1.04zM35 24h1.04v1.02h-1.04zM39 24h1.04v1.02h-1.04zM41 24h1.04v1.02h-1.04zM59 24h1.04v1.02h-1.04zM17 25h1.04v1.02h-1.04zM19 25h1.04v1.02h-1.04zM30 25h1.04v1.02h-1.04zM46 25h1.04v1.02h-1.04zM48 25h1.04v1.02h-1.04zM57 25h1.04v1.02h-1.04zM62 25h1.04v1.02h-1.04zM74 25h2.04v1.02h-2.04zM79 25h1.04v1.02h-1.04zM86 25h1.04v1.02h-1.04zM10 26h1.04v1.02h-1.04zM58 26h1.04v1.02h-1.04zM65 26h1.04v1.02h-1.04zM8 27h1.04v1.02h-1.04zM10 27h1.04v1.02h-1.04zM25 27h1.04v1.02h-1.04zM27 27h1.04v1.02h-1.04zM30 27h1.04v1.02h-1.04zM37 27h1.04v1.02h-1.04zM40 27h1.04v1.02h-1.04zM43 27h1.04v1.02h-1.04zM54 27h1.04v1.02h-1.04zM56 27h2.04v1.02h-2.04zM61 27h1.04v1.02h-1.04zM63 27h1.04v1.02h-1.04zM65 27h1.04v1.02h-1.04zM67 27h5.04v1.02h-5.04zM81 27h1.04v1.02h-1.04zM86 27h1.04v1.02h-1.04zM91 27h1.04v1.02h-1.04zM0 28h5.04v1.02h-5.04zM6 28h1.04v1.02h-1.04zM9 28h1.04v1.02h-1.04zM11 28h1.04v1.02h-1.04zM13 28h1.04v1.02h-1.04zM19 28h3.04v1.02h-3.04zM23 28h1.04v1.02h-1.04zM25 28h3.04v1.02h-3.04zM30 28h3.04v1.02h-3.04zM35 28h3.04v1.02h-3.04zM39 28h1.04v1.02h-1.04zM41 28h1.04v1.02h-1.04zM45 28h1.04v1.02h-1.04zM47 28h2.04v1.02h-2.04zM50 28h1.04v1.02h-1.04zM53 28h2.04v1.02h-2.04zM56 28h1.04v1.02h-1.04zM58 28h2.04v1.02h-2.04zM61 28h2.04v1.02h-2.04zM64 28h2.04v1.02h-2.04zM68 28h3.04v1.02h-3.04zM73 28h7.04v1.02h-7.04zM81 28h2.04v1.02h-2.04zM86 28h3.04v1.02h-3.04zM92 28h1.04v1.02h-1.04z"/>
<path fill="#d1d1fa" d="M2 0h1.04v1.02h-1.04zM4 0h1.04v1.02h-1.04zM10 0h1.04v1.02h-1.04zM25 0h1.04v1.02h-1.04zM33 0h1.04v1.02h-1.04zM38 0h1.04v1.02h-1.04zM62 0h1.04v1.02h-1.04zM85 0h1.04v1.02h-1.04zM2 1h2.04v1.02h-2.04zM6 1h2.04v1.02h-2.04zM10 1h4.04v1.02h-4.04zM15 1h1.04v1.02h-1.04zM20 1h1.04v1.02h-1.04zM27 1h1.04v1.02h-1.04zM49 1h1.04v1.02h-1.04zM51 1h1.04v1.02h-1.04zM56 1h1.04v1.02h-1.04zM66 1h1.04v1.02h-1.04zM68 1h1.04v1.02h-1.04zM70 1h1.04v1.02h-1.04zM86 1h1.04v1.02h-1.04zM0 2h1.04v1.02h-1.04zM4 2h1.04v1.02h-1.04zM7 2h1.04v1.02h-1.04zM10 2h2.04v1.02h-2.04zM26 2h1.04v1.02h-1.04zM40 2h1.04v1.02h-1.04zM44 2h1.04v1.02h-1.04zM46 2h2.04v1.02h-2.04zM51 2h1.04v1.02h-1.04zM55 2h1.04v1.02h-1.04zM59 2h1.04v1.02h-1.04zM61 2h1.04v1.02h-1.04zM88 2h1.04v1.02h-1.04zM92 2h1.04v1.02h-1.04zM1 3h1.04v1.02h-1.04zM3 3h1.04v1.02h-1.04zM10 3h1.04v1.02h-1.04zM12 3h1.04v1.02h-1.04zM16 3h1.04v1.02h-1.04zM22 3h1.04v1.02h-1.04zM31 3h1.04v1.02h-1.04zM37 3h1.04v1.02h-1.04zM48 3h1.04v1.02h-1.04zM51 3h1.04v1.02h-1.04zM65 3h1.04v1.02h-1.04zM0 4h1.04v1.02h-1.04zM12 4h1.04v1.02h-1.04zM16 4h1.04v1.02h-1.04zM24 4h1.04v1.02h-1.04zM34 4h2.04v1.02h-2.04zM46 4h1.04v1.02h-1.04zM49 4h1.04v1.02h-1.04zM53 4h1.04v1.02h-1.04zM68 4h1.04v1.02h-1.04zM12 5h1.04v1.02h-1.04zM16 5h1.04v1.02h-1.04zM21 5h1.04v1.02h-1.04zM24 5h1.04v1.02h-1.04zM39 5h1.04v1.02h-1.04zM44 5h1.04v1.02h-1.04zM53 5h2.04v1.02h-2.04zM61 5h1.04v1.02h-1.04zM0 6h1.04v1.02h-1.04zM10 6h2.04v1.02h-2.04zM15 6h1.04v1.02h-1.04zM22 6h1.04v1.02h-1.04zM26 6h1.04v1.02h-1.04zM30 6h1.04v1.02h-1.04zM35 6h1.04v1.02h-1.04zM38 6h1.04v1.02h-1.04zM45 6h1.04v1.02h-1.04zM48 6h1.04v1.02h-1.04zM51 6h1.04v1.02h-1.04zM74 6h1.04v1.02h-1.04zM13 7h1.04v1.02h-1.04zM15 7h1.04v1.02h-1.04zM19 7h1.04v1.02h-1.04zM22 7h1.04v1.02h-1.04zM27 7h1.04v1.02h-1.04zM30 7h1.04v1.02h-1.04zM40 7h1.04v1.02h-1.04zM49 7h1.04v1.02h-1.04zM51 7h1.04v1.02h-1.04zM62 7h2.04v1.02h-2.04zM74 7h1.04v1.02h-1.04zM12 8h1.04v1.02h-1.04zM19 8h1.04v1.02h-1.04zM26 8h1.04v1.02h-1.04zM33 8h1.04v1.02h-1.04zM55 8h1.04v1.02h-1.04zM65 8h1.04v1.02h-1.04zM68 8h1.04v1.02h-1.04zM7 9h1.04v1.02h-1.04zM14 9h1.04v1.02h-1.04zM30 9h1.04v1.02h-1.04zM36 9h1.04v1.02h-1.04zM68 9h1.04v1.02h-1.04zM4 10h1.04v1.02h-1.04zM9 10h1.04v1.02h-1.04zM39 10h1.04v1.02h-1.04zM50 10h1.04v1.02h-1.04zM87 10h1.04v1.02h-1.04zM3 11h1.04v1.02h-1.04zM5 11h1.04v1.02h-1.04zM30 11h1.04v1.02h-1.04zM37 11h1.04v1.02h-1.04zM40 11h1.04v1.02h-1.04zM45 11h1.04v1.02h-1.04zM50 11h1.04v1.02h-1.04zM58 11h1.04v1.02h-1.04zM10 12h1.04v1.02h-1.04zM13 12h1.04v1.02h-1.04zM24 12h1.04v1.02h-1.04zM33 12h1.04v1.02h-1.04zM35 12h1.04v1.02h-1.04zM50 12h1.04v1.02h-1.04zM58 12h1.04v1.02h-1.04zM62 12h1.04v1.02h-1.04zM65 12h2.04v1.02h-2.04zM85 12h1.04v1.02h-1.04zM1 13h1.04v1.02h-1.04zM15 13h1.04v1.02h-1.04zM37 13h2.04v1.02h-2.04zM49 13h2.04v1.02h-2.04zM64 13h1.04v1.02h-1.04zM15 14h1.04v1.02h-1.04zM25 14h1.04v1.02h-1.04zM27 14h1.04v1.02h-1.04zM30 14h1.04v1.02h-1.04zM35 14h1.04v1.02h-1.04zM40 14h2.04v1.02h-2.04zM62 14h1.04v1.02h-1.04zM0 15h1.04v1.02h-1.04zM22 15h1.04v1.02h-1.04zM36 15h1.04v1.02h-1.04zM39 15h1.04v1.02h-1.04zM50 15h1.04v1.02h-1.04zM70 15h1.04v1.02h-1.04zM15 16h1.04v1.02h-1.04zM36 16h1.04v1.02h-1.04zM47 16h1.04v1.02h-1.04zM58 16h2.04v1.02h-2.04zM4 17h1.04v1.02h-1.04zM17 17h1.04v1.02h-1.04zM42 17h1.04v1.02h-1.04zM46 17h2.04v1.02h-2.04zM64 17h1.04v1.02h-1.04zM67 17h2.04v1.02h-2.04zM0 18h1.04v1.02h-1.04zM9 18h1.04v1.02h-1.04zM11 18h3.04v1.02h-3.04zM18 18h1.04v1.02h-1.04zM23 18h1.04v1.02h-1.04zM27 18h1.04v1.02h-1.04zM35 18h1.04v1.02h-1.04zM42 18h1.04v1.02h-1.04zM50 18h1.04v1.02h-1.04zM53 18h1.04v1.02h-1.04zM63 18h1.04v1.02h-1.04zM70 18h1.04v1.02h-1.04zM2 19h1.04v1.02h-1.04zM14 19h1.04v1.02h-1.04zM42 19h1.04v1.02h-1.04zM2 20h1.04v1.02h-1.04zM41 20h1.04v1.02h-1.04zM47 20h1.04v1.02h-1.04zM6 21h2.04v1.02h-2.04zM9 21h1.04v1.02h-1.04zM11 21h1.04v1.02h-1.04zM23 21h1.04v1.02h-1.04zM27 21h1.04v1.02h-1.04zM35 21h1.04v1.02h-1.04zM38 21h3.04v1.02h-3.04zM49 21h1.04v1.02h-1.04zM51 21h1.04v1.02h-1.04zM59 21h1.04v1.02h-1.04zM78 21h1.04v1.02h-1.04zM12 22h1.04v1.02h-1.04zM22 22h1.04v1.02h-1.04zM26 22h1.04v1.02h-1.04zM42 22h1.04v1.02h-1.04zM26 23h1.04v1.02h-1.04zM34 23h1.04v1.02h-1.04zM37 23h1.04v1.02h-1.04zM40 23h1.04v1.02h-1.04zM53 23h1.04v1.02h-1.04zM70 23h1.04v1.02h-1.04zM3 24h3.04v1.02h-3.04zM11 24h1.04v1.02h-1.04zM14 24h1.04v1.02h-1.04zM34 24h1.04v1.02h-1.04zM37 24h2.04v1.02h-2.04zM40 24h1.04v1.02h-1.04zM51 24h1.04v1.02h-1.04zM54 24h1.04v1.02h-1.04zM4 25h1.04v1.02h-1.04zM32 25h1.04v1.02h-1.04zM38 25h1.04v1.02h-1.04zM60 25h2.04v1.02h-2.04zM3 26h1.04v1.02h-1.04zM5 26h1.04v1.02h-1.04zM9 26h1.04v1.02h-1.04zM11 26h1.04v1.02h-1.04zM16 26h2.04v1.02h-2.04zM30 26h1.04v1.02h-1.04zM32 26h1.04v1.02h-1.04zM34 26h1.04v1.02h-1.04zM42 26h2.04v1.02h-2.04zM45 26h1.04v1.02h-1.04zM48 26h2.04v1.02h-2.04zM53 26h1.04v1.02h-1.04zM57 26h1.04v1.02h-1.04zM60 26h1.04v1.02h-1.04zM74 26h1.04v1.02h-1.04zM79 26h1.04v1.02h-1.04zM86 26h1.04v1.02h-1.04zM0 27h2.04v1.02h-2.04zM3 27h1.04v1.02h-1.04zM6 27h2.04v1.02h-2.04zM9 27h1.04v1.02h-1.04zM11 27h1.04v1.02h-1.04zM14 27h1.04v1.02h-1.04zM16 27h1.04v1.02h-1.04zM18 27h2.04v1.02h-2.04zM23 27h1.04v1.02h-1.04zM31 27h1.04v1.02h-1.04zM34 27h1.04v1.02h-1.04zM36 27h1.04v1.02h-1.04zM39 27h1.04v1.02h-1.04zM41 27h1.04v1.02h-1.04zM45 27h2.04v1.02h-2.04zM51 27h1.04v1.02h-1.04zM53 27h1.04v1.02h-1.04zM59 27h1.04v1.02h-1.04zM62 27h1.04v1.02h-1.04zM66 27h1.04v1.02h-1.04zM77 27h2.04v1.02h-2.04zM84 27h1.04v1.02h-1.04z"/>
<path fill="#db0000" d="M0 0h1.04v1.02h-1.04zM19 0h1.04v1.02h-1.04zM39 0h1.04v1.02h-1.04zM59 0h1.04v1.02h-1.04zM75 0h2.04v1.02h-2.04zM79 0h1.04v1.02h-1.04zM84 0h1.04v1.02h-1.04zM88 0h1.04v1.02h-1.04zM90 0h1.04v1.02h-1.04zM72 1h1.04v1.02h-1.04zM75 1h1.04v1.02h-1.04zM84 1h1.04v1.02h-1.04zM91 1h1.04v1.02h-1.04zM72 2h1.04v1.02h-1.04zM76 2h2.04v1.02h-2.04zM80 2h1.04v1.02h-1.04zM83 2h2.04v1.02h-2.04zM86 2h1.04v1.02h-1.04zM90 2h1.04v1.02h-1.04zM71 3h3.04v1.02h-3.04zM76 3h2.04v1.02h-2.04zM82 3h2.04v1.02h-2.04zM89 3h3.04v1.02h-3.04zM71 4h3.04v1.02h-3.04zM75 4h3.04v1.02h-3.04zM82 4h3.04v1.02h-3.04zM89 4h3.04v1.02h-3.04zM71 5h3.04v1.02h-3.04zM76 5h2.04v1.02h-2.04zM82 5h2.04v1.02h-2.04zM90 5h2.04v1.02h-2.04zM71 6h3.04v1.02h-3.04zM76 6h2.04v1.02h-2.04zM83 6h1.04v1.02h-1.04zM90 6h2.04v1.02h-2.04zM71 7h3.04v1.02h-3.04zM75 7h3.04v1.02h-3.04zM81 7h1.04v1.02h-1.04zM83 7h1.04v1.02h-1.04zM89 7h3.04v1.02h-3.04zM76 10h1.04v1.02h-1.04zM80 10h1.04v1.02h-1.04zM86 10h1.04v1.02h-1.04zM91 10h1.04v1.02h-1.04zM29 11h1.04v1.02h-1.04zM60 11h1.04v1.02h-1.04zM73 11h1.04v1.02h-1.04zM76 11h1.04v1.02h-1.04zM91 11h1.04v1.02h-1.04zM72 12h2.04v1.02h-2.04zM76 12h2.04v1.02h-2.04zM82 12h1.04v1.02h-1.04zM90 12h2.04v1.02h-2.04zM72 13h1.04v1.02h-1.04zM77 13h1.04v1.02h-1.04zM88 13h3.04v1.02h-3.04zM72 14h1.04v1.02h-1.04zM75 14h3.04v1.02h-3.04zM80 14h2.04v1.02h-2.04zM91 14h1.04v1.02h-1.04zM72 15h2.04v1.02h-2.04zM75 15h3.04v1.02h-3.04zM88 15h1.04v1.02h-1.04zM90 15h2.04v1.02h-2.04zM75 16h3.04v1.02h-3.04zM84 16h1.04v1.02h-1.04zM91 16h1.04v1.02h-1.04zM30 17h1.04v1.02h-1.04zM72 17h1.04v1.02h-1.04zM76 17h1.04v1.02h-1.04zM82 17h2.04v1.02h-2.04zM85 17h1.04v1.02h-1.04zM90 17h1.04v1.02h-1.04zM2 18h1.04v1.02h-1.04zM71 18h2.04v1.02h-2.04zM76 18h2.04v1.02h-2.04zM81 18h3.04v1.02h-3.04zM90 18h1.04v1.02h-1.04zM70 19h1.04v1.02h-1.04zM72 19h1.04v1.02h-1.04zM76 19h2.04v1.02h-2.04zM80 19h1.04v1.02h-1.04zM91 19h1.04v1.02h-1.04zM90 20h1.04v1.02h-1.04zM71 21h2.04v1.02h-2.04zM75 21h2.04v1.02h-2.04zM82 21h2.04v1.02h-2.04zM88 21h1.04v1.02h-1.04zM90 21h2.04v1.02h-2.04zM71 22h3.04v1.02h-3.04zM75 22h2.04v1.02h-2.04zM83 22h1.04v1.02h-1.04zM88 22h1.04v1.02h-1.04zM90 22h2.04v1.02h-2.04zM71 23h2.04v1.02h-2.04zM76 23h2.04v1.02h-2.04zM82 23h2.04v1.02h-2.04zM89 23h3.04v1.02h-3.04zM57 24h1.04v1.02h-1.04zM72 24h1.04v1.02h-1.04zM75 24h1.04v1.02h-1.04zM80 24h1.04v1.02h-1.04zM83 24h1.04v1.02h-1.04zM89 24h1.04v1.02h-1.04zM91 24h1.04v1.02h-1.04zM5 25h1.04v1.02h-1.04zM72 25h1.04v1.02h-1.04zM77 25h1.04v1.02h-1.04zM55 26h1.04v1.02h-1.04zM59 26h1.04v1.02h-1.04zM83 26h1.04v1.02h-1.04zM29 27h1.04v1.02h-1.04zM33 27h1.04v1.02h-1.04zM73 27h1.04v1.02h-1.04zM75 27h1.04v1.02h-1.04zM83 27h1.04v1.02h-1.04zM87 27h1.04v1.02h-1.04zM8 28h1.04v1.02h-1.04zM29 28h1.04v1.02h-1.04zM33 28h1.04v1.02h-1.04zM52 28h1.04v1.02h-1.04zM57 28h1.04v1.02h-1.04zM60 28h1.04v1.02h-1.04zM63 28h1.04v1.02h-1.04zM71 28h2.04v1.02h-2.04z"/>
<path fill="#db4242" d="M12 0h1.04v1.02h-1.04zM17 0h1.04v1.02h-1.04zM0 1h1.04v1.02h-1.04zM16 1h1.04v1.02h-1.04zM25 1h1.04v1.02h-1.04zM29 1h2.04v1.02h-2.04zM81 1h2.04v1.02h-2.04zM73 2h1.04v1.02h-1.04zM82 2h1.04v1.02h-1.04zM75 3h1.04v1.02h-1.04zM80 3h1.04v1.02h-1.04zM84 3h1.04v1.02h-1.04zM88 3h1.04v1.02h-1.04zM52 4h1.04v1.02h-1.04zM81 4h1.04v1.02h-1.04zM5 5h1.04v1.02h-1.04zM11 5h1.04v1.02h-1.04zM52 5h1.04v1.02h-1.04zM75 5h1.04v1.02h-1.04zM81 5h1.04v1.02h-1.04zM84 5h1.04v1.02h-1.04zM88 5h2.04v1.02h-2.04zM81 6h2.04v1.02h-2.04zM88 6h2.04v1.02h-2.04zM82 7h1.04v1.02h-1.04zM76 8h1.04v1.02h-1.04zM80 8h1.04v1.02h-1.04zM82 8h2.04v1.02h-2.04zM86 8h1.04v1.02h-1.04zM88 8h5.04v1.02h-5.04zM17 9h1.04v1.02h-1.04zM46 9h1.04v1.02h-1.04zM76 9h3.04v1.02h-3.04zM80 9h2.04v1.02h-2.04zM88 9h1.04v1.02h-1.04zM90 9h2.04v1.02h-2.04zM10 10h1.04v1.02h-1.04zM16 10h2.04v1.02h-2.04zM46 10h1.04v1.02h-1.04zM60 10h1.04v1.02h-1.04zM72 10h2.04v1.02h-2.04zM77 10h1.04v1.02h-1.04zM79 10h1.04v1.02h-1.04zM81 10h1.04v1.02h-1.04zM83 10h1.04v1.02h-1.04zM88 10h3.04v1.02h-3.04zM11 11h1.04v1.02h-1.04zM32 11h1.04v1.02h-1.04zM46 11h1.04v1.02h-1.04zM71 11h1.04v1.02h-1.04zM77 11h3.04v1.02h-3.04zM90 11h1.04v1.02h-1.04zM5 12h1.04v1.02h-1.04zM52 12h1.04v1.02h-1.04zM52 13h1.04v1.02h-1.04zM57 13h1.04v1.02h-1.04zM71 13h1.04v1.02h-1.04zM73 13h1.04v1.02h-1.04zM75 13h2.04v1.02h-2.04zM81 13h3.04v1.02h-3.04zM52 14h1.04v1.02h-1.04zM73 14h1.04v1.02h-1.04zM78 14h2.04v1.02h-2.04zM84 14h1.04v1.02h-1.04zM87 14h2.04v1.02h-2.04zM90 14h1.04v1.02h-1.04zM5 15h1.04v1.02h-1.04zM52 15h1.04v1.02h-1.04zM60 15h1.04v1.02h-1.04zM81 15h1.04v1.02h-1.04zM83 15h2.04v1.02h-2.04zM9 16h1.04v1.02h-1.04zM29 16h1.04v1.02h-1.04zM52 16h1.04v1.02h-1.04zM72 16h1.04v1.02h-1.04zM79 16h4.04v1.02h-4.04zM85 16h1.04v1.02h-1.04zM87 16h1.04v1.02h-1.04zM8 17h1.04v1.02h-1.04zM71 17h1.04v1.02h-1.04zM73 17h1.04v1.02h-1.04zM77 17h2.04v1.02h-2.04zM80 17h2.04v1.02h-2.04zM84 17h1.04v1.02h-1.04zM91 17h1.04v1.02h-1.04zM30 18h1.04v1.02h-1.04zM52 18h1.04v1.02h-1.04zM75 18h1.04v1.02h-1.04zM84 18h2.04v1.02h-2.04zM89 18h1.04v1.02h-1.04zM91 18h1.04v1.02h-1.04zM29 19h1.04v1.02h-1.04zM49 19h1.04v1.02h-1.04zM51 19h1.04v1.02h-1.04zM57 19h1.04v1.02h-1.04zM73 19h1.04v1.02h-1.04zM78 19h1.04v1.02h-1.04zM82 19h1.04v1.02h-1.04zM86 19h1.04v1.02h-1.04zM89 19h2.04v1.02h-2.04zM17 20h1.04v1.02h-1.04zM72 20h2.04v1.02h-2.04zM76 20h2.04v1.02h-2.04zM82 20h2.04v1.02h-2.04zM86 20h1.04v1.02h-1.04zM89 20h1.04v1.02h-1.04zM91 20h1.04v1.02h-1.04zM52 21h1.04v1.02h-1.04zM60 21h1.04v1.02h-1.04zM73 21h1.04v1.02h-1.04zM77 21h1.04v1.02h-1.04zM81 21h1.04v1.02h-1.04zM84 21h2.04v1.02h-2.04zM89 21h1.04v1.02h-1.04zM46 22h1.04v1.02h-1.04zM60 22h1.04v1.02h-1.04zM77 22h1.04v1.02h-1.04zM81 22h2.04v1.02h-2.04zM84 22h1.04v1.02h-1.04zM86 22h1.04v1.02h-1.04zM89 22h1.04v1.02h-1.04zM60 23h1.04v1.02h-1.04zM73 23h1.04v1.02h-1.04zM75 23h1.04v1.02h-1.04zM81 23h1.04v1.02h-1.04zM85 23h1.04v1.02h-1.04zM92 23h1.04v1.02h-1.04zM71 24h1.04v1.02h-1.04zM73 24h1.04v1.02h-1.04zM76 24h2.04v1.02h-2.04zM82 24h1.04v1.02h-1.04zM85 24h2.04v1.02h-2.04zM90 24h1.04v1.02h-1.04zM92 24h1.04v1.02h-1.04zM6 25h2.04v1.02h-2.04zM12 25h1.04v1.02h-1.04zM35 25h1.04v1.02h-1.04zM55 25h1.04v1.02h-1.04zM71 25h1.04v1.02h-1.04zM76 25h1.04v1.02h-1.04zM82 25h1.04v1.02h-1.04zM19 26h1.04v1.02h-1.04zM28 26h1.04v1.02h-1.04zM54 26h1.04v1.02h-1.04zM77 26h2.04v1.02h-2.04zM12 27h1.04v1.02h-1.04zM24 27h1.04v1.02h-1.04zM47 27h1.04v1.02h-1.04zM52 27h1.04v1.02h-1.04zM64 27h1.04v1.02h-1.04zM72 27h1.04v1.02h-1.04zM76 27h1.04v1.02h-1.04zM15 28h4.04v1.02h-4.04zM22 28h1.04v1.02h-1.04z"/>
<path fill="#e18080" d="M6 0h2.04v1.02h-2.04zM52 0h1.04v1.02h-1.04zM78 0h1.04v1.02h-1.04zM80 0h1.04v1.02h-1.04zM92 0h1.04v1.02h-1.04zM5 1h1.04v1.02h-1.04zM8 1h2.04v1.02h-2.04zM54 1h1.04v1.02h-1.04zM76 1h1.04v1.02h-1.04zM79 1h2.04v1.02h-2.04zM87 1h1.04v1.02h-1.04zM60 2h1.04v1.02h-1.04zM71 2h1.04v1.02h-1.04zM89 2h1.04v1.02h-1.04zM91 2h1.04v1.02h-1.04zM49 3h1.04v1.02h-1.04zM52 3h1.04v1.02h-1.04zM92 3h1.04v1.02h-1.04zM80 4h1.04v1.02h-1.04zM85 4h2.04v1.02h-2.04zM88 4h1.04v1.02h-1.04zM10 5h1.04v1.02h-1.04zM79 5h2.04v1.02h-2.04zM86 5h2.04v1.02h-2.04zM29 6h1.04v1.02h-1.04zM52 6h1.04v1.02h-1.04zM60 6h1.04v1.02h-1.04zM75 6h1.04v1.02h-1.04zM79 6h1.04v1.02h-1.04zM84 6h1.04v1.02h-1.04zM86 6h1.04v1.02h-1.04zM29 7h1.04v1.02h-1.04zM79 7h1.04v1.02h-1.04zM84 7h1.04v1.02h-1.04zM86 7h1.04v1.02h-1.04zM88 7h1.04v1.02h-1.04zM8 8h2.04v1.02h-2.04zM17 8h1.04v1.02h-1.04zM27 8h3.04v1.02h-3.04zM31 8h1.04v1.02h-1.04zM43 8h1.04v1.02h-1.04zM46 8h1.04v1.02h-1.04zM49 8h1.04v1.02h-1.04zM52 8h1.04v1.02h-1.04zM57 8h1.04v1.02h-1.04zM71 8h5.04v1.02h-5.04zM77 8h1.04v1.02h-1.04zM81 8h1.04v1.02h-1.04zM87 8h1.04v1.02h-1.04zM10 9h1.04v1.02h-1.04zM16 9h1.04v1.02h-1.04zM29 9h1.04v1.02h-1.04zM52 9h2.04v1.02h-2.04zM60 9h1.04v1.02h-1.04zM72 9h1.04v1.02h-1.04zM75 9h1.04v1.02h-1.04zM79 9h1.04v1.02h-1.04zM82 9h1.04v1.02h-1.04zM84 9h3.04v1.02h-3.04zM89 9h1.04v1.02h-1.04zM5 10h1.04v1.02h-1.04zM29 10h1.04v1.02h-1.04zM35 10h1.04v1.02h-1.04zM52 10h2.04v1.02h-2.04zM71 10h1.04v1.02h-1.04zM74 10h2.04v1.02h-2.04zM78 10h1.04v1.02h-1.04zM82 10h1.04v1.02h-1.04zM84 10h1.04v1.02h-1.04zM2 11h1.04v1.02h-1.04zM8 11h1.04v1.02h-1.04zM17 11h1.04v1.02h-1.04zM52 11h1.04v1.02h-1.04zM81 11h2.04v1.02h-2.04zM86 11h3.04v1.02h-3.04zM92 11h1.04v1.02h-1.04zM2 12h1.04v1.02h-1.04zM8 12h1.04v1.02h-1.04zM16 12h1.04v1.02h-1.04zM29 12h1.04v1.02h-1.04zM39 12h1.04v1.02h-1.04zM43 12h1.04v1.02h-1.04zM49 12h1.04v1.02h-1.04zM53 12h1.04v1.02h-1.04zM71 12h1.04v1.02h-1.04zM88 12h2.04v1.02h-2.04zM92 12h1.04v1.02h-1.04zM5 13h1.04v1.02h-1.04zM8 13h1.04v1.02h-1.04zM10 13h1.04v1.02h-1.04zM17 13h1.04v1.02h-1.04zM22 13h1.04v1.02h-1.04zM43 13h1.04v1.02h-1.04zM84 13h2.04v1.02h-2.04zM87 13h1.04v1.02h-1.04zM91 13h1.04v1.02h-1.04zM10 14h1.04v1.02h-1.04zM17 14h1.04v1.02h-1.04zM19 14h1.04v1.02h-1.04zM29 14h1.04v1.02h-1.04zM60 14h1.04v1.02h-1.04zM71 14h1.04v1.02h-1.04zM82 14h1.04v1.02h-1.04zM85 14h1.04v1.02h-1.04zM2 15h1.04v1.02h-1.04zM9 15h1.04v1.02h-1.04zM17 15h1.04v1.02h-1.04zM71 15h1.04v1.02h-1.04zM79 15h2.04v1.02h-2.04zM82 15h1.04v1.02h-1.04zM87 15h1.04v1.02h-1.04zM2 16h1.04v1.02h-1.04zM19 16h1.04v1.02h-1.04zM33 16h1.04v1.02h-1.04zM39 16h1.04v1.02h-1.04zM43 16h1.04v1.02h-1.04zM60 16h1.04v1.02h-1.04zM62 16h1.04v1.02h-1.04zM71 16h1.04v1.02h-1.04zM88 16h1.04v1.02h-1.04zM90 16h1.04v1.02h-1.04zM19 17h1.04v1.02h-1.04zM27 17h2.04v1.02h-2.04zM39 17h1.04v1.02h-1.04zM51 17h2.04v1.02h-2.04zM62 17h1.04v1.02h-1.04zM75 17h1.04v1.02h-1.04zM86 17h1.04v1.02h-1.04zM88 17h2.04v1.02h-2.04zM92 17h1.04v1.02h-1.04zM67 18h1.04v1.02h-1.04zM78 18h1.04v1.02h-1.04zM88 18h1.04v1.02h-1.04zM15 19h1.04v1.02h-1.04zM33 19h1.04v1.02h-1.04zM46 19h1.04v1.02h-1.04zM52 19h1.04v1.02h-1.04zM54 19h2.04v1.02h-2.04zM68 19h1.04v1.02h-1.04zM75 19h1.04v1.02h-1.04zM79 19h1.04v1.02h-1.04zM83 19h2.04v1.02h-2.04zM1 20h1.04v1.02h-1.04zM5 20h1.04v1.02h-1.04zM8 20h1.04v1.02h-1.04zM10 20h1.04v1.02h-1.04zM24 20h1.04v1.02h-1.04zM27 20h1.04v1.02h-1.04zM29 20h1.04v1.02h-1.04zM33 20h2.04v1.02h-2.04zM43 20h1.04v1.02h-1.04zM46 20h1.04v1.02h-1.04zM51 20h2.04v1.02h-2.04zM59 20h2.04v1.02h-2.04zM71 20h1.04v1.02h-1.04zM75 20h1.04v1.02h-1.04zM78 20h4.04v1.02h-4.04zM84 20h2.04v1.02h-2.04zM88 20h1.04v1.02h-1.04zM92 20h1.04v1.02h-1.04zM5 21h1.04v1.02h-1.04zM8 21h1.04v1.02h-1.04zM16 21h1.04v1.02h-1.04zM26 21h1.04v1.02h-1.04zM46 21h1.04v1.02h-1.04zM53 21h1.04v1.02h-1.04zM57 21h1.04v1.02h-1.04zM74 21h1.04v1.02h-1.04zM79 21h1.04v1.02h-1.04zM86 21h2.04v1.02h-2.04zM92 21h1.04v1.02h-1.04zM5 22h1.04v1.02h-1.04zM8 22h1.04v1.02h-1.04zM17 22h1.04v1.02h-1.04zM29 22h1.04v1.02h-1.04zM52 22h1.04v1.02h-1.04zM57 22h1.04v1.02h-1.04zM74 22h1.04v1.02h-1.04zM79 22h2.04v1.02h-2.04zM85 22h1.04v1.02h-1.04zM87 22h1.04v1.02h-1.04zM92 22h1.04v1.02h-1.04zM8 23h1.04v1.02h-1.04zM29 23h1.04v1.02h-1.04zM43 23h1.04v1.02h-1.04zM52 23h1.04v1.02h-1.04zM80 23h1.04v1.02h-1.04zM86 23h1.04v1.02h-1.04zM88 23h1.04v1.02h-1.04zM17 24h1.04v1.02h-1.04zM30 24h1.04v1.02h-1.04zM46 24h1.04v1.02h-1.04zM49 24h1.04v1.02h-1.04zM52 24h1.04v1.02h-1.04zM60 24h1.04v1.02h-1.04zM74 24h1.04v1.02h-1.04zM79 24h1.04v1.02h-1.04zM81 24h1.04v1.02h-1.04zM84 24h1.04v1.02h-1.04zM88 24h1.04v1.02h-1.04zM8 25h1.04v1.02h-1.04zM42 25h1.04v1.02h-1.04zM52 25h1.04v1.02h-1.04zM56 25h1.04v1.02h-1.04zM64 25h1.04v1.02h-1.04zM66 25h1.04v1.02h-1.04zM68 25h1.04v1.02h-1.04zM70 25h1.04v1.02h-1.04zM73 25h1.04v1.02h-1.04zM81 25h1.04v1.02h-1.04zM85 25h1.04v1.02h-1.04zM88 25h1.04v1.02h-1.04zM75 26h1.04v1.02h-1.04zM82 26h1.04v1.02h-1.04zM84 26h1.04v1.02h-1.04zM28 27h1.04v1.02h-1.04zM49 27h1.04v1.02h-1.04zM7 28h1.04v1.02h-1.04zM14 28h1.04v1.02h-1.04zM46 28h1.04v1.02h-1.04zM51 28h1.04v1.02h-1.04zM83 28h2.04v1.02h-2.04zM90 28h1.04v1.02h-1.04z"/>
<path fill="#f0cccc" d="M15 0h1.04v1.02h-1.04zM22 0h1.04v1.02h-1.04zM27 0h1.04v1.02h-1.04zM30 0h1.04v1.02h-1.04zM51 0h1.04v1.02h-1.04zM60 0h1.04v1.02h-1.04zM68 0h1.04v1.02h-1.04zM73 0h1.04v1.02h-1.04zM28 1h1.04v1.02h-1.04zM40 1h1.04v1.02h-1.04zM46 1h1.04v1.02h-1.04zM52 1h1.04v1.02h-1.04zM57 1h1.04v1.02h-1.04zM60 1h1.04v1.02h-1.04zM73 1h1.04v1.02h-1.04zM88 1h1.04v1.02h-1.04zM90 1h1.04v1.02h-1.04zM52 2h1.04v1.02h-1.04zM56 2h2.04v1.02h-2.04zM65 2h1.04v1.02h-1.04zM75 2h1.04v1.02h-1.04zM78 2h2.04v1.02h-2.04zM81 2h1.04v1.02h-1.04zM5 3h1.04v1.02h-1.04zM8 3h1.04v1.02h-1.04zM29 3h1.04v1.02h-1.04zM43 3h1.04v1.02h-1.04zM60 3h1.04v1.02h-1.04zM78 3h2.04v1.02h-2.04zM81 3h1.04v1.02h-1.04zM85 3h3.04v1.02h-3.04zM5 4h1.04v1.02h-1.04zM30 4h1.04v1.02h-1.04zM60 4h1.04v1.02h-1.04zM78 4h2.04v1.02h-2.04zM92 4h1.04v1.02h-1.04zM17 5h1.04v1.02h-1.04zM34 5h1.04v1.02h-1.04zM46 5h1.04v1.02h-1.04zM57 5h1.04v1.02h-1.04zM60 5h1.04v1.02h-1.04zM74 5h1.04v1.02h-1.04zM5 6h1.04v1.02h-1.04zM9 6h1.04v1.02h-1.04zM16 6h2.04v1.02h-2.04zM43 6h1.04v1.02h-1.04zM46 6h1.04v1.02h-1.04zM80 6h1.04v1.02h-1.04zM87 6h1.04v1.02h-1.04zM92 6h1.04v1.02h-1.04zM9 7h1.04v1.02h-1.04zM46 7h1.04v1.02h-1.04zM52 7h2.04v1.02h-2.04zM60 7h1.04v1.02h-1.04zM80 7h1.04v1.02h-1.04zM85 7h1.04v1.02h-1.04zM87 7h1.04v1.02h-1.04zM1 8h1.04v1.02h-1.04zM3 8h1.04v1.02h-1.04zM5 8h1.04v1.02h-1.04zM10 8h1.04v1.02h-1.04zM15 8h2.04v1.02h-2.04zM22 8h1.04v1.02h-1.04zM24 8h1.04v1.02h-1.04zM37 8h1.04v1.02h-1.04zM42 8h1.04v1.02h-1.04zM48 8h1.04v1.02h-1.04zM51 8h1.04v1.02h-1.04zM53 8h2.04v1.02h-2.04zM59 8h2.04v1.02h-2.04zM62 8h2.04v1.02h-2.04zM78 8h2.04v1.02h-2.04zM84 8h2.04v1.02h-2.04zM5 9h1.04v1.02h-1.04zM9 9h1.04v1.02h-1.04zM11 9h1.04v1.02h-1.04zM15 9h1.04v1.02h-1.04zM22 9h1.04v1.02h-1.04zM24 9h1.04v1.02h-1.04zM28 9h1.04v1.02h-1.04zM31 9h1.04v1.02h-1.04zM34 9h2.04v1.02h-2.04zM43 9h1.04v1.02h-1.04zM49 9h1.04v1.02h-1.04zM57 9h1.04v1.02h-1.04zM59 9h1.04v1.02h-1.04zM70 9h1.04v1.02h-1.04zM73 9h2.04v1.02h-2.04zM83 9h1.04v1.02h-1.04zM92 9h1.04v1.02h-1.04zM1 10h2.04v1.02h-2.04zM11 10h1.04v1.02h-1.04zM15 10h1.04v1.02h-1.04zM22 10h1.04v1.02h-1.04zM34 10h1.04v1.02h-1.04zM43 10h1.04v1.02h-1.04zM45 10h1.04v1.02h-1.04zM57 10h1.04v1.02h-1.04zM0 11h1.04v1.02h-1.04zM9 11h1.04v1.02h-1.04zM19 11h1.04v1.02h-1.04zM22 11h1.04v1.02h-1.04zM26 11h2.04v1.02h-2.04zM34 11h1.04v1.02h-1.04zM49 11h1.04v1.02h-1.04zM63 11h1.04v1.02h-1.04zM72 11h1.04v1.02h-1.04zM75 11h1.04v1.02h-1.04zM80 11h1.04v1.02h-1.04zM83 11h2.04v1.02h-2.04zM15 12h1.04v1.02h-1.04zM17 12h1.04v1.02h-1.04zM22 12h1.04v1.02h-1.04zM34 12h1.04v1.02h-1.04zM41 12h1.04v1.02h-1.04zM48 12h1.04v1.02h-1.04zM57 12h1.04v1.02h-1.04zM79 12h1.04v1.02h-1.04zM81 12h1.04v1.02h-1.04zM83 12h2.04v1.02h-2.04zM86 12h2.04v1.02h-2.04zM2 13h1.04v1.02h-1.04zM12 13h1.04v1.02h-1.04zM16 13h1.04v1.02h-1.04zM19 13h1.04v1.02h-1.04zM24 13h1.04v1.02h-1.04zM27 13h3.04v1.02h-3.04zM33 13h2.04v1.02h-2.04zM48 13h1.04v1.02h-1.04zM51 13h1.04v1.02h-1.04zM60 13h1.04v1.02h-1.04zM74 13h1.04v1.02h-1.04zM78 13h3.04v1.02h-3.04zM86 13h1.04v1.02h-1.04zM92 13h1.04v1.02h-1.04zM0 14h1.04v1.02h-1.04zM5 14h1.04v1.02h-1.04zM9 14h1.04v1.02h-1.04zM11 14h1.04v1.02h-1.04zM16 14h1.04v1.02h-1.04zM22 14h1.04v1.02h-1.04zM24 14h1.04v1.02h-1.04zM33 14h2.04v1.02h-2.04zM43 14h1.04v1.02h-1.04zM46 14h1.04v1.02h-1.04zM49 14h1.04v1.02h-1.04zM83 14h1.04v1.02h-1.04zM89 14h1.04v1.02h-1.04zM92 14h1.04v1.02h-1.04zM8 15h1.04v1.02h-1.04zM10 15h2.04v1.02h-2.04zM19 15h1.04v1.02h-1.04zM24 15h1.04v1.02h-1.04zM29 15h1.04v1.02h-1.04zM34 15h1.04v1.02h-1.04zM43 15h1.04v1.02h-1.04zM57 15h1.04v1.02h-1.04zM74 15h1.04v1.02h-1.04zM78 15h1.04v1.02h-1.04zM85 15h2.04v1.02h-2.04zM92 15h1.04v1.02h-1.04zM8 16h1.04v1.02h-1.04zM10 16h1.04v1.02h-1.04zM13 16h1.04v1.02h-1.04zM16 16h2.04v1.02h-2.04zM22 16h1.04v1.02h-1.04zM30 16h1.04v1.02h-1.04zM38 16h1.04v1.02h-1.04zM45 16h1.04v1.02h-1.04zM65 16h1.04v1.02h-1.04zM73 16h2.04v1.02h-2.04zM78 16h1.04v1.02h-1.04zM86 16h1.04v1.02h-1.04zM92 16h1.04v1.02h-1.04zM0 17h1.04v1.02h-1.04zM2 17h1.04v1.02h-1.04zM10 17h1.04v1.02h-1.04zM33 17h1.04v1.02h-1.04zM49 17h1.04v1.02h-1.04zM55 17h1.04v1.02h-1.04zM59 17h2.04v1.02h-2.04zM79 17h1.04v1.02h-1.04zM17 18h1.04v1.02h-1.04zM39 18h1.04v1.02h-1.04zM62 18h1.04v1.02h-1.04zM73 18h1.04v1.02h-1.04zM87 18h1.04v1.02h-1.04zM92 18h1.04v1.02h-1.04zM1 19h1.04v1.02h-1.04zM5 19h1.04v1.02h-1.04zM8 19h1.04v1.02h-1.04zM11 19h1.04v1.02h-1.04zM17 19h1.04v1.02h-1.04zM27 19h1.04v1.02h-1.04zM31 19h1.04v1.02h-1.04zM43 19h1.04v1.02h-1.04zM59 19h2.04v1.02h-2.04zM63 19h1.04v1.02h-1.04zM71 19h1.04v1.02h-1.04zM74 19h1.04v1.02h-1.04zM81 19h1.04v1.02h-1.04zM85 19h1.04v1.02h-1.04zM88 19h1.04v1.02h-1.04zM12 20h1.04v1.02h-1.04zM19 20h1.04v1.02h-1.04zM28 20h1.04v1.02h-1.04zM30 20h1.04v1.02h-1.04zM53 20h1.04v1.02h-1.04zM57 20h1.04v1.02h-1.04zM65 20h1.04v1.02h-1.04zM68 20h1.04v1.02h-1.04zM70 20h1.04v1.02h-1.04zM74 20h1.04v1.02h-1.04zM87 20h1.04v1.02h-1.04zM10 21h1.04v1.02h-1.04zM12 21h1.04v1.02h-1.04zM15 21h1.04v1.02h-1.04zM17 21h1.04v1.02h-1.04zM9 22h2.04v1.02h-2.04zM24 22h1.04v1.02h-1.04zM43 22h1.04v1.02h-1.04zM51 22h1.04v1.02h-1.04zM53 22h1.04v1.02h-1.04zM59 22h1.04v1.02h-1.04zM78 22h1.04v1.02h-1.04zM0 23h1.04v1.02h-1.04zM15 23h3.04v1.02h-3.04zM22 23h1.04v1.02h-1.04zM30 23h1.04v1.02h-1.04zM49 23h1.04v1.02h-1.04zM51 23h1.04v1.02h-1.04zM54 23h1.04v1.02h-1.04zM74 23h1.04v1.02h-1.04zM79 23h1.04v1.02h-1.04zM84 23h1.04v1.02h-1.04zM87 23h1.04v1.02h-1.04zM2 24h1.04v1.02h-1.04zM8 24h1.04v1.02h-1.04zM16 24h1.04v1.02h-1.04zM26 24h1.04v1.02h-1.04zM28 24h2.04v1.02h-2.04zM78 24h1.04v1.02h-1.04zM9 25h1.04v1.02h-1.04zM33 25h1.04v1.02h-1.04zM36 25h1.04v1.02h-1.04zM39 25h1.04v1.02h-1.04zM50 25h1.04v1.02h-1.04zM54 25h1.04v1.02h-1.04zM67 25h1.04v1.02h-1.04zM78 25h1.04v1.02h-1.04zM89 25h3.04v1.02h-3.04zM2 26h1.04v1.02h-1.04zM12 26h1.04v1.02h-1.04zM15 26h1.04v1.02h-1.04zM22 26h1.04v1.02h-1.04zM27 26h1.04v1.02h-1.04zM39 26h1.04v1.02h-1.04zM51 26h2.04v1.02h-2.04zM68 26h1.04v1.02h-1.04zM72 26h1.04v1.02h-1.04zM80 26h1.04v1.02h-1.04zM85 26h1.04v1.02h-1.04zM87 26h2.04v1.02h-2.04zM26 27h1.04v1.02h-1.04zM32 27h1.04v1.02h-1.04zM58 27h1.04v1.02h-1.04zM74 27h1.04v1.02h-1.04zM79 27h1.04v1.02h-1.04zM82 27h1.04v1.02h-1.04zM5 28h1.04v1.02h-1.04zM10 28h1.04v1.02h-1.04zM12 28h1.04v1.02h-1.04zM24 28h1.04v1.02h-1.04zM34 28h1.04v1.02h-1.04zM43 28h1.04v1.02h-1.04zM55 28h1.04v1.02h-1.04zM66 28h2.04v1.02h-2.04zM89 28h1.04v1.02h-1.04z"/>
<path fill="#f0f0fd" d="M13 0h1.04v1.02h-1.04zM26 0h1.04v1.02h-1.04zM28 0h1.04v1.02h-1.04zM43 0h1.04v1.02h-1.04zM77 0h1.04v1.02h-1.04zM81 0h1.04v1.02h-1.04zM19 1h1.04v1.02h-1.04zM22 1h1.04v1.02h-1.04zM36 1h1.04v1.02h-1.04zM42 1h1.04v1.02h-1.04zM64 1h1.04v1.02h-1.04zM85 1h1.04v1.02h-1.04zM5 2h1.04v1.02h-1.04zM17 2h1.04v1.02h-1.04zM19 2h2.04v1.02h-2.04zM23 2h2.04v1.02h-2.04zM35 2h1.04v1.02h-1.04zM45 2h1.04v1.02h-1.04zM66 2h2.04v1.02h-2.04zM74 2h1.04v1.02h-1.04zM85 2h1.04v1.02h-1.04zM2 3h1.04v1.02h-1.04zM24 3h1.04v1.02h-1.04zM27 3h1.04v1.02h-1.04zM30 3h1.04v1.02h-1.04zM33 3h1.04v1.02h-1.04zM39 3h1.04v1.02h-1.04zM47 3h1.04v1.02h-1.04zM74 3h1.04v1.02h-1.04zM2 4h1.04v1.02h-1.04zM9 4h1.04v1.02h-1.04zM22 4h1.04v1.02h-1.04zM28 4h2.04v1.02h-2.04zM39 4h1.04v1.02h-1.04zM51 4h1.04v1.02h-1.04zM57 4h1.04v1.02h-1.04zM59 4h1.04v1.02h-1.04zM62 4h1.04v1.02h-1.04zM74 4h1.04v1.02h-1.04zM87 4h1.04v1.02h-1.04zM29 5h1.04v1.02h-1.04zM55 5h1.04v1.02h-1.04zM78 5h1.04v1.02h-1.04zM8 6h1.04v1.02h-1.04zM19 6h1.04v1.02h-1.04zM33 6h2.04v1.02h-2.04zM39 6h1.04v1.02h-1.04zM41 6h1.04v1.02h-1.04zM57 6h1.04v1.02h-1.04zM62 6h1.04v1.02h-1.04zM0 7h1.04v1.02h-1.04zM10 7h2.04v1.02h-2.04zM32 7h1.04v1.02h-1.04zM34 7h1.04v1.02h-1.04zM7 8h1.04v1.02h-1.04zM11 8h1.04v1.02h-1.04zM35 8h1.04v1.02h-1.04zM12 9h1.04v1.02h-1.04zM33 9h1.04v1.02h-1.04zM37 9h1.04v1.02h-1.04zM45 9h1.04v1.02h-1.04zM48 9h1.04v1.02h-1.04zM50 9h2.04v1.02h-2.04zM64 9h1.04v1.02h-1.04zM8 10h1.04v1.02h-1.04zM32 10h1.04v1.02h-1.04zM37 10h1.04v1.02h-1.04zM41 10h1.04v1.02h-1.04zM92 10h1.04v1.02h-1.04zM13 11h1.04v1.02h-1.04zM15 11h1.04v1.02h-1.04zM23 11h2.04v1.02h-2.04zM31 11h1.04v1.02h-1.04zM70 11h1.04v1.02h-1.04zM7 12h1.04v1.02h-1.04zM9 12h1.04v1.02h-1.04zM20 12h1.04v1.02h-1.04zM38 12h1.04v1.02h-1.04zM40 12h1.04v1.02h-1.04zM51 12h1.04v1.02h-1.04zM56 12h1.04v1.02h-1.04zM68 12h1.04v1.02h-1.04zM74 12h2.04v1.02h-2.04zM78 12h1.04v1.02h-1.04zM0 13h1.04v1.02h-1.04zM7 13h1.04v1.02h-1.04zM26 13h1.04v1.02h-1.04zM35 13h1.04v1.02h-1.04zM39 13h1.04v1.02h-1.04zM53 13h1.04v1.02h-1.04zM58 13h1.04v1.02h-1.04zM63 13h1.04v1.02h-1.04zM12 14h1.04v1.02h-1.04zM26 14h1.04v1.02h-1.04zM51 14h1.04v1.02h-1.04zM54 14h1.04v1.02h-1.04zM59 14h1.04v1.02h-1.04zM64 14h1.04v1.02h-1.04zM68 14h1.04v1.02h-1.04zM13 15h1.04v1.02h-1.04zM25 15h1.04v1.02h-1.04zM33 15h1.04v1.02h-1.04zM46 15h1.04v1.02h-1.04zM51 15h1.04v1.02h-1.04zM53 15h1.04v1.02h-1.04zM58 15h2.04v1.02h-2.04zM64 15h1.04v1.02h-1.04zM68 15h1.04v1.02h-1.04zM0 16h1.04v1.02h-1.04zM5 16h1.04v1.02h-1.04zM24 16h1.04v1.02h-1.04zM26 16h3.04v1.02h-3.04zM41 16h1.04v1.02h-1.04zM89 16h1.04v1.02h-1.04zM1 17h1.04v1.02h-1.04zM5 17h1.04v1.02h-1.04zM9 17h1.04v1.02h-1.04zM12 17h1.04v1.02h-1.04zM16 17h1.04v1.02h-1.04zM26 17h1.04v1.02h-1.04zM29 17h1.04v1.02h-1.04zM34 17h1.04v1.02h-1.04zM43 17h1.04v1.02h-1.04zM53 17h1.04v1.02h-1.04zM57 17h1.04v1.02h-1.04zM87 17h1.04v1.02h-1.04zM10 18h1.04v1.02h-1.04zM31 18h1.04v1.02h-1.04zM43 18h1.04v1.02h-1.04zM49 18h1.04v1.02h-1.04zM51 18h1.04v1.02h-1.04zM65 18h2.04v1.02h-2.04zM68 18h1.04v1.02h-1.04zM86 18h1.04v1.02h-1.04zM6 19h1.04v1.02h-1.04zM12 19h1.04v1.02h-1.04zM26 19h1.04v1.02h-1.04zM34 19h1.04v1.02h-1.04zM53 19h1.04v1.02h-1.04zM66 19h1.04v1.02h-1.04zM87 19h1.04v1.02h-1.04zM21 20h1.04v1.02h-1.04zM38 20h1.04v1.02h-1.04zM48 20h1.04v1.02h-1.04zM69 20h1.04v1.02h-1.04zM24 21h1.04v1.02h-1.04zM29 21h2.04v1.02h-2.04zM33 21h1.04v1.02h-1.04zM43 21h1.04v1.02h-1.04zM54 21h1.04v1.02h-1.04zM70 21h1.04v1.02h-1.04zM0 22h1.04v1.02h-1.04zM28 22h1.04v1.02h-1.04zM41 22h1.04v1.02h-1.04zM48 22h1.04v1.02h-1.04zM62 22h1.04v1.02h-1.04zM70 22h1.04v1.02h-1.04zM1 23h1.04v1.02h-1.04zM3 23h1.04v1.02h-1.04zM7 23h1.04v1.02h-1.04zM19 23h1.04v1.02h-1.04zM24 23h1.04v1.02h-1.04zM27 23h1.04v1.02h-1.04zM33 23h1.04v1.02h-1.04zM38 23h2.04v1.02h-2.04zM44 23h1.04v1.02h-1.04zM47 23h1.04v1.02h-1.04zM59 23h1.04v1.02h-1.04zM9 24h1.04v1.02h-1.04zM15 24h1.04v1.02h-1.04zM25 24h1.04v1.02h-1.04zM33 24h1.04v1.02h-1.04zM43 24h1.04v1.02h-1.04zM53 24h1.04v1.02h-1.04zM1 25h1.04v1.02h-1.04zM10 25h1.04v1.02h-1.04zM16 25h1.04v1.02h-1.04zM20 25h1.04v1.02h-1.04zM25 25h1.04v1.02h-1.04zM27 25h1.04v1.02h-1.04zM31 25h1.04v1.02h-1.04zM37 25h1.04v1.02h-1.04zM40 25h1.04v1.02h-1.04zM45 25h1.04v1.02h-1.04zM47 25h1.04v1.02h-1.04zM49 25h1.04v1.02h-1.04zM51 25h1.04v1.02h-1.04zM59 25h1.04v1.02h-1.04zM63 25h1.04v1.02h-1.04zM83 25h1.04v1.02h-1.04zM92 25h1.04v1.02h-1.04zM0 26h1.04v1.02h-1.04zM4 26h1.04v1.02h-1.04zM8 26h1.04v1.02h-1.04zM14 26h1.04v1.02h-1.04zM23 26h4.04v1.02h-4.04zM31 26h1.04v1.02h-1.04zM35 26h4.04v1.02h-4.04zM40 26h2.04v1.02h-2.04zM47 26h1.04v1.02h-1.04zM56 26h1.04v1.02h-1.04zM64 26h1.04v1.02h-1.04zM70 26h1.04v1.02h-1.04zM76 26h1.04v1.02h-1.04zM89 26h1.04v1.02h-1.04zM91 26h2.04v1.02h-2.04zM2 27h1.04v1.02h-1.04zM4 27h1.04v1.02h-1.04zM15 27h1.04v1.02h-1.04zM20 27h1.04v1.02h-1.04zM35 27h1.04v1.02h-1.04zM48 27h1.04v1.02h-1.04zM50 27h1.04v1.02h-1.04zM88 27h1.04v1.02h-1.04z"/>
<path fill="#f9ebeb" d="M24 0h1.04v1.02h-1.04zM74 0h1.04v1.02h-1.04zM26 1h1.04v1.02h-1.04zM32 1h1.04v1.02h-1.04zM39 1h1.04v1.02h-1.04zM53 1h1.04v1.02h-1.04zM78 1h1.04v1.02h-1.04zM92 1h1.04v1.02h-1.04zM8 2h2.04v1.02h-2.04zM12 2h1.04v1.02h-1.04zM34 2h1.04v1.02h-1.04zM53 2h1.04v1.02h-1.04zM64 2h1.04v1.02h-1.04zM0 3h1.04v1.02h-1.04zM25 3h1.04v1.02h-1.04zM46 3h1.04v1.02h-1.04zM57 3h1.04v1.02h-1.04zM8 4h1.04v1.02h-1.04zM10 4h1.04v1.02h-1.04zM17 4h1.04v1.02h-1.04zM19 4h1.04v1.02h-1.04zM27 4h1.04v1.02h-1.04zM33 4h1.04v1.02h-1.04zM43 4h1.04v1.02h-1.04zM8 5h1.04v1.02h-1.04zM85 5h1.04v1.02h-1.04zM2 6h1.04v1.02h-1.04zM24 6h1.04v1.02h-1.04zM49 6h1.04v1.02h-1.04zM53 6h1.04v1.02h-1.04zM78 6h1.04v1.02h-1.04zM85 6h1.04v1.02h-1.04zM2 7h1.04v1.02h-1.04zM5 7h1.04v1.02h-1.04zM8 7h1.04v1.02h-1.04zM16 7h2.04v1.02h-2.04zM57 7h1.04v1.02h-1.04zM78 7h1.04v1.02h-1.04zM92 7h1.04v1.02h-1.04zM23 8h1.04v1.02h-1.04zM34 8h1.04v1.02h-1.04zM40 8h2.04v1.02h-2.04zM1 9h2.04v1.02h-2.04zM8 9h1.04v1.02h-1.04zM19 9h1.04v1.02h-1.04zM26 9h2.04v1.02h-2.04zM38 9h2.04v1.02h-2.04zM41 9h1.04v1.02h-1.04zM62 9h1.04v1.02h-1.04zM71 9h1.04v1.02h-1.04zM87 9h1.04v1.02h-1.04zM14 10h1.04v1.02h-1.04zM26 10h2.04v1.02h-2.04zM31 10h1.04v1.02h-1.04zM49 10h1.04v1.02h-1.04zM55 10h1.04v1.02h-1.04zM59 10h1.04v1.02h-1.04zM63 10h1.04v1.02h-1.04zM70 10h1.04v1.02h-1.04zM10 11h1.04v1.02h-1.04zM14 11h1.04v1.02h-1.04zM16 11h1.04v1.02h-1.04zM35 11h1.04v1.02h-1.04zM41 11h1.04v1.02h-1.04zM53 11h1.04v1.02h-1.04zM57 11h1.04v1.02h-1.04zM64 11h1.04v1.02h-1.04zM74 11h1.04v1.02h-1.04zM85 11h1.04v1.02h-1.04zM89 11h1.04v1.02h-1.04zM0 12h1.04v1.02h-1.04zM12 12h1.04v1.02h-1.04zM19 12h1.04v1.02h-1.04zM25 12h2.04v1.02h-2.04zM28 12h1.04v1.02h-1.04zM45 12h1.04v1.02h-1.04zM60 12h1.04v1.02h-1.04zM63 12h1.04v1.02h-1.04zM80 12h1.04v1.02h-1.04zM9 13h1.04v1.02h-1.04zM30 13h2.04v1.02h-2.04zM41 13h1.04v1.02h-1.04zM46 13h1.04v1.02h-1.04zM59 13h1.04v1.02h-1.04zM62 13h1.04v1.02h-1.04zM2 14h1.04v1.02h-1.04zM8 14h1.04v1.02h-1.04zM28 14h1.04v1.02h-1.04zM39 14h1.04v1.02h-1.04zM53 14h1.04v1.02h-1.04zM57 14h1.04v1.02h-1.04zM74 14h1.04v1.02h-1.04zM86 14h1.04v1.02h-1.04zM12 15h1.04v1.02h-1.04zM16 15h1.04v1.02h-1.04zM26 15h1.04v1.02h-1.04zM35 15h1.04v1.02h-1.04zM89 15h1.04v1.02h-1.04zM11 16h1.04v1.02h-1.04zM31 16h1.04v1.02h-1.04zM34 16h1.04v1.02h-1.04zM46 16h1.04v1.02h-1.04zM53 16h1.04v1.02h-1.04zM57 16h1.04v1.02h-1.04zM83 16h1.04v1.02h-1.04zM22 17h1.04v1.02h-1.04zM24 17h1.04v1.02h-1.04zM41 17h1.04v1.02h-1.04zM19 18h1.04v1.02h-1.04zM29 18h1.04v1.02h-1.04zM33 18h1.04v1.02h-1.04zM57 18h1.04v1.02h-1.04zM60 18h1.04v1.02h-1.04zM79 18h2.04v1.02h-2.04zM10 19h1.04v1.02h-1.04zM28 19h1.04v1.02h-1.04zM30 19h1.04v1.02h-1.04zM39 19h1.04v1.02h-1.04zM47 19h1.04v1.02h-1.04zM64 19h1.04v1.02h-1.04zM0 20h1.04v1.02h-1.04zM9 20h1.04v1.02h-1.04zM15 20h1.04v1.02h-1.04zM31 20h1.04v1.02h-1.04zM35 20h1.04v1.02h-1.04zM62 20h2.04v1.02h-2.04zM0 21h1.04v1.02h-1.04zM22 21h1.04v1.02h-1.04zM80 21h1.04v1.02h-1.04zM1 22h1.04v1.02h-1.04zM15 22h2.04v1.02h-2.04zM27 22h1.04v1.02h-1.04zM30 22h1.04v1.02h-1.04zM33 22h2.04v1.02h-2.04zM5 23h1.04v1.02h-1.04zM25 23h1.04v1.02h-1.04zM28 23h1.04v1.02h-1.04zM32 23h1.04v1.02h-1.04zM42 23h1.04v1.02h-1.04zM46 23h1.04v1.02h-1.04zM57 23h1.04v1.02h-1.04zM78 23h1.04v1.02h-1.04zM10 24h1.04v1.02h-1.04zM19 24h1.04v1.02h-1.04zM22 24h3.04v1.02h-3.04zM31 24h2.04v1.02h-2.04zM42 24h1.04v1.02h-1.04zM87 24h1.04v1.02h-1.04zM3 25h1.04v1.02h-1.04zM13 25h3.04v1.02h-3.04zM18 25h1.04v1.02h-1.04zM28 25h1.04v1.02h-1.04zM41 25h1.04v1.02h-1.04zM1 26h1.04v1.02h-1.04zM6 26h2.04v1.02h-2.04zM13 26h1.04v1.02h-1.04zM18 26h1.04v1.02h-1.04zM20 26h1.04v1.02h-1.04zM33 26h1.04v1.02h-1.04zM46 26h1.04v1.02h-1.04zM50 26h1.04v1.02h-1.04zM61 26h3.04v1.02h-3.04zM66 26h1.04v1.02h-1.04zM81 26h1.04v1.02h-1.04zM90 26h1.04v1.02h-1.04zM89 27h2.04v1.02h-2.04zM92 27h1.04v1.02h-1.04zM91 28h1.04v1.02h-1.04z"/>
</g></g>
<text x="589.5" y="1405.8" font-size="10.5">Mast_cells</text>
<text x="589.5" y="1419.3" font-size="10.5">DCs</text>
<text x="589.5" y="1432.9" font-size="10.5">B_cells</text>
<text x="589.5" y="1446.4" font-size="10.5">T_cell_co−stimulation</text>
<text x="589.5" y="1460" font-size="10.5">TIL</text>
<text x="589.5" y="1473.5" font-size="10.5">Th1_cells</text>
<text x="589.5" y="1487.1" font-size="10.5">Check−point</text>
<text x="589.5" y="1500.6" font-size="10.5">T_cell_co−inhibition</text>
<text x="589.5" y="1514.2" font-size="10.5">MHC_class_I</text>
<text x="589.5" y="1527.7" font-size="10.5">Parainflammation</text>
<text x="589.5" y="1541.3" font-size="10.5">Type_I_IFN_Reponse</text>
<text x="589.5" y="1554.8" font-size="10.5">APC_co_inhibition</text>
<text x="589.5" y="1568.4" font-size="10.5">APC_co_stimulation</text>
<text x="589.5" y="1581.9" font-size="10.5">HLA</text>
<text x="589.5" y="1595.5" font-size="10.5">CCR</text>
<text x="589.5" y="1609" font-size="10.5">Treg</text>
<text x="589.5" y="1622.6" font-size="10.5">Macrophages</text>
<text x="589.5" y="1636.1" font-size="10.5">Neutrophils</text>
<text x="589.5" y="1649.7" font-size="10.5">T_helper_cells</text>
<text x="589.5" y="1663.2" font-size="10.5">aDCs</text>
<text x="589.5" y="1676.8" font-size="10.5">Tfh</text>
<text x="589.5" y="1690.3" font-size="10.5">Cytolytic_activity</text>
<text x="589.5" y="1703.9" font-size="10.5">Inflammation−promoting</text>
<text x="589.5" y="1717.4" font-size="10.5">CD8+_T_cells</text>
<text x="589.5" y="1731" font-size="10.5">pDCs</text>
<text x="589.5" y="1744.5" font-size="10.5">Th2_cells</text>
<text x="589.5" y="1758.1" font-size="10.5">Type_II_IFN_Reponse</text>
<text x="589.5" y="1771.6" font-size="10.5">iDCs</text>
<text x="589.5" y="1785.2" font-size="10.5">NK_cells</text>
<path d="M73 1442.6H54.4V1456.2H73M73 1483.3H56.8V1496.8H73M73 1469.7H50.5V1490.1H56.8M54.4 1449.4H48.2V1479.9H50.5M73 1429.1H37.1V1464.6H48.2M73 1415.5H26.6V1446.9H37.1M73 1523.9H46.3V1537.5H73M73 1510.4H35.9V1530.7H46.3M73 1591.7H52.1V1605.2H73M73 1578.1H42.9V1598.5H52.1M73 1564.6H37.5V1588.3H42.9M73 1551H31.3V1576.4H37.5M35.9 1520.5H29V1563.7H31.3M73 1632.3H38.9V1645.9H73M73 1618.8H33.6V1639.1H38.9M73 1686.5H52.8V1700.1H73M73 1713.6H47.5V1727.2H73M52.8 1693.3H45.9V1720.4H47.5M73 1673H34.1V1706.9H45.9M73 1659.4H30.1V1689.9H34.1M33.6 1628.9H27.8V1674.7H30.1M29 1542.1H22.7V1651.8H27.8M26.6 1431.2H18.5V1597H22.7M73 1402H12V1514.1H18.5M73 1740.7H15.1V1754.3H73M73 1767.8H11.6V1781.4H73M15.1 1747.5H5.8V1774.6H11.6M12 1458H3.5V1761H5.8" fill="none" stroke="#1c1c1c" stroke-width="1.25"/>
<defs><linearGradient id="eg" x1="0" y1="0" x2="0" y2="1">
<stop offset="0" stop-color="#db0000"/>
<stop offset="0.35" stop-color="#db0000"/>
<stop offset="0.495" stop-color="#ffffff"/>
<stop offset="0.655" stop-color="#0000ff"/>
<stop offset="1" stop-color="#0000ff"/>
</linearGradient></defs>
<rect x="711.9" y="1326.8" width="13.1" height="197.7" fill="url(#eg)"/>
<text x="730" y="1356.6" font-size="10.5">4</text>
<text x="730" y="1392.9" font-size="10.5">2</text>
<text x="730" y="1429.2" font-size="10.5">0</text>
<text x="730" y="1465.5" font-size="10.5">−2</text>
<text x="730" y="1501.8" font-size="10.5">−4</text>
<text x="743.7" y="1334.5" font-weight="bold" font-size="10.5">TumorPurity</text>
<rect x="743.7" y="1338.1" width="15" height="15.2" fill="#65a35c"/>
<rect x="743.7" y="1353.2" width="15" height="15.2" fill="#8fc57f"/>
<rect x="743.7" y="1368.3" width="15" height="15.2" fill="#c7e4b9"/>
<rect x="743.7" y="1383.4" width="15" height="15.2" fill="#eff7e9"/>
<text x="761.7" y="1349.5" font-size="10.5">0.9</text>
<text x="761.7" y="1394.8" font-size="10.5">0.3</text>
<text x="743.7" y="1417.8" font-weight="bold" font-size="10.5">ESTIMATEScore</text>
<rect x="743.7" y="1421.4" width="15" height="15.2" fill="#6a9fc8"/>
<rect x="743.7" y="1436.5" width="15" height="15.2" fill="#95c8be"/>
<rect x="743.7" y="1451.6" width="15" height="15.2" fill="#c7e4b9"/>
<rect x="743.7" y="1466.7" width="15" height="15.2" fill="#eff7e9"/>
<text x="761.7" y="1432.8" font-size="10.5">4000</text>
<text x="761.7" y="1478.1" font-size="10.5">−1000</text>
<text x="743.7" y="1501.2" font-weight="bold" font-size="10.5">ImmuneScore</text>
<rect x="743.7" y="1504.8" width="15" height="15.2" fill="#7d55a5"/>
<rect x="743.7" y="1519.9" width="15" height="15.2" fill="#8c8fc0"/>
<rect x="743.7" y="1535" width="15" height="15.2" fill="#b7cbe2"/>
<rect x="743.7" y="1550.1" width="15" height="15.2" fill="#e9f2f6"/>
<text x="761.7" y="1516.2" font-size="10.5">3000</text>
<text x="761.7" y="1561.5" font-size="10.5">0</text>
<text x="743.7" y="1584.4" font-weight="bold" font-size="10.5">StromalScore</text>
<rect x="743.7" y="1588" width="15" height="15.2" fill="#64a565"/>
<rect x="743.7" y="1603.1" width="15" height="15.2" fill="#86c0a0"/>
<rect x="743.7" y="1618.2" width="15" height="15.2" fill="#b9dfdb"/>
<rect x="743.7" y="1633.3" width="15" height="15.2" fill="#eef7f8"/>
<text x="761.7" y="1599.4" font-size="10.5">1500</text>
<text x="761.7" y="1644.7" font-size="10.5">−1000</text>
<text x="743.7" y="1667.4" font-weight="bold" font-size="10.5">Subtype</text>
<rect x="743.7" y="1671.2" width="15" height="15.1" fill="#0000ff"/>
<rect x="743.7" y="1686.3" width="15" height="15.1" fill="#db0000"/>
<text x="761.7" y="1682.6" font-size="10.5">Immunity_L</text>
<text x="761.7" y="1697.7" font-size="10.5">Immunity_H</text>
<text x="931" y="1309.8" font-weight="bold" class="sf" font-size="34.5">F</text>
<defs><filter id="fb" x="-2%" y="-2%" width="104%" height="104%"><feGaussianBlur stdDeviation="0.45"/></filter></defs>
<g filter="url(#fb)"><g transform="translate(998.9,1326) scale(4.4151,10.8)">
<path fill="#a2cf92" d="M0 0h1.04v1h-1.04zM3 0h2.04v1h-2.04zM12 0h1.04v1h-1.04zM14 0h1.04v1h-1.04zM19 0h2.04v1h-2.04zM24 0h1.04v1h-1.04zM68 0h1.04v1h-1.04zM83 0h1.04v1h-1.04zM93 0h1.04v1h-1.04zM103 0h1.04v1h-1.04zM105 0h2.04v1h-2.04zM110 0h4.04v1h-4.04z"/>
<path fill="#81ba73" d="M1 0h1.04v1h-1.04zM6 0h2.04v1h-2.04zM9 0h2.04v1h-2.04zM17 0h1.04v1h-1.04zM25 0h2.04v1h-2.04zM28 0h2.04v1h-2.04zM34 0h1.04v1h-1.04zM36 0h1.04v1h-1.04zM42 0h2.04v1h-2.04zM51 0h1.04v1h-1.04zM55 0h1.04v1h-1.04zM97 0h2.04v1h-2.04zM100 0h1.04v1h-1.04zM104 0h1.04v1h-1.04z"/>
<path fill="#73ae68" d="M2 0h1.04v1h-1.04zM11 0h1.04v1h-1.04zM16 0h1.04v1h-1.04zM23 0h1.04v1h-1.04zM38 0h2.04v1h-2.04zM45 0h2.04v1h-2.04zM49 0h1.04v1h-1.04zM53 0h2.04v1h-2.04zM56 0h4.04v1h-4.04zM65 0h2.04v1h-2.04zM70 0h1.04v1h-1.04zM73 0h1.04v1h-1.04z"/>
<path fill="#8fc57f" d="M5 0h1.04v1h-1.04zM15 0h1.04v1h-1.04zM18 0h1.04v1h-1.04zM32 0h1.04v1h-1.04zM47 0h1.04v1h-1.04zM60 0h4.04v1h-4.04zM71 0h2.04v1h-2.04zM78 0h1.04v1h-1.04zM80 0h1.04v1h-1.04zM82 0h1.04v1h-1.04zM84 0h1.04v1h-1.04zM96 0h1.04v1h-1.04zM99 0h1.04v1h-1.04z"/>
<path fill="#65a35c" d="M8 0h1.04v1h-1.04zM21 0h1.04v1h-1.04zM33 0h1.04v1h-1.04zM37 0h1.04v1h-1.04zM44 0h1.04v1h-1.04zM48 0h1.04v1h-1.04zM50 0h1.04v1h-1.04zM52 0h1.04v1h-1.04zM64 0h1.04v1h-1.04zM67 0h1.04v1h-1.04zM69 0h1.04v1h-1.04z"/>
<path fill="#b4daa6" d="M13 0h1.04v1h-1.04zM22 0h1.04v1h-1.04zM27 0h1.04v1h-1.04zM30 0h1.04v1h-1.04zM35 0h1.04v1h-1.04zM40 0h2.04v1h-2.04zM74 0h2.04v1h-2.04zM77 0h1.04v1h-1.04zM90 0h1.04v1h-1.04zM92 0h1.04v1h-1.04zM102 0h1.04v1h-1.04zM108 0h1.04v1h-1.04zM115 0h1.04v1h-1.04z"/>
<path fill="#c7e4b9" d="M31 0h1.04v1h-1.04zM76 0h1.04v1h-1.04zM86 0h2.04v1h-2.04zM91 0h1.04v1h-1.04zM94 0h2.04v1h-2.04zM109 0h1.04v1h-1.04z"/>
<path fill="#d4eac9" d="M79 0h1.04v1h-1.04zM85 0h1.04v1h-1.04zM88 0h2.04v1h-2.04zM101 0h1.04v1h-1.04z"/>
<path fill="#eff7e9" d="M81 0h1.04v1h-1.04zM107 0h1.04v1h-1.04z"/>
<path fill="#e2f1d9" d="M114 0h1.04v1h-1.04z"/>
</g></g>
<text x="1515.3" y="1335.2" font-weight="bold" font-size="10.5">TumorPurity</text>
<g filter="url(#fb)"><g transform="translate(998.9,1339.1) scale(4.4151,10.8)">
<path fill="#a6d1bc" d="M0 0h1.04v1h-1.04zM3 0h3.04v1h-3.04zM9 0h1.04v1h-1.04zM12 0h1.04v1h-1.04zM14 0h2.04v1h-2.04zM18 0h1.04v1h-1.04zM20 0h1.04v1h-1.04zM22 0h1.04v1h-1.04zM24 0h1.04v1h-1.04zM32 0h1.04v1h-1.04zM47 0h1.04v1h-1.04zM60 0h1.04v1h-1.04zM68 0h1.04v1h-1.04zM78 0h1.04v1h-1.04zM80 0h1.04v1h-1.04zM82 0h1.04v1h-1.04zM84 0h1.04v1h-1.04zM96 0h1.04v1h-1.04zM99 0h1.04v1h-1.04zM110 0h1.04v1h-1.04z"/>
<path fill="#b6dbbb" d="M1 0h1.04v1h-1.04zM6 0h2.04v1h-2.04zM10 0h1.04v1h-1.04zM17 0h1.04v1h-1.04zM25 0h2.04v1h-2.04zM28 0h2.04v1h-2.04zM36 0h1.04v1h-1.04zM42 0h2.04v1h-2.04zM51 0h1.04v1h-1.04zM55 0h1.04v1h-1.04zM61 0h3.04v1h-3.04zM71 0h2.04v1h-2.04zM97 0h2.04v1h-2.04zM100 0h1.04v1h-1.04zM104 0h1.04v1h-1.04z"/>
<path fill="#c7e4b9" d="M2 0h1.04v1h-1.04zM11 0h1.04v1h-1.04zM16 0h1.04v1h-1.04zM34 0h1.04v1h-1.04zM38 0h1.04v1h-1.04zM45 0h2.04v1h-2.04zM53 0h1.04v1h-1.04zM56 0h3.04v1h-3.04zM73 0h1.04v1h-1.04z"/>
<path fill="#e2f1d9" d="M8 0h1.04v1h-1.04zM21 0h1.04v1h-1.04zM33 0h1.04v1h-1.04zM37 0h1.04v1h-1.04zM44 0h1.04v1h-1.04zM50 0h1.04v1h-1.04zM52 0h1.04v1h-1.04zM64 0h1.04v1h-1.04zM67 0h1.04v1h-1.04zM69 0h1.04v1h-1.04z"/>
<path fill="#95c8be" d="M13 0h1.04v1h-1.04zM19 0h1.04v1h-1.04zM27 0h1.04v1h-1.04zM30 0h1.04v1h-1.04zM35 0h1.04v1h-1.04zM40 0h2.04v1h-2.04zM74 0h2.04v1h-2.04zM77 0h1.04v1h-1.04zM83 0h1.04v1h-1.04zM90 0h1.04v1h-1.04zM92 0h2.04v1h-2.04zM102 0h2.04v1h-2.04zM105 0h2.04v1h-2.04zM111 0h3.04v1h-3.04zM115 0h1.04v1h-1.04z"/>
<path fill="#d4eac9" d="M23 0h1.04v1h-1.04zM39 0h1.04v1h-1.04zM49 0h1.04v1h-1.04zM54 0h1.04v1h-1.04zM59 0h1.04v1h-1.04zM65 0h2.04v1h-2.04zM70 0h1.04v1h-1.04z"/>
<path fill="#87bac1" d="M31 0h1.04v1h-1.04zM76 0h1.04v1h-1.04zM86 0h2.04v1h-2.04zM94 0h1.04v1h-1.04zM108 0h1.04v1h-1.04z"/>
<path fill="#eff7e9" d="M48 0h1.04v1h-1.04z"/>
<path fill="#78adc5" d="M79 0h1.04v1h-1.04zM85 0h1.04v1h-1.04zM88 0h2.04v1h-2.04zM91 0h1.04v1h-1.04zM95 0h1.04v1h-1.04zM101 0h1.04v1h-1.04zM109 0h1.04v1h-1.04zM114 0h1.04v1h-1.04z"/>
<path fill="#6a9fc8" d="M81 0h1.04v1h-1.04zM107 0h1.04v1h-1.04z"/>
</g></g>
<text x="1515.3" y="1348.3" font-weight="bold" font-size="10.5">ESTIMATEScore</text>
<g filter="url(#fb)"><g transform="translate(998.9,1352.2) scale(4.4151,10.8)">
<path fill="#9aa3cb" d="M0 0h1.04v1h-1.04zM3 0h2.04v1h-2.04zM7 0h1.04v1h-1.04zM12 0h1.04v1h-1.04zM22 0h1.04v1h-1.04zM32 0h1.04v1h-1.04zM35 0h1.04v1h-1.04zM38 0h1.04v1h-1.04zM55 0h1.04v1h-1.04zM60 0h2.04v1h-2.04zM68 0h1.04v1h-1.04zM72 0h1.04v1h-1.04zM93 0h1.04v1h-1.04zM99 0h1.04v1h-1.04z"/>
<path fill="#a9b7d7" d="M1 0h1.04v1h-1.04zM5 0h2.04v1h-2.04zM9 0h1.04v1h-1.04zM14 0h1.04v1h-1.04zM18 0h1.04v1h-1.04zM20 0h1.04v1h-1.04zM26 0h1.04v1h-1.04zM28 0h1.04v1h-1.04zM34 0h1.04v1h-1.04zM36 0h1.04v1h-1.04zM43 0h1.04v1h-1.04zM53 0h2.04v1h-2.04zM62 0h2.04v1h-2.04zM65 0h2.04v1h-2.04zM71 0h1.04v1h-1.04zM104 0h1.04v1h-1.04z"/>
<path fill="#b7cbe2" d="M2 0h1.04v1h-1.04zM10 0h2.04v1h-2.04zM15 0h3.04v1h-3.04zM25 0h1.04v1h-1.04zM29 0h1.04v1h-1.04zM42 0h1.04v1h-1.04zM51 0h1.04v1h-1.04zM56 0h3.04v1h-3.04zM73 0h1.04v1h-1.04z"/>
<path fill="#d8e5ef" d="M8 0h1.04v1h-1.04zM21 0h1.04v1h-1.04zM33 0h1.04v1h-1.04zM37 0h1.04v1h-1.04zM44 0h1.04v1h-1.04zM52 0h1.04v1h-1.04zM64 0h1.04v1h-1.04zM69 0h1.04v1h-1.04z"/>
<path fill="#8c8fc0" d="M13 0h1.04v1h-1.04zM19 0h1.04v1h-1.04zM24 0h1.04v1h-1.04zM27 0h1.04v1h-1.04zM30 0h2.04v1h-2.04zM40 0h2.04v1h-2.04zM47 0h1.04v1h-1.04zM74 0h2.04v1h-2.04zM77 0h2.04v1h-2.04zM80 0h1.04v1h-1.04zM82 0h3.04v1h-3.04zM87 0h1.04v1h-1.04zM90 0h1.04v1h-1.04zM95 0h4.04v1h-4.04zM100 0h1.04v1h-1.04zM102 0h2.04v1h-2.04zM105 0h2.04v1h-2.04zM108 0h1.04v1h-1.04zM110 0h1.04v1h-1.04zM112 0h2.04v1h-2.04z"/>
<path fill="#c8d8e9" d="M23 0h1.04v1h-1.04zM39 0h1.04v1h-1.04zM45 0h2.04v1h-2.04zM49 0h2.04v1h-2.04zM70 0h1.04v1h-1.04z"/>
<path fill="#e9f2f6" d="M48 0h1.04v1h-1.04zM59 0h1.04v1h-1.04zM67 0h1.04v1h-1.04z"/>
<path fill="#877cb7" d="M76 0h1.04v1h-1.04zM86 0h1.04v1h-1.04zM88 0h2.04v1h-2.04zM91 0h2.04v1h-2.04zM94 0h1.04v1h-1.04zM111 0h1.04v1h-1.04z"/>
<path fill="#8268ae" d="M79 0h1.04v1h-1.04zM85 0h1.04v1h-1.04zM109 0h1.04v1h-1.04zM115 0h1.04v1h-1.04z"/>
<path fill="#7d55a5" d="M81 0h1.04v1h-1.04zM101 0h1.04v1h-1.04zM107 0h1.04v1h-1.04zM114 0h1.04v1h-1.04z"/>
</g></g>
<text x="1515.3" y="1361.4" font-weight="bold" font-size="10.5">ImmuneScore</text>
<g filter="url(#fb)"><g transform="translate(998.9,1365.4) scale(4.4151,10.8)">
<path fill="#86c0a0" d="M0 0h1.04v1h-1.04zM5 0h1.04v1h-1.04zM9 0h2.04v1h-2.04zM18 0h3.04v1h-3.04zM24 0h1.04v1h-1.04zM28 0h3.04v1h-3.04zM51 0h1.04v1h-1.04zM60 0h1.04v1h-1.04zM83 0h1.04v1h-1.04zM92 0h1.04v1h-1.04zM112 0h1.04v1h-1.04z"/>
<path fill="#a8d5c7" d="M1 0h2.04v1h-2.04zM6 0h2.04v1h-2.04zM16 0h1.04v1h-1.04zM58 0h1.04v1h-1.04zM61 0h1.04v1h-1.04zM78 0h1.04v1h-1.04zM96 0h1.04v1h-1.04zM110 0h1.04v1h-1.04zM113 0h1.04v1h-1.04z"/>
<path fill="#7bb78c" d="M3 0h2.04v1h-2.04zM12 0h1.04v1h-1.04zM14 0h2.04v1h-2.04zM27 0h1.04v1h-1.04zM40 0h1.04v1h-1.04zM74 0h1.04v1h-1.04zM77 0h1.04v1h-1.04zM85 0h3.04v1h-3.04zM90 0h1.04v1h-1.04zM93 0h2.04v1h-2.04zM108 0h2.04v1h-2.04zM114 0h1.04v1h-1.04z"/>
<path fill="#dcefee" d="M8 0h1.04v1h-1.04zM33 0h1.04v1h-1.04zM44 0h1.04v1h-1.04zM50 0h1.04v1h-1.04zM54 0h1.04v1h-1.04zM64 0h2.04v1h-2.04zM69 0h1.04v1h-1.04z"/>
<path fill="#cbe7e5" d="M11 0h1.04v1h-1.04zM23 0h1.04v1h-1.04zM37 0h3.04v1h-3.04zM49 0h1.04v1h-1.04zM53 0h1.04v1h-1.04zM57 0h1.04v1h-1.04zM66 0h2.04v1h-2.04zM70 0h1.04v1h-1.04zM97 0h2.04v1h-2.04zM100 0h1.04v1h-1.04z"/>
<path fill="#6fae79" d="M13 0h1.04v1h-1.04zM22 0h1.04v1h-1.04zM41 0h1.04v1h-1.04zM68 0h1.04v1h-1.04zM75 0h2.04v1h-2.04zM79 0h1.04v1h-1.04zM91 0h1.04v1h-1.04z"/>
<path fill="#97cab4" d="M17 0h1.04v1h-1.04zM25 0h2.04v1h-2.04zM32 0h1.04v1h-1.04zM36 0h1.04v1h-1.04zM42 0h1.04v1h-1.04zM47 0h1.04v1h-1.04zM59 0h1.04v1h-1.04zM62 0h2.04v1h-2.04zM71 0h2.04v1h-2.04zM99 0h1.04v1h-1.04zM101 0h2.04v1h-2.04zM105 0h2.04v1h-2.04zM111 0h1.04v1h-1.04zM115 0h1.04v1h-1.04z"/>
<path fill="#eef7f8" d="M21 0h1.04v1h-1.04zM48 0h1.04v1h-1.04zM52 0h1.04v1h-1.04z"/>
<path fill="#64a565" d="M31 0h1.04v1h-1.04zM35 0h1.04v1h-1.04zM81 0h1.04v1h-1.04zM88 0h2.04v1h-2.04zM95 0h1.04v1h-1.04zM107 0h1.04v1h-1.04z"/>
<path fill="#b9dfdb" d="M34 0h1.04v1h-1.04zM43 0h1.04v1h-1.04zM45 0h2.04v1h-2.04zM55 0h2.04v1h-2.04zM73 0h1.04v1h-1.04zM80 0h1.04v1h-1.04zM82 0h1.04v1h-1.04zM84 0h1.04v1h-1.04zM103 0h2.04v1h-2.04z"/>
</g></g>
<text x="1515.3" y="1374.6" font-weight="bold" font-size="10.5">StromalScore</text>
<rect x="998.9" y="1378.5" width="326.7" height="10.8" fill="#0000ff"/>
<rect x="1325.6" y="1378.5" width="185.4" height="10.8" fill="#db0000"/>
<text x="1515.3" y="1387.7" font-weight="bold" font-size="10.5">Subtype</text>
<g filter="url(#fb)"><g transform="translate(998.9,1392.9) scale(4.4151,13.55)">
<path fill="#0000ff" d="M8 0h1.04v1.02h-1.04zM11 0h1.04v1.02h-1.04zM15 0h1.04v1.02h-1.04zM33 0h1.04v1.02h-1.04zM42 0h1.04v1.02h-1.04zM46 0h1.04v1.02h-1.04zM51 0h1.04v1.02h-1.04zM67 0h1.04v1.02h-1.04zM45 1h2.04v1.02h-2.04zM56 1h1.04v1.02h-1.04zM67 1h1.04v1.02h-1.04zM78 1h1.04v1.02h-1.04zM97 1h1.04v1.02h-1.04zM105 1h1.04v1.02h-1.04zM5 2h1.04v1.02h-1.04zM37 2h1.04v1.02h-1.04zM75 2h2.04v1.02h-2.04zM78 2h2.04v1.02h-2.04zM84 2h1.04v1.02h-1.04zM96 2h2.04v1.02h-2.04zM103 2h1.04v1.02h-1.04zM105 2h1.04v1.02h-1.04zM0 3h1.04v1.02h-1.04zM11 3h1.04v1.02h-1.04zM23 3h1.04v1.02h-1.04zM39 3h1.04v1.02h-1.04zM50 3h1.04v1.02h-1.04zM54 3h1.04v1.02h-1.04zM59 3h1.04v1.02h-1.04zM69 3h1.04v1.02h-1.04zM3 4h1.04v1.02h-1.04zM8 4h1.04v1.02h-1.04zM37 4h1.04v1.02h-1.04zM39 4h1.04v1.02h-1.04zM46 4h1.04v1.02h-1.04zM48 4h1.04v1.02h-1.04zM59 4h1.04v1.02h-1.04zM8 5h1.04v1.02h-1.04zM21 5h1.04v1.02h-1.04zM39 5h1.04v1.02h-1.04zM44 5h1.04v1.02h-1.04zM46 5h1.04v1.02h-1.04zM48 5h3.04v1.02h-3.04zM59 5h1.04v1.02h-1.04zM63 5h2.04v1.02h-2.04zM67 5h1.04v1.02h-1.04zM8 6h1.04v1.02h-1.04zM37 6h1.04v1.02h-1.04zM48 6h2.04v1.02h-2.04zM59 6h1.04v1.02h-1.04zM64 6h1.04v1.02h-1.04zM67 6h1.04v1.02h-1.04zM69 6h1.04v1.02h-1.04zM8 7h1.04v1.02h-1.04zM33 7h1.04v1.02h-1.04zM37 7h1.04v1.02h-1.04zM39 7h1.04v1.02h-1.04zM48 7h1.04v1.02h-1.04zM50 7h1.04v1.02h-1.04zM52 7h1.04v1.02h-1.04zM59 7h1.04v1.02h-1.04zM64 7h1.04v1.02h-1.04zM67 7h1.04v1.02h-1.04zM8 8h1.04v1.02h-1.04zM11 8h1.04v1.02h-1.04zM44 8h1.04v1.02h-1.04zM48 8h1.04v1.02h-1.04zM52 8h1.04v1.02h-1.04zM59 8h1.04v1.02h-1.04zM64 8h1.04v1.02h-1.04zM67 8h1.04v1.02h-1.04zM8 9h1.04v1.02h-1.04zM16 9h2.04v1.02h-2.04zM33 9h1.04v1.02h-1.04zM37 9h1.04v1.02h-1.04zM44 9h1.04v1.02h-1.04zM49 9h1.04v1.02h-1.04zM52 9h1.04v1.02h-1.04zM59 9h1.04v1.02h-1.04zM67 9h1.04v1.02h-1.04zM69 9h1.04v1.02h-1.04zM71 9h1.04v1.02h-1.04zM26 10h1.04v1.02h-1.04zM39 10h1.04v1.02h-1.04zM44 10h1.04v1.02h-1.04zM46 10h1.04v1.02h-1.04zM50 10h1.04v1.02h-1.04zM56 10h1.04v1.02h-1.04zM59 10h1.04v1.02h-1.04zM67 10h1.04v1.02h-1.04zM69 10h2.04v1.02h-2.04zM8 11h1.04v1.02h-1.04zM33 11h1.04v1.02h-1.04zM37 11h1.04v1.02h-1.04zM39 11h1.04v1.02h-1.04zM44 11h2.04v1.02h-2.04zM48 11h1.04v1.02h-1.04zM50 11h1.04v1.02h-1.04zM52 11h1.04v1.02h-1.04zM56 11h1.04v1.02h-1.04zM59 11h1.04v1.02h-1.04zM64 11h1.04v1.02h-1.04zM67 11h1.04v1.02h-1.04zM69 11h2.04v1.02h-2.04zM8 12h1.04v1.02h-1.04zM33 12h1.04v1.02h-1.04zM39 12h1.04v1.02h-1.04zM44 12h1.04v1.02h-1.04zM46 12h1.04v1.02h-1.04zM48 12h1.04v1.02h-1.04zM50 12h1.04v1.02h-1.04zM52 12h1.04v1.02h-1.04zM56 12h2.04v1.02h-2.04zM59 12h1.04v1.02h-1.04zM64 12h1.04v1.02h-1.04zM67 12h1.04v1.02h-1.04zM69 12h2.04v1.02h-2.04zM7 13h2.04v1.02h-2.04zM21 13h1.04v1.02h-1.04zM23 13h1.04v1.02h-1.04zM33 13h2.04v1.02h-2.04zM39 13h1.04v1.02h-1.04zM45 13h2.04v1.02h-2.04zM48 13h1.04v1.02h-1.04zM52 13h1.04v1.02h-1.04zM56 13h1.04v1.02h-1.04zM58 13h2.04v1.02h-2.04zM64 13h1.04v1.02h-1.04zM69 13h1.04v1.02h-1.04zM8 14h1.04v1.02h-1.04zM33 14h1.04v1.02h-1.04zM37 14h1.04v1.02h-1.04zM46 14h1.04v1.02h-1.04zM48 14h1.04v1.02h-1.04zM57 14h1.04v1.02h-1.04zM59 14h1.04v1.02h-1.04zM64 14h1.04v1.02h-1.04zM67 14h1.04v1.02h-1.04zM69 14h1.04v1.02h-1.04zM8 15h1.04v1.02h-1.04zM37 15h1.04v1.02h-1.04zM39 15h1.04v1.02h-1.04zM44 15h1.04v1.02h-1.04zM46 15h1.04v1.02h-1.04zM48 15h1.04v1.02h-1.04zM59 15h1.04v1.02h-1.04zM64 15h1.04v1.02h-1.04zM67 15h1.04v1.02h-1.04zM69 15h1.04v1.02h-1.04zM8 16h1.04v1.02h-1.04zM21 16h1.04v1.02h-1.04zM33 16h1.04v1.02h-1.04zM37 16h1.04v1.02h-1.04zM39 16h1.04v1.02h-1.04zM44 16h1.04v1.02h-1.04zM46 16h1.04v1.02h-1.04zM48 16h1.04v1.02h-1.04zM59 16h1.04v1.02h-1.04zM64 16h1.04v1.02h-1.04zM67 16h1.04v1.02h-1.04zM69 16h1.04v1.02h-1.04zM2 17h1.04v1.02h-1.04zM9 17h1.04v1.02h-1.04zM46 17h1.04v1.02h-1.04zM48 17h1.04v1.02h-1.04zM50 17h1.04v1.02h-1.04zM56 17h1.04v1.02h-1.04zM59 17h1.04v1.02h-1.04zM67 17h1.04v1.02h-1.04zM5 18h1.04v1.02h-1.04zM11 18h1.04v1.02h-1.04zM29 18h1.04v1.02h-1.04zM48 18h1.04v1.02h-1.04zM52 18h1.04v1.02h-1.04zM61 18h2.04v1.02h-2.04zM64 18h1.04v1.02h-1.04zM67 18h1.04v1.02h-1.04zM69 18h1.04v1.02h-1.04zM14 19h1.04v1.02h-1.04zM16 19h2.04v1.02h-2.04zM25 19h1.04v1.02h-1.04zM33 19h1.04v1.02h-1.04zM37 19h1.04v1.02h-1.04zM50 19h1.04v1.02h-1.04zM56 19h1.04v1.02h-1.04zM67 19h1.04v1.02h-1.04zM69 19h1.04v1.02h-1.04zM97 19h1.04v1.02h-1.04zM8 20h1.04v1.02h-1.04zM11 20h1.04v1.02h-1.04zM33 20h1.04v1.02h-1.04zM38 20h2.04v1.02h-2.04zM43 20h1.04v1.02h-1.04zM48 20h2.04v1.02h-2.04zM53 20h1.04v1.02h-1.04zM64 20h1.04v1.02h-1.04zM67 20h1.04v1.02h-1.04zM73 20h1.04v1.02h-1.04zM11 21h1.04v1.02h-1.04zM19 21h1.04v1.02h-1.04zM23 21h1.04v1.02h-1.04zM29 21h1.04v1.02h-1.04zM38 21h1.04v1.02h-1.04zM43 21h1.04v1.02h-1.04zM45 21h1.04v1.02h-1.04zM48 21h1.04v1.02h-1.04zM56 21h1.04v1.02h-1.04zM8 22h1.04v1.02h-1.04zM11 22h1.04v1.02h-1.04zM32 22h1.04v1.02h-1.04zM38 22h1.04v1.02h-1.04zM48 22h1.04v1.02h-1.04zM56 22h1.04v1.02h-1.04zM59 22h1.04v1.02h-1.04zM64 22h1.04v1.02h-1.04zM67 22h1.04v1.02h-1.04zM69 22h1.04v1.02h-1.04zM8 23h1.04v1.02h-1.04zM15 23h1.04v1.02h-1.04zM24 23h1.04v1.02h-1.04zM29 23h1.04v1.02h-1.04zM35 23h1.04v1.02h-1.04zM45 23h1.04v1.02h-1.04zM89 23h1.04v1.02h-1.04zM91 23h1.04v1.02h-1.04zM15 24h1.04v1.02h-1.04zM20 24h1.04v1.02h-1.04zM42 24h1.04v1.02h-1.04zM46 24h1.04v1.02h-1.04zM48 24h1.04v1.02h-1.04zM61 24h1.04v1.02h-1.04zM64 24h1.04v1.02h-1.04zM67 24h1.04v1.02h-1.04zM69 24h3.04v1.02h-3.04zM17 25h1.04v1.02h-1.04zM20 25h2.04v1.02h-2.04zM33 25h1.04v1.02h-1.04zM36 25h1.04v1.02h-1.04zM42 25h1.04v1.02h-1.04zM46 25h1.04v1.02h-1.04zM48 25h1.04v1.02h-1.04zM59 25h1.04v1.02h-1.04zM64 25h1.04v1.02h-1.04zM0 26h4.04v1.02h-4.04zM9 26h1.04v1.02h-1.04zM15 26h1.04v1.02h-1.04zM25 26h1.04v1.02h-1.04zM45 26h2.04v1.02h-2.04zM56 26h1.04v1.02h-1.04zM69 26h1.04v1.02h-1.04zM75 26h1.04v1.02h-1.04zM77 26h1.04v1.02h-1.04zM4 27h1.04v1.02h-1.04zM8 27h1.04v1.02h-1.04zM15 27h2.04v1.02h-2.04zM26 27h1.04v1.02h-1.04zM36 27h2.04v1.02h-2.04zM39 27h1.04v1.02h-1.04zM46 27h1.04v1.02h-1.04zM50 27h1.04v1.02h-1.04zM69 27h1.04v1.02h-1.04zM3 28h1.04v1.02h-1.04zM9 28h1.04v1.02h-1.04zM11 28h1.04v1.02h-1.04zM15 28h1.04v1.02h-1.04zM17 28h1.04v1.02h-1.04zM19 28h1.04v1.02h-1.04zM23 28h1.04v1.02h-1.04zM25 28h1.04v1.02h-1.04zM37 28h1.04v1.02h-1.04zM69 28h1.04v1.02h-1.04zM86 28h1.04v1.02h-1.04z"/>
<path fill="#3d3df9" d="M49 0h2.04v1.02h-2.04zM52 0h1.04v1.02h-1.04zM70 0h1.04v1.02h-1.04zM76 0h1.04v1.02h-1.04zM97 0h1.04v1.02h-1.04zM104 0h1.04v1.02h-1.04zM0 1h1.04v1.02h-1.04zM6 1h1.04v1.02h-1.04zM25 1h1.04v1.02h-1.04zM41 1h1.04v1.02h-1.04zM48 1h1.04v1.02h-1.04zM57 1h1.04v1.02h-1.04zM71 1h1.04v1.02h-1.04zM83 1h1.04v1.02h-1.04zM99 1h1.04v1.02h-1.04zM3 2h2.04v1.02h-2.04zM6 2h1.04v1.02h-1.04zM9 2h1.04v1.02h-1.04zM42 2h1.04v1.02h-1.04zM51 2h1.04v1.02h-1.04zM86 2h1.04v1.02h-1.04zM106 2h1.04v1.02h-1.04zM2 3h2.04v1.02h-2.04zM8 3h1.04v1.02h-1.04zM15 3h2.04v1.02h-2.04zM18 3h1.04v1.02h-1.04zM29 3h1.04v1.02h-1.04zM37 3h1.04v1.02h-1.04zM45 3h1.04v1.02h-1.04zM48 3h1.04v1.02h-1.04zM52 3h1.04v1.02h-1.04zM0 4h1.04v1.02h-1.04zM20 4h1.04v1.02h-1.04zM23 4h4.04v1.02h-4.04zM30 4h1.04v1.02h-1.04zM42 4h1.04v1.02h-1.04zM44 4h1.04v1.02h-1.04zM69 4h1.04v1.02h-1.04zM6 5h1.04v1.02h-1.04zM9 5h3.04v1.02h-3.04zM17 5h1.04v1.02h-1.04zM19 5h1.04v1.02h-1.04zM25 5h1.04v1.02h-1.04zM37 5h1.04v1.02h-1.04zM52 5h1.04v1.02h-1.04zM56 5h2.04v1.02h-2.04zM69 5h1.04v1.02h-1.04zM3 6h1.04v1.02h-1.04zM10 6h2.04v1.02h-2.04zM15 6h1.04v1.02h-1.04zM20 6h2.04v1.02h-2.04zM23 6h1.04v1.02h-1.04zM33 6h1.04v1.02h-1.04zM39 6h1.04v1.02h-1.04zM44 6h1.04v1.02h-1.04zM46 6h1.04v1.02h-1.04zM50 6h1.04v1.02h-1.04zM52 6h1.04v1.02h-1.04zM56 6h1.04v1.02h-1.04zM11 7h1.04v1.02h-1.04zM21 7h1.04v1.02h-1.04zM23 7h1.04v1.02h-1.04zM36 7h1.04v1.02h-1.04zM44 7h3.04v1.02h-3.04zM49 7h1.04v1.02h-1.04zM56 7h2.04v1.02h-2.04zM69 7h2.04v1.02h-2.04zM73 7h1.04v1.02h-1.04zM17 8h1.04v1.02h-1.04zM21 8h1.04v1.02h-1.04zM23 8h1.04v1.02h-1.04zM36 8h4.04v1.02h-4.04zM42 8h1.04v1.02h-1.04zM46 8h1.04v1.02h-1.04zM49 8h2.04v1.02h-2.04zM57 8h1.04v1.02h-1.04zM73 8h1.04v1.02h-1.04zM21 9h1.04v1.02h-1.04zM23 9h1.04v1.02h-1.04zM45 9h1.04v1.02h-1.04zM50 9h1.04v1.02h-1.04zM54 9h1.04v1.02h-1.04zM56 9h1.04v1.02h-1.04zM11 10h1.04v1.02h-1.04zM21 10h1.04v1.02h-1.04zM23 10h1.04v1.02h-1.04zM36 10h3.04v1.02h-3.04zM45 10h1.04v1.02h-1.04zM48 10h1.04v1.02h-1.04zM51 10h3.04v1.02h-3.04zM57 10h2.04v1.02h-2.04zM2 11h1.04v1.02h-1.04zM11 11h1.04v1.02h-1.04zM23 11h1.04v1.02h-1.04zM36 11h1.04v1.02h-1.04zM46 11h1.04v1.02h-1.04zM49 11h1.04v1.02h-1.04zM53 11h1.04v1.02h-1.04zM73 11h1.04v1.02h-1.04zM3 12h1.04v1.02h-1.04zM11 12h1.04v1.02h-1.04zM26 12h1.04v1.02h-1.04zM36 12h2.04v1.02h-2.04zM49 12h1.04v1.02h-1.04zM51 12h1.04v1.02h-1.04zM73 12h1.04v1.02h-1.04zM6 13h1.04v1.02h-1.04zM44 13h1.04v1.02h-1.04zM49 13h2.04v1.02h-2.04zM57 13h1.04v1.02h-1.04zM67 13h1.04v1.02h-1.04zM70 13h1.04v1.02h-1.04zM73 13h1.04v1.02h-1.04zM2 14h1.04v1.02h-1.04zM21 14h1.04v1.02h-1.04zM23 14h1.04v1.02h-1.04zM29 14h1.04v1.02h-1.04zM39 14h1.04v1.02h-1.04zM44 14h2.04v1.02h-2.04zM50 14h1.04v1.02h-1.04zM73 14h1.04v1.02h-1.04zM21 15h1.04v1.02h-1.04zM33 15h1.04v1.02h-1.04zM45 15h1.04v1.02h-1.04zM50 15h3.04v1.02h-3.04zM56 15h2.04v1.02h-2.04zM70 15h1.04v1.02h-1.04zM10 16h1.04v1.02h-1.04zM23 16h1.04v1.02h-1.04zM29 16h1.04v1.02h-1.04zM45 16h1.04v1.02h-1.04zM49 16h4.04v1.02h-4.04zM17 17h1.04v1.02h-1.04zM39 17h1.04v1.02h-1.04zM58 17h1.04v1.02h-1.04zM60 17h1.04v1.02h-1.04zM62 17h2.04v1.02h-2.04zM66 17h1.04v1.02h-1.04zM69 17h3.04v1.02h-3.04zM108 17h1.04v1.02h-1.04zM26 18h1.04v1.02h-1.04zM28 18h1.04v1.02h-1.04zM32 18h1.04v1.02h-1.04zM34 18h1.04v1.02h-1.04zM50 18h1.04v1.02h-1.04zM58 18h3.04v1.02h-3.04zM65 18h2.04v1.02h-2.04zM2 19h1.04v1.02h-1.04zM8 19h1.04v1.02h-1.04zM11 19h1.04v1.02h-1.04zM21 19h1.04v1.02h-1.04zM36 19h1.04v1.02h-1.04zM44 19h2.04v1.02h-2.04zM48 19h1.04v1.02h-1.04zM59 19h1.04v1.02h-1.04zM70 19h1.04v1.02h-1.04zM85 19h1.04v1.02h-1.04zM98 19h2.04v1.02h-2.04zM1 20h1.04v1.02h-1.04zM21 20h1.04v1.02h-1.04zM44 20h2.04v1.02h-2.04zM50 20h1.04v1.02h-1.04zM52 20h1.04v1.02h-1.04zM55 20h1.04v1.02h-1.04zM59 20h1.04v1.02h-1.04zM65 20h1.04v1.02h-1.04zM69 20h2.04v1.02h-2.04zM86 20h1.04v1.02h-1.04zM97 20h2.04v1.02h-2.04zM8 21h1.04v1.02h-1.04zM15 21h1.04v1.02h-1.04zM26 21h2.04v1.02h-2.04zM55 21h1.04v1.02h-1.04zM59 21h1.04v1.02h-1.04zM64 21h1.04v1.02h-1.04zM69 21h1.04v1.02h-1.04zM89 21h1.04v1.02h-1.04zM21 22h3.04v1.02h-3.04zM37 22h1.04v1.02h-1.04zM49 22h2.04v1.02h-2.04zM3 23h1.04v1.02h-1.04zM28 23h1.04v1.02h-1.04zM37 23h1.04v1.02h-1.04zM44 23h1.04v1.02h-1.04zM46 23h1.04v1.02h-1.04zM48 23h1.04v1.02h-1.04zM51 23h1.04v1.02h-1.04zM78 23h1.04v1.02h-1.04zM94 23h2.04v1.02h-2.04zM97 23h1.04v1.02h-1.04zM1 24h1.04v1.02h-1.04zM8 24h3.04v1.02h-3.04zM33 24h1.04v1.02h-1.04zM39 24h1.04v1.02h-1.04zM44 24h1.04v1.02h-1.04zM50 24h3.04v1.02h-3.04zM59 24h1.04v1.02h-1.04zM5 25h1.04v1.02h-1.04zM8 25h2.04v1.02h-2.04zM16 25h1.04v1.02h-1.04zM23 25h1.04v1.02h-1.04zM39 25h1.04v1.02h-1.04zM44 25h2.04v1.02h-2.04zM50 25h2.04v1.02h-2.04zM56 25h1.04v1.02h-1.04zM69 25h1.04v1.02h-1.04zM95 25h1.04v1.02h-1.04zM7 26h1.04v1.02h-1.04zM12 26h1.04v1.02h-1.04zM16 26h1.04v1.02h-1.04zM22 26h1.04v1.02h-1.04zM37 26h1.04v1.02h-1.04zM41 26h1.04v1.02h-1.04zM64 26h1.04v1.02h-1.04zM73 26h1.04v1.02h-1.04zM83 26h1.04v1.02h-1.04zM104 26h1.04v1.02h-1.04zM17 27h1.04v1.02h-1.04zM22 27h1.04v1.02h-1.04zM25 27h1.04v1.02h-1.04zM31 27h1.04v1.02h-1.04zM35 27h1.04v1.02h-1.04zM42 27h1.04v1.02h-1.04zM44 27h1.04v1.02h-1.04zM56 27h1.04v1.02h-1.04zM67 27h2.04v1.02h-2.04zM95 27h1.04v1.02h-1.04zM0 28h2.04v1.02h-2.04zM5 28h1.04v1.02h-1.04zM8 28h1.04v1.02h-1.04zM35 28h1.04v1.02h-1.04zM38 28h1.04v1.02h-1.04zM59 28h1.04v1.02h-1.04zM67 28h1.04v1.02h-1.04zM90 28h1.04v1.02h-1.04z"/>
<path fill="#7070f7" d="M1 0h3.04v1.02h-3.04zM16 0h1.04v1.02h-1.04zM29 0h1.04v1.02h-1.04zM37 0h1.04v1.02h-1.04zM41 0h1.04v1.02h-1.04zM59 0h1.04v1.02h-1.04zM61 0h1.04v1.02h-1.04zM65 0h1.04v1.02h-1.04zM1 1h1.04v1.02h-1.04zM50 1h1.04v1.02h-1.04zM52 1h1.04v1.02h-1.04zM65 1h1.04v1.02h-1.04zM69 1h1.04v1.02h-1.04zM85 1h1.04v1.02h-1.04zM98 1h1.04v1.02h-1.04zM2 2h1.04v1.02h-1.04zM56 2h1.04v1.02h-1.04zM61 2h1.04v1.02h-1.04zM69 2h1.04v1.02h-1.04zM100 2h1.04v1.02h-1.04zM7 3h1.04v1.02h-1.04zM19 3h1.04v1.02h-1.04zM21 3h1.04v1.02h-1.04zM46 3h1.04v1.02h-1.04zM56 3h1.04v1.02h-1.04zM64 3h1.04v1.02h-1.04zM67 3h1.04v1.02h-1.04zM73 3h1.04v1.02h-1.04zM9 4h1.04v1.02h-1.04zM15 4h1.04v1.02h-1.04zM21 4h1.04v1.02h-1.04zM35 4h1.04v1.02h-1.04zM45 4h1.04v1.02h-1.04zM49 4h1.04v1.02h-1.04zM57 4h2.04v1.02h-2.04zM63 4h2.04v1.02h-2.04zM67 4h1.04v1.02h-1.04zM2 5h1.04v1.02h-1.04zM14 5h1.04v1.02h-1.04zM26 5h1.04v1.02h-1.04zM29 5h2.04v1.02h-2.04zM45 5h1.04v1.02h-1.04zM68 5h1.04v1.02h-1.04zM6 6h1.04v1.02h-1.04zM17 6h1.04v1.02h-1.04zM25 6h2.04v1.02h-2.04zM29 6h1.04v1.02h-1.04zM36 6h1.04v1.02h-1.04zM41 6h2.04v1.02h-2.04zM57 6h1.04v1.02h-1.04zM26 7h1.04v1.02h-1.04zM29 7h1.04v1.02h-1.04zM2 8h1.04v1.02h-1.04zM15 8h1.04v1.02h-1.04zM29 8h1.04v1.02h-1.04zM33 8h1.04v1.02h-1.04zM45 8h1.04v1.02h-1.04zM56 8h1.04v1.02h-1.04zM58 8h1.04v1.02h-1.04zM69 8h2.04v1.02h-2.04zM15 9h1.04v1.02h-1.04zM28 9h2.04v1.02h-2.04zM39 9h1.04v1.02h-1.04zM41 9h1.04v1.02h-1.04zM43 9h1.04v1.02h-1.04zM46 9h1.04v1.02h-1.04zM73 9h1.04v1.02h-1.04zM2 10h1.04v1.02h-1.04zM33 10h1.04v1.02h-1.04zM16 11h1.04v1.02h-1.04zM54 11h1.04v1.02h-1.04zM57 11h2.04v1.02h-2.04zM21 12h1.04v1.02h-1.04zM5 13h1.04v1.02h-1.04zM11 13h1.04v1.02h-1.04zM53 13h1.04v1.02h-1.04zM16 14h1.04v1.02h-1.04zM25 14h1.04v1.02h-1.04zM49 14h1.04v1.02h-1.04zM52 14h1.04v1.02h-1.04zM56 14h1.04v1.02h-1.04zM70 14h1.04v1.02h-1.04zM15 15h2.04v1.02h-2.04zM23 15h1.04v1.02h-1.04zM26 15h1.04v1.02h-1.04zM49 15h1.04v1.02h-1.04zM73 15h1.04v1.02h-1.04zM16 16h2.04v1.02h-2.04zM42 16h1.04v1.02h-1.04zM56 16h2.04v1.02h-2.04zM70 16h2.04v1.02h-2.04zM57 17h1.04v1.02h-1.04zM68 17h1.04v1.02h-1.04zM73 17h1.04v1.02h-1.04zM1 18h1.04v1.02h-1.04zM8 18h1.04v1.02h-1.04zM16 18h1.04v1.02h-1.04zM23 18h1.04v1.02h-1.04zM27 18h1.04v1.02h-1.04zM35 18h1.04v1.02h-1.04zM51 18h1.04v1.02h-1.04zM3 19h1.04v1.02h-1.04zM6 19h2.04v1.02h-2.04zM23 19h1.04v1.02h-1.04zM28 19h2.04v1.02h-2.04zM34 19h1.04v1.02h-1.04zM40 19h1.04v1.02h-1.04zM51 19h2.04v1.02h-2.04zM64 19h1.04v1.02h-1.04zM73 19h1.04v1.02h-1.04zM82 19h1.04v1.02h-1.04zM23 20h1.04v1.02h-1.04zM32 20h1.04v1.02h-1.04zM54 20h1.04v1.02h-1.04zM56 20h1.04v1.02h-1.04zM7 21h1.04v1.02h-1.04zM21 21h1.04v1.02h-1.04zM44 21h1.04v1.02h-1.04zM50 21h1.04v1.02h-1.04zM53 21h1.04v1.02h-1.04zM58 21h1.04v1.02h-1.04zM90 21h1.04v1.02h-1.04zM112 21h2.04v1.02h-2.04zM7 22h1.04v1.02h-1.04zM9 22h1.04v1.02h-1.04zM19 22h1.04v1.02h-1.04zM29 22h1.04v1.02h-1.04zM36 22h1.04v1.02h-1.04zM40 22h1.04v1.02h-1.04zM45 22h1.04v1.02h-1.04zM54 22h1.04v1.02h-1.04zM90 22h1.04v1.02h-1.04zM6 23h1.04v1.02h-1.04zM13 23h1.04v1.02h-1.04zM39 23h1.04v1.02h-1.04zM42 23h1.04v1.02h-1.04zM71 23h2.04v1.02h-2.04zM16 24h1.04v1.02h-1.04zM21 24h1.04v1.02h-1.04zM56 24h2.04v1.02h-2.04zM73 24h1.04v1.02h-1.04zM78 24h1.04v1.02h-1.04zM25 25h2.04v1.02h-2.04zM28 25h2.04v1.02h-2.04zM37 25h1.04v1.02h-1.04zM41 25h1.04v1.02h-1.04zM49 25h1.04v1.02h-1.04zM36 26h1.04v1.02h-1.04zM44 26h1.04v1.02h-1.04zM67 26h1.04v1.02h-1.04zM80 26h1.04v1.02h-1.04zM90 26h1.04v1.02h-1.04zM10 27h2.04v1.02h-2.04zM28 27h2.04v1.02h-2.04zM83 27h1.04v1.02h-1.04zM4 28h1.04v1.02h-1.04zM16 28h1.04v1.02h-1.04zM21 28h2.04v1.02h-2.04z"/>
<path fill="#8f8ff7" d="M4 0h1.04v1.02h-1.04zM6 0h1.04v1.02h-1.04zM17 0h1.04v1.02h-1.04zM62 0h1.04v1.02h-1.04zM66 0h1.04v1.02h-1.04zM73 0h1.04v1.02h-1.04zM83 0h1.04v1.02h-1.04zM96 0h1.04v1.02h-1.04zM2 1h1.04v1.02h-1.04zM8 1h1.04v1.02h-1.04zM17 1h1.04v1.02h-1.04zM21 1h1.04v1.02h-1.04zM36 1h1.04v1.02h-1.04zM49 1h1.04v1.02h-1.04zM64 1h1.04v1.02h-1.04zM66 1h1.04v1.02h-1.04zM70 1h1.04v1.02h-1.04zM77 1h1.04v1.02h-1.04zM84 1h1.04v1.02h-1.04zM96 1h1.04v1.02h-1.04zM110 1h1.04v1.02h-1.04zM10 2h1.04v1.02h-1.04zM85 2h1.04v1.02h-1.04zM101 2h1.04v1.02h-1.04zM32 3h1.04v1.02h-1.04zM34 3h1.04v1.02h-1.04zM55 3h1.04v1.02h-1.04zM82 3h1.04v1.02h-1.04zM4 4h1.04v1.02h-1.04zM6 4h1.04v1.02h-1.04zM10 4h2.04v1.02h-2.04zM14 4h1.04v1.02h-1.04zM17 4h1.04v1.02h-1.04zM19 4h1.04v1.02h-1.04zM31 4h1.04v1.02h-1.04zM33 4h1.04v1.02h-1.04zM50 4h2.04v1.02h-2.04zM56 4h1.04v1.02h-1.04zM68 4h1.04v1.02h-1.04zM88 4h1.04v1.02h-1.04zM15 5h1.04v1.02h-1.04zM20 5h1.04v1.02h-1.04zM23 5h1.04v1.02h-1.04zM58 5h1.04v1.02h-1.04zM70 5h1.04v1.02h-1.04zM1 6h1.04v1.02h-1.04zM9 6h1.04v1.02h-1.04zM70 6h1.04v1.02h-1.04zM95 6h1.04v1.02h-1.04zM2 7h2.04v1.02h-2.04zM7 7h1.04v1.02h-1.04zM16 7h1.04v1.02h-1.04zM25 7h1.04v1.02h-1.04zM53 7h2.04v1.02h-2.04zM62 7h1.04v1.02h-1.04zM1 8h1.04v1.02h-1.04zM5 8h1.04v1.02h-1.04zM10 8h1.04v1.02h-1.04zM16 8h1.04v1.02h-1.04zM25 8h2.04v1.02h-2.04zM41 8h1.04v1.02h-1.04zM43 8h1.04v1.02h-1.04zM53 8h2.04v1.02h-2.04zM63 8h1.04v1.02h-1.04zM7 9h1.04v1.02h-1.04zM26 9h1.04v1.02h-1.04zM32 9h1.04v1.02h-1.04zM62 9h2.04v1.02h-2.04zM70 9h1.04v1.02h-1.04zM93 9h1.04v1.02h-1.04zM15 10h3.04v1.02h-3.04zM29 10h1.04v1.02h-1.04zM43 10h1.04v1.02h-1.04zM47 10h1.04v1.02h-1.04zM64 10h3.04v1.02h-3.04zM73 10h1.04v1.02h-1.04zM21 11h1.04v1.02h-1.04zM25 11h2.04v1.02h-2.04zM29 11h1.04v1.02h-1.04zM38 11h1.04v1.02h-1.04zM43 11h1.04v1.02h-1.04zM47 11h1.04v1.02h-1.04zM51 11h1.04v1.02h-1.04zM17 12h1.04v1.02h-1.04zM23 12h1.04v1.02h-1.04zM29 12h1.04v1.02h-1.04zM38 12h1.04v1.02h-1.04zM42 12h1.04v1.02h-1.04zM47 12h1.04v1.02h-1.04zM58 12h1.04v1.02h-1.04zM62 12h1.04v1.02h-1.04zM1 13h1.04v1.02h-1.04zM17 13h1.04v1.02h-1.04zM37 13h2.04v1.02h-2.04zM43 13h1.04v1.02h-1.04zM66 13h1.04v1.02h-1.04zM10 14h2.04v1.02h-2.04zM22 14h1.04v1.02h-1.04zM36 14h1.04v1.02h-1.04zM41 14h2.04v1.02h-2.04zM58 14h1.04v1.02h-1.04zM14 15h1.04v1.02h-1.04zM17 15h1.04v1.02h-1.04zM36 15h1.04v1.02h-1.04zM63 15h1.04v1.02h-1.04zM71 15h1.04v1.02h-1.04zM1 16h2.04v1.02h-2.04zM9 16h1.04v1.02h-1.04zM11 16h1.04v1.02h-1.04zM15 16h1.04v1.02h-1.04zM25 16h1.04v1.02h-1.04zM73 16h1.04v1.02h-1.04zM1 17h1.04v1.02h-1.04zM4 17h1.04v1.02h-1.04zM11 17h1.04v1.02h-1.04zM14 17h1.04v1.02h-1.04zM25 17h2.04v1.02h-2.04zM29 17h1.04v1.02h-1.04zM32 17h1.04v1.02h-1.04zM37 17h1.04v1.02h-1.04zM44 17h1.04v1.02h-1.04zM47 17h1.04v1.02h-1.04zM51 17h2.04v1.02h-2.04zM61 17h1.04v1.02h-1.04zM64 17h2.04v1.02h-2.04zM110 17h1.04v1.02h-1.04zM15 18h1.04v1.02h-1.04zM49 18h1.04v1.02h-1.04zM56 18h1.04v1.02h-1.04zM63 18h1.04v1.02h-1.04zM71 18h1.04v1.02h-1.04zM73 18h1.04v1.02h-1.04zM18 19h1.04v1.02h-1.04zM46 19h2.04v1.02h-2.04zM18 20h1.04v1.02h-1.04zM37 20h1.04v1.02h-1.04zM66 20h1.04v1.02h-1.04zM13 21h1.04v1.02h-1.04zM22 21h1.04v1.02h-1.04zM40 21h1.04v1.02h-1.04zM47 21h1.04v1.02h-1.04zM49 21h1.04v1.02h-1.04zM67 21h1.04v1.02h-1.04zM95 21h1.04v1.02h-1.04zM97 21h1.04v1.02h-1.04zM12 22h2.04v1.02h-2.04zM15 22h2.04v1.02h-2.04zM25 22h1.04v1.02h-1.04zM27 22h1.04v1.02h-1.04zM41 22h1.04v1.02h-1.04zM44 22h1.04v1.02h-1.04zM46 22h2.04v1.02h-2.04zM55 22h1.04v1.02h-1.04zM57 22h1.04v1.02h-1.04zM91 22h1.04v1.02h-1.04zM104 22h1.04v1.02h-1.04zM112 22h1.04v1.02h-1.04zM0 23h1.04v1.02h-1.04zM2 23h1.04v1.02h-1.04zM11 23h1.04v1.02h-1.04zM40 23h1.04v1.02h-1.04zM52 23h1.04v1.02h-1.04zM59 23h1.04v1.02h-1.04zM67 23h1.04v1.02h-1.04zM2 24h1.04v1.02h-1.04zM7 24h1.04v1.02h-1.04zM26 24h1.04v1.02h-1.04zM41 24h1.04v1.02h-1.04zM49 24h1.04v1.02h-1.04zM65 24h1.04v1.02h-1.04zM95 24h1.04v1.02h-1.04zM4 25h1.04v1.02h-1.04zM15 25h1.04v1.02h-1.04zM24 25h1.04v1.02h-1.04zM52 25h1.04v1.02h-1.04zM67 25h1.04v1.02h-1.04zM70 25h1.04v1.02h-1.04zM73 25h1.04v1.02h-1.04zM80 25h1.04v1.02h-1.04zM91 25h1.04v1.02h-1.04zM14 26h1.04v1.02h-1.04zM39 26h1.04v1.02h-1.04zM82 26h1.04v1.02h-1.04zM87 26h1.04v1.02h-1.04zM105 26h1.04v1.02h-1.04zM107 26h1.04v1.02h-1.04zM12 27h1.04v1.02h-1.04zM14 27h1.04v1.02h-1.04zM19 27h1.04v1.02h-1.04zM27 27h1.04v1.02h-1.04zM38 27h1.04v1.02h-1.04zM49 27h1.04v1.02h-1.04zM51 27h1.04v1.02h-1.04zM53 27h1.04v1.02h-1.04zM89 27h1.04v1.02h-1.04zM10 28h1.04v1.02h-1.04zM26 28h1.04v1.02h-1.04zM46 28h1.04v1.02h-1.04zM48 28h1.04v1.02h-1.04zM56 28h1.04v1.02h-1.04z"/>
<path fill="#b2b2f8" d="M0 0h1.04v1.02h-1.04zM9 0h2.04v1.02h-2.04zM12 0h1.04v1.02h-1.04zM14 0h1.04v1.02h-1.04zM47 0h2.04v1.02h-2.04zM53 0h2.04v1.02h-2.04zM68 0h1.04v1.02h-1.04zM78 0h1.04v1.02h-1.04zM99 0h1.04v1.02h-1.04zM105 0h1.04v1.02h-1.04zM11 1h1.04v1.02h-1.04zM16 1h1.04v1.02h-1.04zM73 1h2.04v1.02h-2.04zM92 1h1.04v1.02h-1.04zM103 1h1.04v1.02h-1.04zM1 2h1.04v1.02h-1.04zM11 2h1.04v1.02h-1.04zM21 2h1.04v1.02h-1.04zM45 2h2.04v1.02h-2.04zM73 2h1.04v1.02h-1.04zM109 2h1.04v1.02h-1.04zM12 3h1.04v1.02h-1.04zM14 3h1.04v1.02h-1.04zM22 3h1.04v1.02h-1.04zM44 3h1.04v1.02h-1.04zM53 3h1.04v1.02h-1.04zM57 3h1.04v1.02h-1.04zM62 3h2.04v1.02h-2.04zM70 3h1.04v1.02h-1.04zM110 3h1.04v1.02h-1.04zM2 4h1.04v1.02h-1.04zM7 4h1.04v1.02h-1.04zM12 4h2.04v1.02h-2.04zM16 4h1.04v1.02h-1.04zM41 4h1.04v1.02h-1.04zM52 4h1.04v1.02h-1.04zM95 4h1.04v1.02h-1.04zM0 5h2.04v1.02h-2.04zM3 5h1.04v1.02h-1.04zM32 5h2.04v1.02h-2.04zM40 5h1.04v1.02h-1.04zM43 5h1.04v1.02h-1.04zM73 5h1.04v1.02h-1.04zM2 6h1.04v1.02h-1.04zM16 6h1.04v1.02h-1.04zM38 6h1.04v1.02h-1.04zM58 6h1.04v1.02h-1.04zM62 6h2.04v1.02h-2.04zM5 7h2.04v1.02h-2.04zM10 7h1.04v1.02h-1.04zM15 7h1.04v1.02h-1.04zM17 7h1.04v1.02h-1.04zM34 7h1.04v1.02h-1.04zM38 7h1.04v1.02h-1.04zM42 7h1.04v1.02h-1.04zM58 7h1.04v1.02h-1.04zM63 7h1.04v1.02h-1.04zM3 8h1.04v1.02h-1.04zM20 8h1.04v1.02h-1.04zM32 8h1.04v1.02h-1.04zM82 8h1.04v1.02h-1.04zM11 9h1.04v1.02h-1.04zM18 9h1.04v1.02h-1.04zM3 10h1.04v1.02h-1.04zM12 10h1.04v1.02h-1.04zM32 10h1.04v1.02h-1.04zM40 10h1.04v1.02h-1.04zM54 10h1.04v1.02h-1.04zM68 10h1.04v1.02h-1.04zM17 11h1.04v1.02h-1.04zM62 11h1.04v1.02h-1.04zM65 11h1.04v1.02h-1.04zM2 12h1.04v1.02h-1.04zM6 12h1.04v1.02h-1.04zM16 12h1.04v1.02h-1.04zM41 12h1.04v1.02h-1.04zM43 12h1.04v1.02h-1.04zM45 12h1.04v1.02h-1.04zM53 12h1.04v1.02h-1.04zM66 12h1.04v1.02h-1.04zM68 12h1.04v1.02h-1.04zM25 13h1.04v1.02h-1.04zM36 13h1.04v1.02h-1.04zM42 13h1.04v1.02h-1.04zM47 13h1.04v1.02h-1.04zM54 13h1.04v1.02h-1.04zM62 13h1.04v1.02h-1.04zM72 13h1.04v1.02h-1.04zM104 13h1.04v1.02h-1.04zM5 14h3.04v1.02h-3.04zM28 14h1.04v1.02h-1.04zM51 14h1.04v1.02h-1.04zM53 14h3.04v1.02h-3.04zM62 14h2.04v1.02h-2.04zM77 14h1.04v1.02h-1.04zM1 15h1.04v1.02h-1.04zM3 15h1.04v1.02h-1.04zM5 15h2.04v1.02h-2.04zM9 15h3.04v1.02h-3.04zM29 15h1.04v1.02h-1.04zM42 15h1.04v1.02h-1.04zM62 15h1.04v1.02h-1.04zM3 16h1.04v1.02h-1.04zM6 16h2.04v1.02h-2.04zM20 16h1.04v1.02h-1.04zM26 16h1.04v1.02h-1.04zM36 16h1.04v1.02h-1.04zM58 16h1.04v1.02h-1.04zM63 16h1.04v1.02h-1.04zM65 16h2.04v1.02h-2.04zM12 17h1.04v1.02h-1.04zM16 17h1.04v1.02h-1.04zM22 17h1.04v1.02h-1.04zM30 17h2.04v1.02h-2.04zM75 17h1.04v1.02h-1.04zM78 17h1.04v1.02h-1.04zM100 17h1.04v1.02h-1.04zM4 18h1.04v1.02h-1.04zM21 18h1.04v1.02h-1.04zM33 18h1.04v1.02h-1.04zM44 18h1.04v1.02h-1.04zM53 18h1.04v1.02h-1.04zM55 18h1.04v1.02h-1.04zM68 18h1.04v1.02h-1.04zM72 18h1.04v1.02h-1.04zM76 18h1.04v1.02h-1.04zM80 18h1.04v1.02h-1.04zM93 18h1.04v1.02h-1.04zM108 18h1.04v1.02h-1.04zM32 19h1.04v1.02h-1.04zM39 19h1.04v1.02h-1.04zM43 19h1.04v1.02h-1.04zM7 20h1.04v1.02h-1.04zM34 20h1.04v1.02h-1.04zM47 20h1.04v1.02h-1.04zM58 20h1.04v1.02h-1.04zM80 20h1.04v1.02h-1.04zM89 20h1.04v1.02h-1.04zM112 20h1.04v1.02h-1.04zM9 21h1.04v1.02h-1.04zM12 21h1.04v1.02h-1.04zM25 21h1.04v1.02h-1.04zM33 21h1.04v1.02h-1.04zM35 21h2.04v1.02h-2.04zM41 21h1.04v1.02h-1.04zM70 21h1.04v1.02h-1.04zM91 21h1.04v1.02h-1.04zM98 21h1.04v1.02h-1.04zM26 22h1.04v1.02h-1.04zM39 22h1.04v1.02h-1.04zM43 22h1.04v1.02h-1.04zM63 22h1.04v1.02h-1.04zM77 22h1.04v1.02h-1.04zM83 22h1.04v1.02h-1.04zM88 22h1.04v1.02h-1.04zM93 22h1.04v1.02h-1.04zM95 22h1.04v1.02h-1.04zM113 22h1.04v1.02h-1.04zM41 23h1.04v1.02h-1.04zM64 23h1.04v1.02h-1.04zM68 23h1.04v1.02h-1.04zM96 23h1.04v1.02h-1.04zM4 24h1.04v1.02h-1.04zM17 24h1.04v1.02h-1.04zM23 24h2.04v1.02h-2.04zM35 24h2.04v1.02h-2.04zM100 24h1.04v1.02h-1.04zM105 24h1.04v1.02h-1.04zM2 25h2.04v1.02h-2.04zM6 25h1.04v1.02h-1.04zM10 25h1.04v1.02h-1.04zM40 25h1.04v1.02h-1.04zM93 25h1.04v1.02h-1.04zM11 26h1.04v1.02h-1.04zM17 26h2.04v1.02h-2.04zM47 26h1.04v1.02h-1.04zM76 26h1.04v1.02h-1.04zM78 26h1.04v1.02h-1.04zM84 26h1.04v1.02h-1.04zM97 26h1.04v1.02h-1.04zM106 26h1.04v1.02h-1.04zM20 27h2.04v1.02h-2.04zM33 27h1.04v1.02h-1.04zM41 27h1.04v1.02h-1.04zM52 27h1.04v1.02h-1.04zM55 27h1.04v1.02h-1.04zM59 27h1.04v1.02h-1.04zM72 27h1.04v1.02h-1.04zM93 27h1.04v1.02h-1.04zM20 28h1.04v1.02h-1.04zM24 28h1.04v1.02h-1.04zM31 28h1.04v1.02h-1.04zM58 28h1.04v1.02h-1.04zM96 28h1.04v1.02h-1.04z"/>
<path fill="#d1d1fa" d="M23 0h1.04v1.02h-1.04zM34 0h2.04v1.02h-2.04zM44 0h1.04v1.02h-1.04zM58 0h1.04v1.02h-1.04zM79 0h1.04v1.02h-1.04zM86 0h1.04v1.02h-1.04zM108 0h1.04v1.02h-1.04zM10 1h1.04v1.02h-1.04zM23 1h1.04v1.02h-1.04zM33 1h1.04v1.02h-1.04zM37 1h1.04v1.02h-1.04zM42 1h1.04v1.02h-1.04zM44 1h1.04v1.02h-1.04zM54 1h1.04v1.02h-1.04zM80 1h1.04v1.02h-1.04zM114 1h1.04v1.02h-1.04zM8 2h1.04v1.02h-1.04zM12 2h1.04v1.02h-1.04zM16 2h1.04v1.02h-1.04zM41 2h1.04v1.02h-1.04zM64 2h2.04v1.02h-2.04zM67 2h1.04v1.02h-1.04zM74 2h1.04v1.02h-1.04zM82 2h2.04v1.02h-2.04zM1 3h1.04v1.02h-1.04zM5 3h1.04v1.02h-1.04zM9 3h1.04v1.02h-1.04zM17 3h1.04v1.02h-1.04zM26 3h1.04v1.02h-1.04zM38 3h1.04v1.02h-1.04zM43 3h1.04v1.02h-1.04zM83 3h1.04v1.02h-1.04zM93 3h1.04v1.02h-1.04zM1 4h1.04v1.02h-1.04zM5 4h1.04v1.02h-1.04zM22 4h1.04v1.02h-1.04zM28 4h2.04v1.02h-2.04zM40 4h1.04v1.02h-1.04zM43 4h1.04v1.02h-1.04zM60 4h1.04v1.02h-1.04zM70 4h2.04v1.02h-2.04zM35 5h1.04v1.02h-1.04zM88 5h1.04v1.02h-1.04zM5 6h1.04v1.02h-1.04zM19 6h1.04v1.02h-1.04zM22 6h1.04v1.02h-1.04zM27 6h1.04v1.02h-1.04zM35 6h1.04v1.02h-1.04zM40 6h1.04v1.02h-1.04zM43 6h1.04v1.02h-1.04zM45 6h1.04v1.02h-1.04zM73 6h1.04v1.02h-1.04zM91 6h1.04v1.02h-1.04zM1 7h1.04v1.02h-1.04zM9 7h1.04v1.02h-1.04zM32 7h1.04v1.02h-1.04zM43 7h1.04v1.02h-1.04zM47 7h1.04v1.02h-1.04zM66 7h1.04v1.02h-1.04zM71 7h2.04v1.02h-2.04zM104 7h1.04v1.02h-1.04zM0 8h1.04v1.02h-1.04zM6 8h1.04v1.02h-1.04zM9 8h1.04v1.02h-1.04zM22 8h1.04v1.02h-1.04zM28 8h1.04v1.02h-1.04zM40 8h1.04v1.02h-1.04zM66 8h1.04v1.02h-1.04zM71 8h1.04v1.02h-1.04zM2 9h2.04v1.02h-2.04zM6 9h1.04v1.02h-1.04zM20 9h1.04v1.02h-1.04zM27 9h1.04v1.02h-1.04zM48 9h1.04v1.02h-1.04zM53 9h1.04v1.02h-1.04zM58 9h1.04v1.02h-1.04zM72 9h1.04v1.02h-1.04zM94 9h1.04v1.02h-1.04zM104 9h1.04v1.02h-1.04zM1 10h1.04v1.02h-1.04zM4 10h1.04v1.02h-1.04zM8 10h1.04v1.02h-1.04zM19 10h1.04v1.02h-1.04zM41 10h2.04v1.02h-2.04zM49 10h1.04v1.02h-1.04zM63 10h1.04v1.02h-1.04zM72 10h1.04v1.02h-1.04zM83 10h1.04v1.02h-1.04zM95 10h1.04v1.02h-1.04zM112 10h1.04v1.02h-1.04zM6 11h1.04v1.02h-1.04zM10 11h1.04v1.02h-1.04zM15 11h1.04v1.02h-1.04zM22 11h1.04v1.02h-1.04zM34 11h1.04v1.02h-1.04zM55 11h1.04v1.02h-1.04zM66 11h1.04v1.02h-1.04zM72 11h1.04v1.02h-1.04zM98 11h1.04v1.02h-1.04zM5 12h1.04v1.02h-1.04zM9 12h2.04v1.02h-2.04zM25 12h1.04v1.02h-1.04zM54 12h1.04v1.02h-1.04zM65 12h1.04v1.02h-1.04zM99 12h1.04v1.02h-1.04zM112 12h1.04v1.02h-1.04zM26 13h3.04v1.02h-3.04zM60 13h1.04v1.02h-1.04zM63 13h1.04v1.02h-1.04zM80 13h1.04v1.02h-1.04zM112 13h1.04v1.02h-1.04zM3 14h2.04v1.02h-2.04zM15 14h1.04v1.02h-1.04zM66 14h1.04v1.02h-1.04zM4 15h1.04v1.02h-1.04zM7 15h1.04v1.02h-1.04zM18 15h1.04v1.02h-1.04zM20 15h1.04v1.02h-1.04zM25 15h1.04v1.02h-1.04zM34 15h2.04v1.02h-2.04zM41 15h1.04v1.02h-1.04zM58 15h1.04v1.02h-1.04zM66 15h1.04v1.02h-1.04zM4 16h2.04v1.02h-2.04zM14 16h1.04v1.02h-1.04zM34 16h1.04v1.02h-1.04zM53 16h1.04v1.02h-1.04zM61 16h1.04v1.02h-1.04zM13 17h1.04v1.02h-1.04zM18 17h1.04v1.02h-1.04zM40 17h1.04v1.02h-1.04zM43 17h1.04v1.02h-1.04zM45 17h1.04v1.02h-1.04zM72 17h1.04v1.02h-1.04zM93 17h1.04v1.02h-1.04zM96 17h1.04v1.02h-1.04zM112 17h1.04v1.02h-1.04zM6 18h1.04v1.02h-1.04zM25 18h1.04v1.02h-1.04zM43 18h1.04v1.02h-1.04zM70 18h1.04v1.02h-1.04zM100 18h1.04v1.02h-1.04zM53 19h2.04v1.02h-2.04zM2 20h1.04v1.02h-1.04zM12 20h2.04v1.02h-2.04zM16 20h1.04v1.02h-1.04zM22 20h1.04v1.02h-1.04zM26 20h1.04v1.02h-1.04zM40 20h1.04v1.02h-1.04zM57 20h1.04v1.02h-1.04zM82 20h2.04v1.02h-2.04zM28 21h1.04v1.02h-1.04zM34 21h1.04v1.02h-1.04zM37 21h1.04v1.02h-1.04zM39 21h1.04v1.02h-1.04zM54 21h1.04v1.02h-1.04zM62 21h2.04v1.02h-2.04zM72 21h2.04v1.02h-2.04zM110 21h1.04v1.02h-1.04zM10 22h1.04v1.02h-1.04zM28 22h1.04v1.02h-1.04zM33 22h1.04v1.02h-1.04zM52 22h2.04v1.02h-2.04zM58 22h1.04v1.02h-1.04zM72 22h2.04v1.02h-2.04zM89 22h1.04v1.02h-1.04zM9 23h1.04v1.02h-1.04zM14 23h1.04v1.02h-1.04zM21 23h1.04v1.02h-1.04zM23 23h1.04v1.02h-1.04zM49 23h1.04v1.02h-1.04zM56 23h1.04v1.02h-1.04zM61 23h2.04v1.02h-2.04zM75 23h1.04v1.02h-1.04zM5 24h1.04v1.02h-1.04zM12 24h1.04v1.02h-1.04zM14 24h1.04v1.02h-1.04zM28 24h2.04v1.02h-2.04zM40 24h1.04v1.02h-1.04zM43 24h1.04v1.02h-1.04zM60 24h1.04v1.02h-1.04zM66 24h1.04v1.02h-1.04zM74 24h2.04v1.02h-2.04zM1 25h1.04v1.02h-1.04zM7 25h1.04v1.02h-1.04zM11 25h2.04v1.02h-2.04zM14 25h1.04v1.02h-1.04zM19 25h1.04v1.02h-1.04zM30 25h1.04v1.02h-1.04zM43 25h1.04v1.02h-1.04zM57 25h2.04v1.02h-2.04zM112 25h1.04v1.02h-1.04zM42 26h1.04v1.02h-1.04zM57 26h1.04v1.02h-1.04zM70 26h1.04v1.02h-1.04zM74 26h1.04v1.02h-1.04zM94 26h1.04v1.02h-1.04zM96 26h1.04v1.02h-1.04zM103 26h1.04v1.02h-1.04zM0 27h1.04v1.02h-1.04zM3 27h1.04v1.02h-1.04zM5 27h1.04v1.02h-1.04zM9 27h1.04v1.02h-1.04zM45 27h1.04v1.02h-1.04zM48 27h1.04v1.02h-1.04zM12 28h3.04v1.02h-3.04zM32 28h2.04v1.02h-2.04zM36 28h1.04v1.02h-1.04zM40 28h1.04v1.02h-1.04zM64 28h1.04v1.02h-1.04zM73 28h1.04v1.02h-1.04zM82 28h2.04v1.02h-2.04zM91 28h1.04v1.02h-1.04z"/>
<path fill="#db0000" d="M32 0h1.04v1.02h-1.04zM81 0h1.04v1.02h-1.04zM85 0h1.04v1.02h-1.04zM88 0h4.04v1.02h-4.04zM95 0h1.04v1.02h-1.04zM114 0h2.04v1.02h-2.04zM13 1h1.04v1.02h-1.04zM19 1h1.04v1.02h-1.04zM27 1h1.04v1.02h-1.04zM31 1h1.04v1.02h-1.04zM35 1h1.04v1.02h-1.04zM38 1h1.04v1.02h-1.04zM63 1h1.04v1.02h-1.04zM68 1h1.04v1.02h-1.04zM88 1h4.04v1.02h-4.04zM95 1h1.04v1.02h-1.04zM108 1h1.04v1.02h-1.04zM112 1h1.04v1.02h-1.04zM115 1h1.04v1.02h-1.04zM13 2h1.04v1.02h-1.04zM27 2h1.04v1.02h-1.04zM38 2h2.04v1.02h-2.04zM89 2h1.04v1.02h-1.04zM91 2h1.04v1.02h-1.04zM95 2h1.04v1.02h-1.04zM65 3h1.04v1.02h-1.04zM76 3h1.04v1.02h-1.04zM79 3h1.04v1.02h-1.04zM81 3h1.04v1.02h-1.04zM85 3h1.04v1.02h-1.04zM96 3h1.04v1.02h-1.04zM101 3h1.04v1.02h-1.04zM105 3h1.04v1.02h-1.04zM107 3h1.04v1.02h-1.04zM109 3h1.04v1.02h-1.04zM114 3h1.04v1.02h-1.04zM76 4h1.04v1.02h-1.04zM81 4h1.04v1.02h-1.04zM84 4h2.04v1.02h-2.04zM97 4h1.04v1.02h-1.04zM101 4h2.04v1.02h-2.04zM105 4h3.04v1.02h-3.04zM109 4h1.04v1.02h-1.04zM114 4h1.04v1.02h-1.04zM76 5h1.04v1.02h-1.04zM79 5h1.04v1.02h-1.04zM81 5h1.04v1.02h-1.04zM83 5h3.04v1.02h-3.04zM94 5h1.04v1.02h-1.04zM96 5h2.04v1.02h-2.04zM101 5h1.04v1.02h-1.04zM105 5h3.04v1.02h-3.04zM109 5h1.04v1.02h-1.04zM111 5h1.04v1.02h-1.04zM114 5h1.04v1.02h-1.04zM81 6h1.04v1.02h-1.04zM84 6h2.04v1.02h-2.04zM94 6h1.04v1.02h-1.04zM97 6h1.04v1.02h-1.04zM101 6h1.04v1.02h-1.04zM106 6h2.04v1.02h-2.04zM109 6h1.04v1.02h-1.04zM111 6h1.04v1.02h-1.04zM114 6h1.04v1.02h-1.04zM76 7h1.04v1.02h-1.04zM79 7h1.04v1.02h-1.04zM81 7h1.04v1.02h-1.04zM85 7h2.04v1.02h-2.04zM94 7h1.04v1.02h-1.04zM101 7h1.04v1.02h-1.04zM107 7h1.04v1.02h-1.04zM109 7h1.04v1.02h-1.04zM114 7h2.04v1.02h-2.04zM76 8h1.04v1.02h-1.04zM79 8h1.04v1.02h-1.04zM81 8h1.04v1.02h-1.04zM84 8h3.04v1.02h-3.04zM94 8h1.04v1.02h-1.04zM101 8h1.04v1.02h-1.04zM107 8h1.04v1.02h-1.04zM109 8h1.04v1.02h-1.04zM114 8h1.04v1.02h-1.04zM30 9h1.04v1.02h-1.04zM66 9h1.04v1.02h-1.04zM78 9h1.04v1.02h-1.04zM81 9h1.04v1.02h-1.04zM85 9h2.04v1.02h-2.04zM97 9h2.04v1.02h-2.04zM113 9h3.04v1.02h-3.04zM76 10h1.04v1.02h-1.04zM79 10h1.04v1.02h-1.04zM81 10h1.04v1.02h-1.04zM84 10h2.04v1.02h-2.04zM88 10h1.04v1.02h-1.04zM92 10h1.04v1.02h-1.04zM94 10h1.04v1.02h-1.04zM107 10h1.04v1.02h-1.04zM109 10h1.04v1.02h-1.04zM114 10h1.04v1.02h-1.04zM79 11h1.04v1.02h-1.04zM81 11h1.04v1.02h-1.04zM86 11h1.04v1.02h-1.04zM88 11h1.04v1.02h-1.04zM91 11h1.04v1.02h-1.04zM94 11h1.04v1.02h-1.04zM101 11h1.04v1.02h-1.04zM107 11h1.04v1.02h-1.04zM109 11h1.04v1.02h-1.04zM111 11h1.04v1.02h-1.04zM114 11h1.04v1.02h-1.04zM76 12h1.04v1.02h-1.04zM79 12h1.04v1.02h-1.04zM81 12h1.04v1.02h-1.04zM84 12h1.04v1.02h-1.04zM86 12h1.04v1.02h-1.04zM94 12h1.04v1.02h-1.04zM101 12h1.04v1.02h-1.04zM107 12h1.04v1.02h-1.04zM109 12h1.04v1.02h-1.04zM114 12h1.04v1.02h-1.04zM0 13h1.04v1.02h-1.04zM35 13h1.04v1.02h-1.04zM78 13h2.04v1.02h-2.04zM81 13h1.04v1.02h-1.04zM86 13h1.04v1.02h-1.04zM97 13h1.04v1.02h-1.04zM101 13h1.04v1.02h-1.04zM105 13h1.04v1.02h-1.04zM107 13h1.04v1.02h-1.04zM114 13h1.04v1.02h-1.04zM19 14h1.04v1.02h-1.04zM24 14h1.04v1.02h-1.04zM30 14h1.04v1.02h-1.04zM79 14h1.04v1.02h-1.04zM81 14h1.04v1.02h-1.04zM83 14h1.04v1.02h-1.04zM85 14h2.04v1.02h-2.04zM96 14h1.04v1.02h-1.04zM98 14h1.04v1.02h-1.04zM101 14h1.04v1.02h-1.04zM107 14h1.04v1.02h-1.04zM109 14h1.04v1.02h-1.04zM114 14h1.04v1.02h-1.04zM79 15h1.04v1.02h-1.04zM81 15h1.04v1.02h-1.04zM85 15h2.04v1.02h-2.04zM92 15h1.04v1.02h-1.04zM94 15h1.04v1.02h-1.04zM101 15h1.04v1.02h-1.04zM107 15h3.04v1.02h-3.04zM111 15h1.04v1.02h-1.04zM114 15h2.04v1.02h-2.04zM81 16h1.04v1.02h-1.04zM85 16h2.04v1.02h-2.04zM101 16h1.04v1.02h-1.04zM107 16h1.04v1.02h-1.04zM109 16h1.04v1.02h-1.04zM114 16h2.04v1.02h-2.04zM74 17h1.04v1.02h-1.04zM76 17h2.04v1.02h-2.04zM84 17h2.04v1.02h-2.04zM92 17h1.04v1.02h-1.04zM94 17h1.04v1.02h-1.04zM101 17h2.04v1.02h-2.04zM107 17h1.04v1.02h-1.04zM19 18h1.04v1.02h-1.04zM40 18h1.04v1.02h-1.04zM78 18h2.04v1.02h-2.04zM81 18h1.04v1.02h-1.04zM85 18h1.04v1.02h-1.04zM89 18h3.04v1.02h-3.04zM114 18h1.04v1.02h-1.04zM24 19h1.04v1.02h-1.04zM41 19h1.04v1.02h-1.04zM84 19h1.04v1.02h-1.04zM86 19h1.04v1.02h-1.04zM89 19h1.04v1.02h-1.04zM91 19h1.04v1.02h-1.04zM95 19h1.04v1.02h-1.04zM102 19h2.04v1.02h-2.04zM108 19h2.04v1.02h-2.04zM112 19h1.04v1.02h-1.04zM19 20h1.04v1.02h-1.04zM30 20h1.04v1.02h-1.04zM35 20h1.04v1.02h-1.04zM41 20h1.04v1.02h-1.04zM61 20h1.04v1.02h-1.04zM71 20h1.04v1.02h-1.04zM78 20h1.04v1.02h-1.04zM85 20h1.04v1.02h-1.04zM105 20h1.04v1.02h-1.04zM107 20h1.04v1.02h-1.04zM111 20h1.04v1.02h-1.04zM0 21h1.04v1.02h-1.04zM20 21h1.04v1.02h-1.04zM71 21h1.04v1.02h-1.04zM75 21h1.04v1.02h-1.04zM78 21h2.04v1.02h-2.04zM81 21h1.04v1.02h-1.04zM84 21h2.04v1.02h-2.04zM96 21h1.04v1.02h-1.04zM105 21h1.04v1.02h-1.04zM107 21h1.04v1.02h-1.04zM109 21h1.04v1.02h-1.04zM111 21h1.04v1.02h-1.04zM114 21h1.04v1.02h-1.04zM30 22h1.04v1.02h-1.04zM51 22h1.04v1.02h-1.04zM71 22h1.04v1.02h-1.04zM75 22h1.04v1.02h-1.04zM78 22h2.04v1.02h-2.04zM85 22h1.04v1.02h-1.04zM94 22h1.04v1.02h-1.04zM99 22h3.04v1.02h-3.04zM105 22h1.04v1.02h-1.04zM107 22h1.04v1.02h-1.04zM109 22h1.04v1.02h-1.04zM114 22h1.04v1.02h-1.04zM81 23h1.04v1.02h-1.04zM86 23h2.04v1.02h-2.04zM92 23h2.04v1.02h-2.04zM102 23h2.04v1.02h-2.04zM106 23h4.04v1.02h-4.04zM55 24h1.04v1.02h-1.04zM81 24h3.04v1.02h-3.04zM86 24h1.04v1.02h-1.04zM89 24h2.04v1.02h-2.04zM92 24h1.04v1.02h-1.04zM98 24h1.04v1.02h-1.04zM101 24h1.04v1.02h-1.04zM103 24h1.04v1.02h-1.04zM107 24h3.04v1.02h-3.04zM113 24h3.04v1.02h-3.04zM81 25h1.04v1.02h-1.04zM86 25h1.04v1.02h-1.04zM92 25h1.04v1.02h-1.04zM94 25h1.04v1.02h-1.04zM97 25h2.04v1.02h-2.04zM101 25h1.04v1.02h-1.04zM103 25h1.04v1.02h-1.04zM106 25h4.04v1.02h-4.04zM111 25h1.04v1.02h-1.04zM114 25h2.04v1.02h-2.04zM24 26h1.04v1.02h-1.04zM49 26h1.04v1.02h-1.04zM58 26h1.04v1.02h-1.04zM81 26h1.04v1.02h-1.04zM92 26h1.04v1.02h-1.04zM102 26h1.04v1.02h-1.04zM108 26h1.04v1.02h-1.04zM112 26h4.04v1.02h-4.04zM1 27h1.04v1.02h-1.04zM6 27h1.04v1.02h-1.04zM24 27h1.04v1.02h-1.04zM79 27h1.04v1.02h-1.04zM81 27h1.04v1.02h-1.04zM92 27h1.04v1.02h-1.04zM94 27h1.04v1.02h-1.04zM97 27h1.04v1.02h-1.04zM101 27h1.04v1.02h-1.04zM107 27h1.04v1.02h-1.04zM109 27h1.04v1.02h-1.04zM111 27h1.04v1.02h-1.04zM114 27h1.04v1.02h-1.04zM85 28h1.04v1.02h-1.04zM107 28h1.04v1.02h-1.04zM109 28h2.04v1.02h-2.04zM115 28h1.04v1.02h-1.04z"/>
<path fill="#db4242" d="M27 0h1.04v1.02h-1.04zM30 0h2.04v1.02h-2.04zM74 0h1.04v1.02h-1.04zM92 0h1.04v1.02h-1.04zM94 0h1.04v1.02h-1.04zM101 0h2.04v1.02h-2.04zM107 0h1.04v1.02h-1.04zM15 1h1.04v1.02h-1.04zM26 1h1.04v1.02h-1.04zM61 1h2.04v1.02h-2.04zM72 1h1.04v1.02h-1.04zM19 2h1.04v1.02h-1.04zM26 2h1.04v1.02h-1.04zM31 2h2.04v1.02h-2.04zM36 2h1.04v1.02h-1.04zM40 2h1.04v1.02h-1.04zM43 2h1.04v1.02h-1.04zM88 2h1.04v1.02h-1.04zM90 2h1.04v1.02h-1.04zM98 2h1.04v1.02h-1.04zM112 2h1.04v1.02h-1.04zM115 2h1.04v1.02h-1.04zM71 3h1.04v1.02h-1.04zM77 3h1.04v1.02h-1.04zM80 3h1.04v1.02h-1.04zM88 3h1.04v1.02h-1.04zM111 3h1.04v1.02h-1.04zM47 4h1.04v1.02h-1.04zM79 4h1.04v1.02h-1.04zM94 4h1.04v1.02h-1.04zM96 4h1.04v1.02h-1.04zM100 4h1.04v1.02h-1.04zM103 4h1.04v1.02h-1.04zM110 4h2.04v1.02h-2.04zM115 4h1.04v1.02h-1.04zM78 5h1.04v1.02h-1.04zM80 5h1.04v1.02h-1.04zM86 5h1.04v1.02h-1.04zM100 5h1.04v1.02h-1.04zM102 5h1.04v1.02h-1.04zM79 6h1.04v1.02h-1.04zM83 6h1.04v1.02h-1.04zM86 6h2.04v1.02h-2.04zM92 6h1.04v1.02h-1.04zM96 6h1.04v1.02h-1.04zM98 6h1.04v1.02h-1.04zM102 6h2.04v1.02h-2.04zM105 6h1.04v1.02h-1.04zM110 6h1.04v1.02h-1.04zM115 6h1.04v1.02h-1.04zM78 7h1.04v1.02h-1.04zM84 7h1.04v1.02h-1.04zM88 7h1.04v1.02h-1.04zM96 7h2.04v1.02h-2.04zM102 7h2.04v1.02h-2.04zM105 7h2.04v1.02h-2.04zM111 7h1.04v1.02h-1.04zM87 8h3.04v1.02h-3.04zM91 8h2.04v1.02h-2.04zM96 8h1.04v1.02h-1.04zM100 8h1.04v1.02h-1.04zM102 8h1.04v1.02h-1.04zM105 8h1.04v1.02h-1.04zM111 8h1.04v1.02h-1.04zM12 9h1.04v1.02h-1.04zM60 9h1.04v1.02h-1.04zM65 9h1.04v1.02h-1.04zM74 9h1.04v1.02h-1.04zM84 9h1.04v1.02h-1.04zM87 9h2.04v1.02h-2.04zM90 9h1.04v1.02h-1.04zM106 9h5.04v1.02h-5.04zM77 10h2.04v1.02h-2.04zM87 10h1.04v1.02h-1.04zM100 10h3.04v1.02h-3.04zM111 10h1.04v1.02h-1.04zM24 11h1.04v1.02h-1.04zM31 11h1.04v1.02h-1.04zM75 11h2.04v1.02h-2.04zM84 11h2.04v1.02h-2.04zM87 11h1.04v1.02h-1.04zM95 11h2.04v1.02h-2.04zM115 11h1.04v1.02h-1.04zM75 12h1.04v1.02h-1.04zM85 12h1.04v1.02h-1.04zM87 12h2.04v1.02h-2.04zM96 12h1.04v1.02h-1.04zM100 12h1.04v1.02h-1.04zM103 12h1.04v1.02h-1.04zM105 12h1.04v1.02h-1.04zM110 12h2.04v1.02h-2.04zM76 13h1.04v1.02h-1.04zM85 13h1.04v1.02h-1.04zM88 13h1.04v1.02h-1.04zM98 13h1.04v1.02h-1.04zM108 13h2.04v1.02h-2.04zM35 14h1.04v1.02h-1.04zM74 14h1.04v1.02h-1.04zM78 14h1.04v1.02h-1.04zM92 14h1.04v1.02h-1.04zM94 14h1.04v1.02h-1.04zM102 14h2.04v1.02h-2.04zM115 14h1.04v1.02h-1.04zM76 15h1.04v1.02h-1.04zM82 15h1.04v1.02h-1.04zM84 15h1.04v1.02h-1.04zM88 15h1.04v1.02h-1.04zM91 15h1.04v1.02h-1.04zM102 15h2.04v1.02h-2.04zM106 15h1.04v1.02h-1.04zM110 15h1.04v1.02h-1.04zM113 15h1.04v1.02h-1.04zM76 16h1.04v1.02h-1.04zM79 16h1.04v1.02h-1.04zM82 16h2.04v1.02h-2.04zM89 16h4.04v1.02h-4.04zM94 16h1.04v1.02h-1.04zM98 16h1.04v1.02h-1.04zM102 16h2.04v1.02h-2.04zM106 16h1.04v1.02h-1.04zM108 16h1.04v1.02h-1.04zM110 16h2.04v1.02h-2.04zM113 16h1.04v1.02h-1.04zM8 17h1.04v1.02h-1.04zM15 17h1.04v1.02h-1.04zM20 17h1.04v1.02h-1.04zM27 17h1.04v1.02h-1.04zM36 17h1.04v1.02h-1.04zM80 17h4.04v1.02h-4.04zM87 17h1.04v1.02h-1.04zM90 17h1.04v1.02h-1.04zM98 17h2.04v1.02h-2.04zM82 18h2.04v1.02h-2.04zM87 18h2.04v1.02h-2.04zM92 18h1.04v1.02h-1.04zM97 18h1.04v1.02h-1.04zM101 18h1.04v1.02h-1.04zM109 18h1.04v1.02h-1.04zM112 18h1.04v1.02h-1.04zM13 19h1.04v1.02h-1.04zM19 19h1.04v1.02h-1.04zM75 19h1.04v1.02h-1.04zM79 19h1.04v1.02h-1.04zM96 19h1.04v1.02h-1.04zM101 19h1.04v1.02h-1.04zM110 19h2.04v1.02h-2.04zM5 20h1.04v1.02h-1.04zM10 20h1.04v1.02h-1.04zM17 20h1.04v1.02h-1.04zM24 20h1.04v1.02h-1.04zM46 20h1.04v1.02h-1.04zM72 20h1.04v1.02h-1.04zM75 20h1.04v1.02h-1.04zM81 20h1.04v1.02h-1.04zM84 20h1.04v1.02h-1.04zM91 20h1.04v1.02h-1.04zM93 20h2.04v1.02h-2.04zM114 20h1.04v1.02h-1.04zM6 21h1.04v1.02h-1.04zM30 21h1.04v1.02h-1.04zM51 21h1.04v1.02h-1.04zM76 21h1.04v1.02h-1.04zM94 21h1.04v1.02h-1.04zM99 21h3.04v1.02h-3.04zM106 21h1.04v1.02h-1.04zM1 22h1.04v1.02h-1.04zM6 22h1.04v1.02h-1.04zM20 22h1.04v1.02h-1.04zM61 22h1.04v1.02h-1.04zM76 22h1.04v1.02h-1.04zM96 22h2.04v1.02h-2.04zM111 22h1.04v1.02h-1.04zM1 23h1.04v1.02h-1.04zM12 23h1.04v1.02h-1.04zM47 23h1.04v1.02h-1.04zM58 23h1.04v1.02h-1.04zM80 23h1.04v1.02h-1.04zM90 23h1.04v1.02h-1.04zM98 23h1.04v1.02h-1.04zM100 23h2.04v1.02h-2.04zM38 24h1.04v1.02h-1.04zM79 24h1.04v1.02h-1.04zM84 24h2.04v1.02h-2.04zM94 24h1.04v1.02h-1.04zM102 24h1.04v1.02h-1.04zM111 24h1.04v1.02h-1.04zM71 25h1.04v1.02h-1.04zM82 25h1.04v1.02h-1.04zM84 25h2.04v1.02h-2.04zM88 25h1.04v1.02h-1.04zM102 25h1.04v1.02h-1.04zM110 25h1.04v1.02h-1.04zM113 25h1.04v1.02h-1.04zM8 26h1.04v1.02h-1.04zM35 26h1.04v1.02h-1.04zM54 26h1.04v1.02h-1.04zM60 26h1.04v1.02h-1.04zM63 26h1.04v1.02h-1.04zM66 26h1.04v1.02h-1.04zM109 26h1.04v1.02h-1.04zM30 27h1.04v1.02h-1.04zM78 27h1.04v1.02h-1.04zM82 27h1.04v1.02h-1.04zM85 27h2.04v1.02h-2.04zM99 27h2.04v1.02h-2.04zM102 27h1.04v1.02h-1.04zM105 27h1.04v1.02h-1.04zM108 27h1.04v1.02h-1.04zM47 28h1.04v1.02h-1.04zM51 28h1.04v1.02h-1.04zM60 28h2.04v1.02h-2.04zM65 28h1.04v1.02h-1.04zM71 28h1.04v1.02h-1.04zM79 28h3.04v1.02h-3.04zM84 28h1.04v1.02h-1.04zM97 28h6.04v1.02h-6.04zM104 28h1.04v1.02h-1.04zM108 28h1.04v1.02h-1.04zM111 28h1.04v1.02h-1.04zM114 28h1.04v1.02h-1.04z"/>
<path fill="#e18080" d="M13 0h1.04v1.02h-1.04zM19 0h1.04v1.02h-1.04zM21 0h1.04v1.02h-1.04zM55 0h1.04v1.02h-1.04zM64 0h1.04v1.02h-1.04zM82 0h1.04v1.02h-1.04zM93 0h1.04v1.02h-1.04zM111 0h1.04v1.02h-1.04zM113 0h1.04v1.02h-1.04zM12 1h1.04v1.02h-1.04zM14 1h1.04v1.02h-1.04zM20 1h1.04v1.02h-1.04zM24 1h1.04v1.02h-1.04zM28 1h1.04v1.02h-1.04zM30 1h1.04v1.02h-1.04zM32 1h1.04v1.02h-1.04zM39 1h2.04v1.02h-2.04zM47 1h1.04v1.02h-1.04zM82 1h1.04v1.02h-1.04zM94 1h1.04v1.02h-1.04zM102 1h1.04v1.02h-1.04zM22 2h1.04v1.02h-1.04zM30 2h1.04v1.02h-1.04zM33 2h1.04v1.02h-1.04zM35 2h1.04v1.02h-1.04zM44 2h1.04v1.02h-1.04zM53 2h1.04v1.02h-1.04zM55 2h1.04v1.02h-1.04zM62 2h1.04v1.02h-1.04zM68 2h1.04v1.02h-1.04zM80 2h1.04v1.02h-1.04zM87 2h1.04v1.02h-1.04zM92 2h1.04v1.02h-1.04zM102 2h1.04v1.02h-1.04zM113 2h1.04v1.02h-1.04zM35 3h1.04v1.02h-1.04zM60 3h2.04v1.02h-2.04zM75 3h1.04v1.02h-1.04zM78 3h1.04v1.02h-1.04zM84 3h1.04v1.02h-1.04zM87 3h1.04v1.02h-1.04zM91 3h1.04v1.02h-1.04zM100 3h1.04v1.02h-1.04zM115 3h1.04v1.02h-1.04zM74 4h1.04v1.02h-1.04zM78 4h1.04v1.02h-1.04zM87 4h1.04v1.02h-1.04zM89 4h1.04v1.02h-1.04zM91 4h2.04v1.02h-2.04zM98 4h2.04v1.02h-2.04zM104 4h1.04v1.02h-1.04zM108 4h1.04v1.02h-1.04zM61 5h1.04v1.02h-1.04zM65 5h1.04v1.02h-1.04zM87 5h1.04v1.02h-1.04zM89 5h1.04v1.02h-1.04zM91 5h2.04v1.02h-2.04zM95 5h1.04v1.02h-1.04zM103 5h1.04v1.02h-1.04zM108 5h1.04v1.02h-1.04zM110 5h1.04v1.02h-1.04zM115 5h1.04v1.02h-1.04zM34 6h1.04v1.02h-1.04zM76 6h1.04v1.02h-1.04zM80 6h1.04v1.02h-1.04zM100 6h1.04v1.02h-1.04zM104 6h1.04v1.02h-1.04zM108 6h1.04v1.02h-1.04zM0 7h1.04v1.02h-1.04zM75 7h1.04v1.02h-1.04zM82 7h2.04v1.02h-2.04zM87 7h1.04v1.02h-1.04zM91 7h2.04v1.02h-2.04zM98 7h1.04v1.02h-1.04zM108 7h1.04v1.02h-1.04zM110 7h1.04v1.02h-1.04zM61 8h1.04v1.02h-1.04zM74 8h2.04v1.02h-2.04zM77 8h2.04v1.02h-2.04zM80 8h1.04v1.02h-1.04zM83 8h1.04v1.02h-1.04zM97 8h1.04v1.02h-1.04zM99 8h1.04v1.02h-1.04zM103 8h1.04v1.02h-1.04zM106 8h1.04v1.02h-1.04zM110 8h1.04v1.02h-1.04zM115 8h1.04v1.02h-1.04zM5 9h1.04v1.02h-1.04zM24 9h1.04v1.02h-1.04zM40 9h1.04v1.02h-1.04zM75 9h2.04v1.02h-2.04zM79 9h1.04v1.02h-1.04zM83 9h1.04v1.02h-1.04zM99 9h1.04v1.02h-1.04zM101 9h3.04v1.02h-3.04zM105 9h1.04v1.02h-1.04zM111 9h1.04v1.02h-1.04zM22 10h1.04v1.02h-1.04zM24 10h1.04v1.02h-1.04zM28 10h1.04v1.02h-1.04zM30 10h1.04v1.02h-1.04zM35 10h1.04v1.02h-1.04zM74 10h2.04v1.02h-2.04zM82 10h1.04v1.02h-1.04zM91 10h1.04v1.02h-1.04zM96 10h2.04v1.02h-2.04zM115 10h1.04v1.02h-1.04zM13 11h1.04v1.02h-1.04zM20 11h1.04v1.02h-1.04zM27 11h1.04v1.02h-1.04zM30 11h1.04v1.02h-1.04zM41 11h1.04v1.02h-1.04zM82 11h1.04v1.02h-1.04zM89 11h2.04v1.02h-2.04zM100 11h1.04v1.02h-1.04zM102 11h2.04v1.02h-2.04zM105 11h1.04v1.02h-1.04zM108 11h1.04v1.02h-1.04zM1 12h1.04v1.02h-1.04zM24 12h1.04v1.02h-1.04zM77 12h1.04v1.02h-1.04zM82 12h2.04v1.02h-2.04zM89 12h2.04v1.02h-2.04zM92 12h1.04v1.02h-1.04zM98 12h1.04v1.02h-1.04zM102 12h1.04v1.02h-1.04zM106 12h1.04v1.02h-1.04zM115 12h1.04v1.02h-1.04zM20 13h1.04v1.02h-1.04zM22 13h1.04v1.02h-1.04zM31 13h1.04v1.02h-1.04zM61 13h1.04v1.02h-1.04zM74 13h2.04v1.02h-2.04zM83 13h2.04v1.02h-2.04zM87 13h1.04v1.02h-1.04zM89 13h1.04v1.02h-1.04zM91 13h2.04v1.02h-2.04zM94 13h1.04v1.02h-1.04zM103 13h1.04v1.02h-1.04zM106 13h1.04v1.02h-1.04zM111 13h1.04v1.02h-1.04zM115 13h1.04v1.02h-1.04zM76 14h1.04v1.02h-1.04zM82 14h1.04v1.02h-1.04zM84 14h1.04v1.02h-1.04zM100 14h1.04v1.02h-1.04zM105 14h2.04v1.02h-2.04zM108 14h1.04v1.02h-1.04zM110 14h2.04v1.02h-2.04zM0 15h1.04v1.02h-1.04zM13 15h1.04v1.02h-1.04zM19 15h1.04v1.02h-1.04zM31 15h1.04v1.02h-1.04zM78 15h1.04v1.02h-1.04zM83 15h1.04v1.02h-1.04zM89 15h2.04v1.02h-2.04zM97 15h4.04v1.02h-4.04zM105 15h1.04v1.02h-1.04zM19 16h1.04v1.02h-1.04zM31 16h1.04v1.02h-1.04zM55 16h1.04v1.02h-1.04zM84 16h1.04v1.02h-1.04zM87 16h2.04v1.02h-2.04zM96 16h1.04v1.02h-1.04zM105 16h1.04v1.02h-1.04zM112 16h1.04v1.02h-1.04zM10 17h1.04v1.02h-1.04zM21 17h1.04v1.02h-1.04zM34 17h1.04v1.02h-1.04zM41 17h1.04v1.02h-1.04zM88 17h1.04v1.02h-1.04zM97 17h1.04v1.02h-1.04zM109 17h1.04v1.02h-1.04zM114 17h2.04v1.02h-2.04zM13 18h1.04v1.02h-1.04zM17 18h1.04v1.02h-1.04zM30 18h1.04v1.02h-1.04zM41 18h2.04v1.02h-2.04zM75 18h1.04v1.02h-1.04zM86 18h1.04v1.02h-1.04zM94 18h1.04v1.02h-1.04zM96 18h1.04v1.02h-1.04zM98 18h2.04v1.02h-2.04zM107 18h1.04v1.02h-1.04zM110 18h2.04v1.02h-2.04zM5 19h1.04v1.02h-1.04zM9 19h1.04v1.02h-1.04zM27 19h1.04v1.02h-1.04zM30 19h2.04v1.02h-2.04zM35 19h1.04v1.02h-1.04zM60 19h1.04v1.02h-1.04zM63 19h1.04v1.02h-1.04zM66 19h1.04v1.02h-1.04zM71 19h1.04v1.02h-1.04zM74 19h1.04v1.02h-1.04zM81 19h1.04v1.02h-1.04zM87 19h2.04v1.02h-2.04zM104 19h4.04v1.02h-4.04zM3 20h2.04v1.02h-2.04zM6 20h1.04v1.02h-1.04zM9 20h1.04v1.02h-1.04zM20 20h1.04v1.02h-1.04zM27 20h1.04v1.02h-1.04zM74 20h1.04v1.02h-1.04zM77 20h1.04v1.02h-1.04zM79 20h1.04v1.02h-1.04zM88 20h1.04v1.02h-1.04zM95 20h1.04v1.02h-1.04zM100 20h1.04v1.02h-1.04zM106 20h1.04v1.02h-1.04zM109 20h1.04v1.02h-1.04zM115 20h1.04v1.02h-1.04zM14 21h1.04v1.02h-1.04zM42 21h1.04v1.02h-1.04zM61 21h1.04v1.02h-1.04zM65 21h1.04v1.02h-1.04zM74 21h1.04v1.02h-1.04zM87 21h1.04v1.02h-1.04zM103 21h1.04v1.02h-1.04zM0 22h1.04v1.02h-1.04zM2 22h1.04v1.02h-1.04zM18 22h1.04v1.02h-1.04zM24 22h1.04v1.02h-1.04zM42 22h1.04v1.02h-1.04zM65 22h1.04v1.02h-1.04zM68 22h1.04v1.02h-1.04zM74 22h1.04v1.02h-1.04zM81 22h2.04v1.02h-2.04zM84 22h1.04v1.02h-1.04zM92 22h1.04v1.02h-1.04zM106 22h1.04v1.02h-1.04zM5 23h1.04v1.02h-1.04zM7 23h1.04v1.02h-1.04zM19 23h1.04v1.02h-1.04zM22 23h1.04v1.02h-1.04zM53 23h2.04v1.02h-2.04zM77 23h1.04v1.02h-1.04zM79 23h1.04v1.02h-1.04zM88 23h1.04v1.02h-1.04zM99 23h1.04v1.02h-1.04zM111 23h5.04v1.02h-5.04zM6 24h1.04v1.02h-1.04zM13 24h1.04v1.02h-1.04zM18 24h1.04v1.02h-1.04zM27 24h1.04v1.02h-1.04zM54 24h1.04v1.02h-1.04zM88 24h1.04v1.02h-1.04zM110 24h1.04v1.02h-1.04zM112 24h1.04v1.02h-1.04zM22 25h1.04v1.02h-1.04zM54 25h2.04v1.02h-2.04zM72 25h1.04v1.02h-1.04zM76 25h1.04v1.02h-1.04zM79 25h1.04v1.02h-1.04zM104 25h1.04v1.02h-1.04zM6 26h1.04v1.02h-1.04zM20 26h1.04v1.02h-1.04zM30 26h1.04v1.02h-1.04zM38 26h1.04v1.02h-1.04zM40 26h1.04v1.02h-1.04zM48 26h1.04v1.02h-1.04zM52 26h2.04v1.02h-2.04zM55 26h1.04v1.02h-1.04zM61 26h1.04v1.02h-1.04zM68 26h1.04v1.02h-1.04zM89 26h1.04v1.02h-1.04zM95 26h1.04v1.02h-1.04zM111 26h1.04v1.02h-1.04zM54 27h1.04v1.02h-1.04zM62 27h1.04v1.02h-1.04zM74 27h1.04v1.02h-1.04zM88 27h1.04v1.02h-1.04zM96 27h1.04v1.02h-1.04zM110 27h1.04v1.02h-1.04zM115 27h1.04v1.02h-1.04zM39 28h1.04v1.02h-1.04zM53 28h1.04v1.02h-1.04zM57 28h1.04v1.02h-1.04zM66 28h1.04v1.02h-1.04zM72 28h1.04v1.02h-1.04zM77 28h2.04v1.02h-2.04zM87 28h1.04v1.02h-1.04zM92 28h1.04v1.02h-1.04zM94 28h1.04v1.02h-1.04zM105 28h1.04v1.02h-1.04zM112 28h2.04v1.02h-2.04z"/>
<path fill="#f0cccc" d="M7 0h1.04v1.02h-1.04zM18 0h1.04v1.02h-1.04zM20 0h1.04v1.02h-1.04zM26 0h1.04v1.02h-1.04zM28 0h1.04v1.02h-1.04zM38 0h3.04v1.02h-3.04zM60 0h1.04v1.02h-1.04zM63 0h1.04v1.02h-1.04zM69 0h1.04v1.02h-1.04zM71 0h1.04v1.02h-1.04zM77 0h1.04v1.02h-1.04zM80 0h1.04v1.02h-1.04zM87 0h1.04v1.02h-1.04zM98 0h1.04v1.02h-1.04zM110 0h1.04v1.02h-1.04zM18 1h1.04v1.02h-1.04zM22 1h1.04v1.02h-1.04zM34 1h1.04v1.02h-1.04zM43 1h1.04v1.02h-1.04zM55 1h1.04v1.02h-1.04zM81 1h1.04v1.02h-1.04zM101 1h1.04v1.02h-1.04zM106 1h2.04v1.02h-2.04zM109 1h1.04v1.02h-1.04zM0 2h1.04v1.02h-1.04zM14 2h2.04v1.02h-2.04zM17 2h2.04v1.02h-2.04zM23 2h1.04v1.02h-1.04zM25 2h1.04v1.02h-1.04zM29 2h1.04v1.02h-1.04zM47 2h2.04v1.02h-2.04zM54 2h1.04v1.02h-1.04zM58 2h2.04v1.02h-2.04zM63 2h1.04v1.02h-1.04zM66 2h1.04v1.02h-1.04zM70 2h1.04v1.02h-1.04zM81 2h1.04v1.02h-1.04zM93 2h2.04v1.02h-2.04zM99 2h1.04v1.02h-1.04zM107 2h2.04v1.02h-2.04zM110 2h1.04v1.02h-1.04zM6 3h1.04v1.02h-1.04zM13 3h1.04v1.02h-1.04zM20 3h1.04v1.02h-1.04zM25 3h1.04v1.02h-1.04zM28 3h1.04v1.02h-1.04zM30 3h2.04v1.02h-2.04zM47 3h1.04v1.02h-1.04zM51 3h1.04v1.02h-1.04zM72 3h1.04v1.02h-1.04zM86 3h1.04v1.02h-1.04zM89 3h1.04v1.02h-1.04zM92 3h1.04v1.02h-1.04zM94 3h1.04v1.02h-1.04zM97 3h3.04v1.02h-3.04zM102 3h1.04v1.02h-1.04zM104 3h1.04v1.02h-1.04zM106 3h1.04v1.02h-1.04zM34 4h1.04v1.02h-1.04zM36 4h1.04v1.02h-1.04zM53 4h3.04v1.02h-3.04zM62 4h1.04v1.02h-1.04zM65 4h1.04v1.02h-1.04zM75 4h1.04v1.02h-1.04zM77 4h1.04v1.02h-1.04zM80 4h1.04v1.02h-1.04zM83 4h1.04v1.02h-1.04zM112 4h2.04v1.02h-2.04zM4 5h1.04v1.02h-1.04zM12 5h1.04v1.02h-1.04zM22 5h1.04v1.02h-1.04zM28 5h1.04v1.02h-1.04zM34 5h1.04v1.02h-1.04zM36 5h1.04v1.02h-1.04zM41 5h1.04v1.02h-1.04zM47 5h1.04v1.02h-1.04zM51 5h1.04v1.02h-1.04zM75 5h1.04v1.02h-1.04zM77 5h1.04v1.02h-1.04zM90 5h1.04v1.02h-1.04zM93 5h1.04v1.02h-1.04zM98 5h2.04v1.02h-2.04zM104 5h1.04v1.02h-1.04zM112 5h2.04v1.02h-2.04zM0 6h1.04v1.02h-1.04zM7 6h1.04v1.02h-1.04zM13 6h1.04v1.02h-1.04zM18 6h1.04v1.02h-1.04zM30 6h1.04v1.02h-1.04zM47 6h1.04v1.02h-1.04zM55 6h1.04v1.02h-1.04zM61 6h1.04v1.02h-1.04zM65 6h2.04v1.02h-2.04zM71 6h2.04v1.02h-2.04zM74 6h2.04v1.02h-2.04zM77 6h2.04v1.02h-2.04zM82 6h1.04v1.02h-1.04zM88 6h1.04v1.02h-1.04zM93 6h1.04v1.02h-1.04zM99 6h1.04v1.02h-1.04zM113 6h1.04v1.02h-1.04zM4 7h1.04v1.02h-1.04zM13 7h1.04v1.02h-1.04zM19 7h1.04v1.02h-1.04zM24 7h1.04v1.02h-1.04zM30 7h2.04v1.02h-2.04zM35 7h1.04v1.02h-1.04zM61 7h1.04v1.02h-1.04zM65 7h1.04v1.02h-1.04zM74 7h1.04v1.02h-1.04zM77 7h1.04v1.02h-1.04zM80 7h1.04v1.02h-1.04zM89 7h2.04v1.02h-2.04zM99 7h2.04v1.02h-2.04zM113 7h1.04v1.02h-1.04zM7 8h1.04v1.02h-1.04zM13 8h1.04v1.02h-1.04zM19 8h1.04v1.02h-1.04zM24 8h1.04v1.02h-1.04zM27 8h1.04v1.02h-1.04zM30 8h1.04v1.02h-1.04zM35 8h1.04v1.02h-1.04zM65 8h1.04v1.02h-1.04zM93 8h1.04v1.02h-1.04zM95 8h1.04v1.02h-1.04zM98 8h1.04v1.02h-1.04zM104 8h1.04v1.02h-1.04zM108 8h1.04v1.02h-1.04zM0 9h2.04v1.02h-2.04zM4 9h1.04v1.02h-1.04zM25 9h1.04v1.02h-1.04zM31 9h1.04v1.02h-1.04zM42 9h1.04v1.02h-1.04zM47 9h1.04v1.02h-1.04zM57 9h1.04v1.02h-1.04zM100 9h1.04v1.02h-1.04zM0 10h1.04v1.02h-1.04zM6 10h2.04v1.02h-2.04zM9 10h2.04v1.02h-2.04zM14 10h1.04v1.02h-1.04zM18 10h1.04v1.02h-1.04zM34 10h1.04v1.02h-1.04zM60 10h1.04v1.02h-1.04zM71 10h1.04v1.02h-1.04zM80 10h1.04v1.02h-1.04zM86 10h1.04v1.02h-1.04zM89 10h2.04v1.02h-2.04zM93 10h1.04v1.02h-1.04zM103 10h1.04v1.02h-1.04zM105 10h2.04v1.02h-2.04zM110 10h1.04v1.02h-1.04zM0 11h1.04v1.02h-1.04zM4 11h1.04v1.02h-1.04zM9 11h1.04v1.02h-1.04zM19 11h1.04v1.02h-1.04zM28 11h1.04v1.02h-1.04zM32 11h1.04v1.02h-1.04zM35 11h1.04v1.02h-1.04zM61 11h1.04v1.02h-1.04zM74 11h1.04v1.02h-1.04zM78 11h1.04v1.02h-1.04zM80 11h1.04v1.02h-1.04zM83 11h1.04v1.02h-1.04zM92 11h2.04v1.02h-2.04zM106 11h1.04v1.02h-1.04zM110 11h1.04v1.02h-1.04zM7 12h1.04v1.02h-1.04zM14 12h1.04v1.02h-1.04zM19 12h2.04v1.02h-2.04zM28 12h1.04v1.02h-1.04zM30 12h2.04v1.02h-2.04zM34 12h2.04v1.02h-2.04zM71 12h2.04v1.02h-2.04zM74 12h1.04v1.02h-1.04zM78 12h1.04v1.02h-1.04zM80 12h1.04v1.02h-1.04zM91 12h1.04v1.02h-1.04zM93 12h1.04v1.02h-1.04zM95 12h1.04v1.02h-1.04zM108 12h1.04v1.02h-1.04zM2 13h3.04v1.02h-3.04zM12 13h1.04v1.02h-1.04zM14 13h3.04v1.02h-3.04zM24 13h1.04v1.02h-1.04zM29 13h2.04v1.02h-2.04zM40 13h1.04v1.02h-1.04zM65 13h1.04v1.02h-1.04zM77 13h1.04v1.02h-1.04zM82 13h1.04v1.02h-1.04zM95 13h1.04v1.02h-1.04zM102 13h1.04v1.02h-1.04zM113 13h1.04v1.02h-1.04zM0 14h1.04v1.02h-1.04zM26 14h1.04v1.02h-1.04zM31 14h2.04v1.02h-2.04zM34 14h1.04v1.02h-1.04zM38 14h1.04v1.02h-1.04zM40 14h1.04v1.02h-1.04zM61 14h1.04v1.02h-1.04zM75 14h1.04v1.02h-1.04zM80 14h1.04v1.02h-1.04zM88 14h4.04v1.02h-4.04zM95 14h1.04v1.02h-1.04zM97 14h1.04v1.02h-1.04zM113 14h1.04v1.02h-1.04zM24 15h1.04v1.02h-1.04zM30 15h1.04v1.02h-1.04zM38 15h1.04v1.02h-1.04zM40 15h1.04v1.02h-1.04zM55 15h1.04v1.02h-1.04zM74 15h1.04v1.02h-1.04zM77 15h1.04v1.02h-1.04zM80 15h1.04v1.02h-1.04zM87 15h1.04v1.02h-1.04zM95 15h2.04v1.02h-2.04zM112 15h1.04v1.02h-1.04zM0 16h1.04v1.02h-1.04zM13 16h1.04v1.02h-1.04zM22 16h1.04v1.02h-1.04zM24 16h1.04v1.02h-1.04zM27 16h1.04v1.02h-1.04zM30 16h1.04v1.02h-1.04zM38 16h1.04v1.02h-1.04zM47 16h1.04v1.02h-1.04zM74 16h1.04v1.02h-1.04zM77 16h1.04v1.02h-1.04zM80 16h1.04v1.02h-1.04zM95 16h1.04v1.02h-1.04zM97 16h1.04v1.02h-1.04zM99 16h2.04v1.02h-2.04zM3 17h1.04v1.02h-1.04zM7 17h1.04v1.02h-1.04zM23 17h1.04v1.02h-1.04zM33 17h1.04v1.02h-1.04zM35 17h1.04v1.02h-1.04zM38 17h1.04v1.02h-1.04zM53 17h1.04v1.02h-1.04zM79 17h1.04v1.02h-1.04zM86 17h1.04v1.02h-1.04zM89 17h1.04v1.02h-1.04zM103 17h1.04v1.02h-1.04zM105 17h2.04v1.02h-2.04zM111 17h1.04v1.02h-1.04zM7 18h1.04v1.02h-1.04zM9 18h2.04v1.02h-2.04zM12 18h1.04v1.02h-1.04zM14 18h1.04v1.02h-1.04zM18 18h1.04v1.02h-1.04zM36 18h1.04v1.02h-1.04zM38 18h1.04v1.02h-1.04zM45 18h1.04v1.02h-1.04zM57 18h1.04v1.02h-1.04zM77 18h1.04v1.02h-1.04zM84 18h1.04v1.02h-1.04zM95 18h1.04v1.02h-1.04zM104 18h1.04v1.02h-1.04zM113 18h1.04v1.02h-1.04zM0 19h1.04v1.02h-1.04zM4 19h1.04v1.02h-1.04zM10 19h1.04v1.02h-1.04zM15 19h1.04v1.02h-1.04zM20 19h1.04v1.02h-1.04zM26 19h1.04v1.02h-1.04zM58 19h1.04v1.02h-1.04zM72 19h1.04v1.02h-1.04zM76 19h3.04v1.02h-3.04zM83 19h1.04v1.02h-1.04zM90 19h1.04v1.02h-1.04zM92 19h3.04v1.02h-3.04zM100 19h1.04v1.02h-1.04zM113 19h1.04v1.02h-1.04zM14 20h2.04v1.02h-2.04zM29 20h1.04v1.02h-1.04zM42 20h1.04v1.02h-1.04zM51 20h1.04v1.02h-1.04zM68 20h1.04v1.02h-1.04zM90 20h1.04v1.02h-1.04zM92 20h1.04v1.02h-1.04zM101 20h2.04v1.02h-2.04zM110 20h1.04v1.02h-1.04zM2 21h2.04v1.02h-2.04zM5 21h1.04v1.02h-1.04zM17 21h1.04v1.02h-1.04zM24 21h1.04v1.02h-1.04zM52 21h1.04v1.02h-1.04zM66 21h1.04v1.02h-1.04zM77 21h1.04v1.02h-1.04zM80 21h1.04v1.02h-1.04zM82 21h1.04v1.02h-1.04zM86 21h1.04v1.02h-1.04zM88 21h1.04v1.02h-1.04zM92 21h1.04v1.02h-1.04zM102 21h1.04v1.02h-1.04zM115 21h1.04v1.02h-1.04zM3 22h1.04v1.02h-1.04zM14 22h1.04v1.02h-1.04zM17 22h1.04v1.02h-1.04zM70 22h1.04v1.02h-1.04zM80 22h1.04v1.02h-1.04zM86 22h2.04v1.02h-2.04zM102 22h1.04v1.02h-1.04zM110 22h1.04v1.02h-1.04zM115 22h1.04v1.02h-1.04zM4 23h1.04v1.02h-1.04zM17 23h1.04v1.02h-1.04zM30 23h1.04v1.02h-1.04zM32 23h1.04v1.02h-1.04zM34 23h1.04v1.02h-1.04zM43 23h1.04v1.02h-1.04zM55 23h1.04v1.02h-1.04zM57 23h1.04v1.02h-1.04zM65 23h2.04v1.02h-2.04zM70 23h1.04v1.02h-1.04zM74 23h1.04v1.02h-1.04zM76 23h1.04v1.02h-1.04zM84 23h2.04v1.02h-2.04zM0 24h1.04v1.02h-1.04zM11 24h1.04v1.02h-1.04zM19 24h1.04v1.02h-1.04zM22 24h1.04v1.02h-1.04zM30 24h3.04v1.02h-3.04zM47 24h1.04v1.02h-1.04zM63 24h1.04v1.02h-1.04zM76 24h2.04v1.02h-2.04zM80 24h1.04v1.02h-1.04zM87 24h1.04v1.02h-1.04zM93 24h1.04v1.02h-1.04zM106 24h1.04v1.02h-1.04zM0 25h1.04v1.02h-1.04zM13 25h1.04v1.02h-1.04zM18 25h1.04v1.02h-1.04zM31 25h1.04v1.02h-1.04zM34 25h1.04v1.02h-1.04zM47 25h1.04v1.02h-1.04zM65 25h2.04v1.02h-2.04zM68 25h1.04v1.02h-1.04zM77 25h1.04v1.02h-1.04zM83 25h1.04v1.02h-1.04zM87 25h1.04v1.02h-1.04zM89 25h2.04v1.02h-2.04zM96 25h1.04v1.02h-1.04zM13 26h1.04v1.02h-1.04zM19 26h1.04v1.02h-1.04zM21 26h1.04v1.02h-1.04zM26 26h2.04v1.02h-2.04zM31 26h1.04v1.02h-1.04zM43 26h1.04v1.02h-1.04zM50 26h2.04v1.02h-2.04zM65 26h1.04v1.02h-1.04zM71 26h2.04v1.02h-2.04zM79 26h1.04v1.02h-1.04zM85 26h2.04v1.02h-2.04zM99 26h1.04v1.02h-1.04zM101 26h1.04v1.02h-1.04zM110 26h1.04v1.02h-1.04zM2 27h1.04v1.02h-1.04zM43 27h1.04v1.02h-1.04zM47 27h1.04v1.02h-1.04zM57 27h1.04v1.02h-1.04zM61 27h1.04v1.02h-1.04zM66 27h1.04v1.02h-1.04zM71 27h1.04v1.02h-1.04zM73 27h1.04v1.02h-1.04zM76 27h1.04v1.02h-1.04zM84 27h1.04v1.02h-1.04zM87 27h1.04v1.02h-1.04zM90 27h1.04v1.02h-1.04zM98 27h1.04v1.02h-1.04zM103 27h2.04v1.02h-2.04zM112 27h2.04v1.02h-2.04zM6 28h2.04v1.02h-2.04zM27 28h3.04v1.02h-3.04zM50 28h1.04v1.02h-1.04zM54 28h1.04v1.02h-1.04zM70 28h1.04v1.02h-1.04zM75 28h1.04v1.02h-1.04zM89 28h1.04v1.02h-1.04zM103 28h1.04v1.02h-1.04zM106 28h1.04v1.02h-1.04z"/>
<path fill="#f0f0fd" d="M5 0h1.04v1.02h-1.04zM22 0h1.04v1.02h-1.04zM24 0h2.04v1.02h-2.04zM43 0h1.04v1.02h-1.04zM45 0h1.04v1.02h-1.04zM56 0h1.04v1.02h-1.04zM84 0h1.04v1.02h-1.04zM109 0h1.04v1.02h-1.04zM4 1h2.04v1.02h-2.04zM7 1h1.04v1.02h-1.04zM9 1h1.04v1.02h-1.04zM59 1h2.04v1.02h-2.04zM75 1h2.04v1.02h-2.04zM79 1h1.04v1.02h-1.04zM87 1h1.04v1.02h-1.04zM93 1h1.04v1.02h-1.04zM104 1h1.04v1.02h-1.04zM111 1h1.04v1.02h-1.04zM20 2h1.04v1.02h-1.04zM24 2h1.04v1.02h-1.04zM71 2h1.04v1.02h-1.04zM114 2h1.04v1.02h-1.04zM10 3h1.04v1.02h-1.04zM33 3h1.04v1.02h-1.04zM41 3h2.04v1.02h-2.04zM66 3h1.04v1.02h-1.04zM68 3h1.04v1.02h-1.04zM103 3h1.04v1.02h-1.04zM113 3h1.04v1.02h-1.04zM32 4h1.04v1.02h-1.04zM38 4h1.04v1.02h-1.04zM72 4h2.04v1.02h-2.04zM86 4h1.04v1.02h-1.04zM5 5h1.04v1.02h-1.04zM7 5h1.04v1.02h-1.04zM16 5h1.04v1.02h-1.04zM18 5h1.04v1.02h-1.04zM24 5h1.04v1.02h-1.04zM31 5h1.04v1.02h-1.04zM38 5h1.04v1.02h-1.04zM54 5h1.04v1.02h-1.04zM60 5h1.04v1.02h-1.04zM66 5h1.04v1.02h-1.04zM71 5h1.04v1.02h-1.04zM4 6h1.04v1.02h-1.04zM14 6h1.04v1.02h-1.04zM32 6h1.04v1.02h-1.04zM51 6h1.04v1.02h-1.04zM68 6h1.04v1.02h-1.04zM89 6h1.04v1.02h-1.04zM112 6h1.04v1.02h-1.04zM22 7h1.04v1.02h-1.04zM27 7h2.04v1.02h-2.04zM41 7h1.04v1.02h-1.04zM51 7h1.04v1.02h-1.04zM55 7h1.04v1.02h-1.04zM93 7h1.04v1.02h-1.04zM95 7h1.04v1.02h-1.04zM112 7h1.04v1.02h-1.04zM12 8h1.04v1.02h-1.04zM14 8h1.04v1.02h-1.04zM34 8h1.04v1.02h-1.04zM47 8h1.04v1.02h-1.04zM55 8h1.04v1.02h-1.04zM60 8h1.04v1.02h-1.04zM62 8h1.04v1.02h-1.04zM72 8h1.04v1.02h-1.04zM90 8h1.04v1.02h-1.04zM112 8h1.04v1.02h-1.04zM9 9h1.04v1.02h-1.04zM22 9h1.04v1.02h-1.04zM36 9h1.04v1.02h-1.04zM51 9h1.04v1.02h-1.04zM55 9h1.04v1.02h-1.04zM61 9h1.04v1.02h-1.04zM68 9h1.04v1.02h-1.04zM89 9h1.04v1.02h-1.04zM96 9h1.04v1.02h-1.04zM5 10h1.04v1.02h-1.04zM25 10h1.04v1.02h-1.04zM27 10h1.04v1.02h-1.04zM55 10h1.04v1.02h-1.04zM61 10h2.04v1.02h-2.04zM98 10h1.04v1.02h-1.04zM104 10h1.04v1.02h-1.04zM3 11h1.04v1.02h-1.04zM7 11h1.04v1.02h-1.04zM40 11h1.04v1.02h-1.04zM42 11h1.04v1.02h-1.04zM63 11h1.04v1.02h-1.04zM68 11h1.04v1.02h-1.04zM71 11h1.04v1.02h-1.04zM77 11h1.04v1.02h-1.04zM99 11h1.04v1.02h-1.04zM113 11h1.04v1.02h-1.04zM4 12h1.04v1.02h-1.04zM27 12h1.04v1.02h-1.04zM40 12h1.04v1.02h-1.04zM55 12h1.04v1.02h-1.04zM60 12h2.04v1.02h-2.04zM63 12h1.04v1.02h-1.04zM9 13h2.04v1.02h-2.04zM13 13h1.04v1.02h-1.04zM19 13h1.04v1.02h-1.04zM32 13h1.04v1.02h-1.04zM51 13h1.04v1.02h-1.04zM68 13h1.04v1.02h-1.04zM71 13h1.04v1.02h-1.04zM93 13h1.04v1.02h-1.04zM96 13h1.04v1.02h-1.04zM99 13h1.04v1.02h-1.04zM1 14h1.04v1.02h-1.04zM9 14h1.04v1.02h-1.04zM14 14h1.04v1.02h-1.04zM17 14h2.04v1.02h-2.04zM20 14h1.04v1.02h-1.04zM27 14h1.04v1.02h-1.04zM43 14h1.04v1.02h-1.04zM60 14h1.04v1.02h-1.04zM65 14h1.04v1.02h-1.04zM68 14h1.04v1.02h-1.04zM72 14h1.04v1.02h-1.04zM93 14h1.04v1.02h-1.04zM104 14h1.04v1.02h-1.04zM112 14h1.04v1.02h-1.04zM2 15h1.04v1.02h-1.04zM12 15h1.04v1.02h-1.04zM27 15h2.04v1.02h-2.04zM32 15h1.04v1.02h-1.04zM43 15h1.04v1.02h-1.04zM47 15h1.04v1.02h-1.04zM53 15h1.04v1.02h-1.04zM60 15h1.04v1.02h-1.04zM68 15h1.04v1.02h-1.04zM72 15h1.04v1.02h-1.04zM93 15h1.04v1.02h-1.04zM28 16h1.04v1.02h-1.04zM35 16h1.04v1.02h-1.04zM41 16h1.04v1.02h-1.04zM43 16h1.04v1.02h-1.04zM60 16h1.04v1.02h-1.04zM62 16h1.04v1.02h-1.04zM68 16h1.04v1.02h-1.04zM72 16h1.04v1.02h-1.04zM75 16h1.04v1.02h-1.04zM104 16h1.04v1.02h-1.04zM6 17h1.04v1.02h-1.04zM28 17h1.04v1.02h-1.04zM49 17h1.04v1.02h-1.04zM104 17h1.04v1.02h-1.04zM113 17h1.04v1.02h-1.04zM2 18h1.04v1.02h-1.04zM20 18h1.04v1.02h-1.04zM22 18h1.04v1.02h-1.04zM24 18h1.04v1.02h-1.04zM37 18h1.04v1.02h-1.04zM46 18h2.04v1.02h-2.04zM74 18h1.04v1.02h-1.04zM115 18h1.04v1.02h-1.04zM22 19h1.04v1.02h-1.04zM38 19h1.04v1.02h-1.04zM55 19h1.04v1.02h-1.04zM61 19h1.04v1.02h-1.04zM65 19h1.04v1.02h-1.04zM28 20h1.04v1.02h-1.04zM62 20h2.04v1.02h-2.04zM76 20h1.04v1.02h-1.04zM113 20h1.04v1.02h-1.04zM16 21h1.04v1.02h-1.04zM32 21h1.04v1.02h-1.04zM57 21h1.04v1.02h-1.04zM83 21h1.04v1.02h-1.04zM93 21h1.04v1.02h-1.04zM104 21h1.04v1.02h-1.04zM108 21h1.04v1.02h-1.04zM5 22h1.04v1.02h-1.04zM98 22h1.04v1.02h-1.04zM108 22h1.04v1.02h-1.04zM10 23h1.04v1.02h-1.04zM16 23h1.04v1.02h-1.04zM18 23h1.04v1.02h-1.04zM31 23h1.04v1.02h-1.04zM33 23h1.04v1.02h-1.04zM38 23h1.04v1.02h-1.04zM50 23h1.04v1.02h-1.04zM60 23h1.04v1.02h-1.04zM63 23h1.04v1.02h-1.04zM69 23h1.04v1.02h-1.04zM73 23h1.04v1.02h-1.04zM82 23h2.04v1.02h-2.04zM104 23h1.04v1.02h-1.04zM37 24h1.04v1.02h-1.04zM45 24h1.04v1.02h-1.04zM62 24h1.04v1.02h-1.04zM68 24h1.04v1.02h-1.04zM104 24h1.04v1.02h-1.04zM32 25h1.04v1.02h-1.04zM35 25h1.04v1.02h-1.04zM60 25h4.04v1.02h-4.04zM74 25h2.04v1.02h-2.04zM105 25h1.04v1.02h-1.04zM4 26h2.04v1.02h-2.04zM33 26h2.04v1.02h-2.04zM62 26h1.04v1.02h-1.04zM88 26h1.04v1.02h-1.04zM93 26h1.04v1.02h-1.04zM98 26h1.04v1.02h-1.04zM100 26h1.04v1.02h-1.04zM13 27h1.04v1.02h-1.04zM34 27h1.04v1.02h-1.04zM40 27h1.04v1.02h-1.04zM58 27h1.04v1.02h-1.04zM60 27h1.04v1.02h-1.04zM63 27h2.04v1.02h-2.04zM75 27h1.04v1.02h-1.04zM77 27h1.04v1.02h-1.04zM80 27h1.04v1.02h-1.04zM106 27h1.04v1.02h-1.04zM18 28h1.04v1.02h-1.04zM30 28h1.04v1.02h-1.04zM42 28h2.04v1.02h-2.04zM63 28h1.04v1.02h-1.04zM68 28h1.04v1.02h-1.04zM76 28h1.04v1.02h-1.04zM93 28h1.04v1.02h-1.04z"/>
<path fill="#f9ebeb" d="M36 0h1.04v1.02h-1.04zM57 0h1.04v1.02h-1.04zM72 0h1.04v1.02h-1.04zM75 0h1.04v1.02h-1.04zM100 0h1.04v1.02h-1.04zM103 0h1.04v1.02h-1.04zM106 0h1.04v1.02h-1.04zM112 0h1.04v1.02h-1.04zM3 1h1.04v1.02h-1.04zM29 1h1.04v1.02h-1.04zM51 1h1.04v1.02h-1.04zM53 1h1.04v1.02h-1.04zM58 1h1.04v1.02h-1.04zM86 1h1.04v1.02h-1.04zM100 1h1.04v1.02h-1.04zM113 1h1.04v1.02h-1.04zM7 2h1.04v1.02h-1.04zM28 2h1.04v1.02h-1.04zM34 2h1.04v1.02h-1.04zM49 2h2.04v1.02h-2.04zM52 2h1.04v1.02h-1.04zM57 2h1.04v1.02h-1.04zM60 2h1.04v1.02h-1.04zM72 2h1.04v1.02h-1.04zM77 2h1.04v1.02h-1.04zM104 2h1.04v1.02h-1.04zM111 2h1.04v1.02h-1.04zM4 3h1.04v1.02h-1.04zM24 3h1.04v1.02h-1.04zM27 3h1.04v1.02h-1.04zM36 3h1.04v1.02h-1.04zM40 3h1.04v1.02h-1.04zM49 3h1.04v1.02h-1.04zM58 3h1.04v1.02h-1.04zM74 3h1.04v1.02h-1.04zM90 3h1.04v1.02h-1.04zM95 3h1.04v1.02h-1.04zM108 3h1.04v1.02h-1.04zM112 3h1.04v1.02h-1.04zM18 4h1.04v1.02h-1.04zM27 4h1.04v1.02h-1.04zM61 4h1.04v1.02h-1.04zM66 4h1.04v1.02h-1.04zM82 4h1.04v1.02h-1.04zM90 4h1.04v1.02h-1.04zM93 4h1.04v1.02h-1.04zM13 5h1.04v1.02h-1.04zM27 5h1.04v1.02h-1.04zM42 5h1.04v1.02h-1.04zM53 5h1.04v1.02h-1.04zM55 5h1.04v1.02h-1.04zM62 5h1.04v1.02h-1.04zM72 5h1.04v1.02h-1.04zM74 5h1.04v1.02h-1.04zM82 5h1.04v1.02h-1.04zM12 6h1.04v1.02h-1.04zM24 6h1.04v1.02h-1.04zM28 6h1.04v1.02h-1.04zM31 6h1.04v1.02h-1.04zM53 6h2.04v1.02h-2.04zM60 6h1.04v1.02h-1.04zM90 6h1.04v1.02h-1.04zM12 7h1.04v1.02h-1.04zM14 7h1.04v1.02h-1.04zM18 7h1.04v1.02h-1.04zM20 7h1.04v1.02h-1.04zM40 7h1.04v1.02h-1.04zM60 7h1.04v1.02h-1.04zM68 7h1.04v1.02h-1.04zM4 8h1.04v1.02h-1.04zM18 8h1.04v1.02h-1.04zM31 8h1.04v1.02h-1.04zM51 8h1.04v1.02h-1.04zM68 8h1.04v1.02h-1.04zM113 8h1.04v1.02h-1.04zM10 9h1.04v1.02h-1.04zM13 9h2.04v1.02h-2.04zM19 9h1.04v1.02h-1.04zM34 9h2.04v1.02h-2.04zM38 9h1.04v1.02h-1.04zM64 9h1.04v1.02h-1.04zM77 9h1.04v1.02h-1.04zM80 9h1.04v1.02h-1.04zM82 9h1.04v1.02h-1.04zM91 9h2.04v1.02h-2.04zM95 9h1.04v1.02h-1.04zM112 9h1.04v1.02h-1.04zM13 10h1.04v1.02h-1.04zM20 10h1.04v1.02h-1.04zM31 10h1.04v1.02h-1.04zM99 10h1.04v1.02h-1.04zM108 10h1.04v1.02h-1.04zM113 10h1.04v1.02h-1.04zM1 11h1.04v1.02h-1.04zM5 11h1.04v1.02h-1.04zM12 11h1.04v1.02h-1.04zM14 11h1.04v1.02h-1.04zM18 11h1.04v1.02h-1.04zM60 11h1.04v1.02h-1.04zM97 11h1.04v1.02h-1.04zM104 11h1.04v1.02h-1.04zM112 11h1.04v1.02h-1.04zM0 12h1.04v1.02h-1.04zM12 12h2.04v1.02h-2.04zM15 12h1.04v1.02h-1.04zM18 12h1.04v1.02h-1.04zM22 12h1.04v1.02h-1.04zM32 12h1.04v1.02h-1.04zM97 12h1.04v1.02h-1.04zM104 12h1.04v1.02h-1.04zM113 12h1.04v1.02h-1.04zM18 13h1.04v1.02h-1.04zM41 13h1.04v1.02h-1.04zM55 13h1.04v1.02h-1.04zM90 13h1.04v1.02h-1.04zM100 13h1.04v1.02h-1.04zM110 13h1.04v1.02h-1.04zM12 14h2.04v1.02h-2.04zM47 14h1.04v1.02h-1.04zM71 14h1.04v1.02h-1.04zM87 14h1.04v1.02h-1.04zM99 14h1.04v1.02h-1.04zM22 15h1.04v1.02h-1.04zM54 15h1.04v1.02h-1.04zM61 15h1.04v1.02h-1.04zM65 15h1.04v1.02h-1.04zM75 15h1.04v1.02h-1.04zM104 15h1.04v1.02h-1.04zM12 16h1.04v1.02h-1.04zM18 16h1.04v1.02h-1.04zM32 16h1.04v1.02h-1.04zM40 16h1.04v1.02h-1.04zM54 16h1.04v1.02h-1.04zM78 16h1.04v1.02h-1.04zM93 16h1.04v1.02h-1.04zM0 17h1.04v1.02h-1.04zM5 17h1.04v1.02h-1.04zM19 17h1.04v1.02h-1.04zM24 17h1.04v1.02h-1.04zM42 17h1.04v1.02h-1.04zM54 17h2.04v1.02h-2.04zM91 17h1.04v1.02h-1.04zM95 17h1.04v1.02h-1.04zM0 18h1.04v1.02h-1.04zM3 18h1.04v1.02h-1.04zM31 18h1.04v1.02h-1.04zM39 18h1.04v1.02h-1.04zM54 18h1.04v1.02h-1.04zM102 18h2.04v1.02h-2.04zM105 18h2.04v1.02h-2.04zM1 19h1.04v1.02h-1.04zM12 19h1.04v1.02h-1.04zM42 19h1.04v1.02h-1.04zM49 19h1.04v1.02h-1.04zM57 19h1.04v1.02h-1.04zM62 19h1.04v1.02h-1.04zM68 19h1.04v1.02h-1.04zM80 19h1.04v1.02h-1.04zM114 19h2.04v1.02h-2.04zM0 20h1.04v1.02h-1.04zM25 20h1.04v1.02h-1.04zM31 20h1.04v1.02h-1.04zM36 20h1.04v1.02h-1.04zM60 20h1.04v1.02h-1.04zM87 20h1.04v1.02h-1.04zM96 20h1.04v1.02h-1.04zM99 20h1.04v1.02h-1.04zM103 20h2.04v1.02h-2.04zM108 20h1.04v1.02h-1.04zM1 21h1.04v1.02h-1.04zM4 21h1.04v1.02h-1.04zM10 21h1.04v1.02h-1.04zM18 21h1.04v1.02h-1.04zM31 21h1.04v1.02h-1.04zM46 21h1.04v1.02h-1.04zM60 21h1.04v1.02h-1.04zM68 21h1.04v1.02h-1.04zM4 22h1.04v1.02h-1.04zM31 22h1.04v1.02h-1.04zM34 22h2.04v1.02h-2.04zM60 22h1.04v1.02h-1.04zM62 22h1.04v1.02h-1.04zM66 22h1.04v1.02h-1.04zM103 22h1.04v1.02h-1.04zM20 23h1.04v1.02h-1.04zM25 23h3.04v1.02h-3.04zM36 23h1.04v1.02h-1.04zM105 23h1.04v1.02h-1.04zM110 23h1.04v1.02h-1.04zM3 24h1.04v1.02h-1.04zM25 24h1.04v1.02h-1.04zM34 24h1.04v1.02h-1.04zM53 24h1.04v1.02h-1.04zM58 24h1.04v1.02h-1.04zM72 24h1.04v1.02h-1.04zM91 24h1.04v1.02h-1.04zM96 24h2.04v1.02h-2.04zM99 24h1.04v1.02h-1.04zM27 25h1.04v1.02h-1.04zM38 25h1.04v1.02h-1.04zM53 25h1.04v1.02h-1.04zM78 25h1.04v1.02h-1.04zM99 25h2.04v1.02h-2.04zM10 26h1.04v1.02h-1.04zM23 26h1.04v1.02h-1.04zM28 26h2.04v1.02h-2.04zM32 26h1.04v1.02h-1.04zM59 26h1.04v1.02h-1.04zM91 26h1.04v1.02h-1.04zM7 27h1.04v1.02h-1.04zM18 27h1.04v1.02h-1.04zM23 27h1.04v1.02h-1.04zM32 27h1.04v1.02h-1.04zM65 27h1.04v1.02h-1.04zM70 27h1.04v1.02h-1.04zM91 27h1.04v1.02h-1.04zM2 28h1.04v1.02h-1.04zM34 28h1.04v1.02h-1.04zM41 28h1.04v1.02h-1.04zM44 28h2.04v1.02h-2.04zM49 28h1.04v1.02h-1.04zM52 28h1.04v1.02h-1.04zM55 28h1.04v1.02h-1.04zM62 28h1.04v1.02h-1.04zM74 28h1.04v1.02h-1.04zM88 28h1.04v1.02h-1.04zM95 28h1.04v1.02h-1.04z"/>
</g></g>
<text x="1515.3" y="1403.5" font-size="10.5">Neutrophils</text>
<text x="1515.3" y="1417" font-size="10.5">Mast_cells</text>
<text x="1515.3" y="1430.6" font-size="10.5">Type_II_IFN_Reponse</text>
<text x="1515.3" y="1444.1" font-size="10.5">APC_co_inhibition</text>
<text x="1515.3" y="1457.7" font-size="10.5">CD8+_T_cells</text>
<text x="1515.3" y="1471.2" font-size="10.5">Cytolytic_activity</text>
<text x="1515.3" y="1484.8" font-size="10.5">Inflammation−promoting</text>
<text x="1515.3" y="1498.3" font-size="10.5">Check−point</text>
<text x="1515.3" y="1511.9" font-size="10.5">T_cell_co−inhibition</text>
<text x="1515.3" y="1525.4" font-size="10.5">HLA</text>
<text x="1515.3" y="1539" font-size="10.5">Treg</text>
<text x="1515.3" y="1552.5" font-size="10.5">CCR</text>
<text x="1515.3" y="1566.1" font-size="10.5">Th1_cells</text>
<text x="1515.3" y="1579.6" font-size="10.5">APC_co_stimulation</text>
<text x="1515.3" y="1593.2" font-size="10.5">pDCs</text>
<text x="1515.3" y="1606.7" font-size="10.5">T_cell_co−stimulation</text>
<text x="1515.3" y="1620.3" font-size="10.5">TIL</text>
<text x="1515.3" y="1633.8" font-size="10.5">NK_cells</text>
<text x="1515.3" y="1647.4" font-size="10.5">T_helper_cells</text>
<text x="1515.3" y="1660.9" font-size="10.5">DCs</text>
<text x="1515.3" y="1674.5" font-size="10.5">Macrophages</text>
<text x="1515.3" y="1688" font-size="10.5">Parainflammation</text>
<text x="1515.3" y="1701.6" font-size="10.5">Type_I_IFN_Reponse</text>
<text x="1515.3" y="1715.1" font-size="10.5">Th2_cells</text>
<text x="1515.3" y="1728.7" font-size="10.5">B_cells</text>
<text x="1515.3" y="1742.2" font-size="10.5">Tfh</text>
<text x="1515.3" y="1755.8" font-size="10.5">iDCs</text>
<text x="1515.3" y="1769.3" font-size="10.5">aDCs</text>
<text x="1515.3" y="1782.9" font-size="10.5">MHC_class_I</text>
<path d="M998.9 1413.2H959.4V1426.8H998.9M998.9 1399.7H954.7V1420H959.4M998.9 1494.5H984.9V1508.1H998.9M998.9 1481H981.4V1501.3H984.9M998.9 1467.4H977.9V1491.1H981.4M998.9 1453.9H972.8V1479.3H977.9M998.9 1440.3H968.2V1466.6H972.8M998.9 1548.7H983V1562.3H998.9M998.9 1535.2H977.4V1555.5H983M998.9 1602.9H988.8V1616.5H998.9M998.9 1589.4H979.5V1609.7H988.8M998.9 1575.8H972.8V1599.5H979.5M977.4 1545.3H971V1587.7H972.8M998.9 1521.6H964.7V1566.5H971M968.2 1453.5H963.3V1544.1H964.7M998.9 1630H958.7V1643.6H998.9M963.3 1498.8H955.9V1636.8H958.7M998.9 1684.2H977.9V1697.8H998.9M998.9 1670.7H961.2V1691H977.9M998.9 1657.1H951.7V1680.8H961.2M955.9 1567.8H949.7V1669H951.7M998.9 1724.9H973.7V1738.4H998.9M998.9 1711.3H957.8V1731.7H973.7M998.9 1765.5H959.8V1779.1H998.9M998.9 1752H950.8V1772.3H959.8M957.8 1721.5H947.3V1762.1H950.8M949.7 1618.4H942.7V1741.8H947.3M954.7 1409.8H929.7V1680.1H942.7" fill="none" stroke="#1c1c1c" stroke-width="1.25"/>
<defs><linearGradient id="fg" x1="0" y1="0" x2="0" y2="1">
<stop offset="0" stop-color="#db0000"/>
<stop offset="0.35" stop-color="#db0000"/>
<stop offset="0.495" stop-color="#ffffff"/>
<stop offset="0.655" stop-color="#0000ff"/>
<stop offset="1" stop-color="#0000ff"/>
</linearGradient></defs>
<rect x="1637.7" y="1324.6" width="13.1" height="197.7" fill="url(#fg)"/>
<text x="1655.8" y="1341.4" font-size="10.5">4</text>
<text x="1655.8" y="1384.4" font-size="10.5">2</text>
<text x="1655.8" y="1427.4" font-size="10.5">0</text>
<text x="1655.8" y="1470.4" font-size="10.5">−2</text>
<text x="1655.8" y="1513.4" font-size="10.5">−4</text>
<text x="1669.3" y="1332.5" font-weight="bold" font-size="10.5">TumorPurity</text>
<rect x="1669.3" y="1336.1" width="15" height="15.2" fill="#65a35c"/>
<rect x="1669.3" y="1351.2" width="15" height="15.2" fill="#8fc57f"/>
<rect x="1669.3" y="1366.3" width="15" height="15.2" fill="#c7e4b9"/>
<rect x="1669.3" y="1381.4" width="15" height="15.2" fill="#eff7e9"/>
<text x="1687.3" y="1347.5" font-size="10.5">0.8</text>
<text x="1687.3" y="1392.8" font-size="10.5">0.4</text>
<text x="1669.3" y="1415.6" font-weight="bold" font-size="10.5">ESTIMATEScore</text>
<rect x="1669.3" y="1419.3" width="15" height="15.2" fill="#6a9fc8"/>
<rect x="1669.3" y="1434.4" width="15" height="15.2" fill="#95c8be"/>
<rect x="1669.3" y="1449.5" width="15" height="15.2" fill="#c7e4b9"/>
<rect x="1669.3" y="1464.6" width="15" height="15.2" fill="#eff7e9"/>
<text x="1687.3" y="1430.7" font-size="10.5">4000</text>
<text x="1687.3" y="1476" font-size="10.5">0</text>
<text x="1669.3" y="1499.1" font-weight="bold" font-size="10.5">ImmuneScore</text>
<rect x="1669.3" y="1502.6" width="15" height="15.2" fill="#7d55a5"/>
<rect x="1669.3" y="1517.7" width="15" height="15.2" fill="#8c8fc0"/>
<rect x="1669.3" y="1532.8" width="15" height="15.2" fill="#b7cbe2"/>
<rect x="1669.3" y="1547.9" width="15" height="15.2" fill="#e9f2f6"/>
<text x="1687.3" y="1514" font-size="10.5">2500</text>
<text x="1687.3" y="1559.3" font-size="10.5">0</text>
<text x="1669.3" y="1582.2" font-weight="bold" font-size="10.5">StromalScore</text>
<rect x="1669.3" y="1585.8" width="15" height="15.2" fill="#64a565"/>
<rect x="1669.3" y="1600.9" width="15" height="15.2" fill="#86c0a0"/>
<rect x="1669.3" y="1616" width="15" height="15.2" fill="#b9dfdb"/>
<rect x="1669.3" y="1631.1" width="15" height="15.2" fill="#eef7f8"/>
<text x="1687.3" y="1597.2" font-size="10.5">1500</text>
<text x="1687.3" y="1642.5" font-size="10.5">−500</text>
<text x="1669.3" y="1665.2" font-weight="bold" font-size="10.5">Subtype</text>
<rect x="1669.3" y="1669" width="15" height="15.1" fill="#0000ff"/>
<rect x="1669.3" y="1684.1" width="15" height="15.1" fill="#db0000"/>
<text x="1687.3" y="1680.4" font-size="10.5">Immunity_L</text>
<text x="1687.3" y="1695.5" font-size="10.5">Immunity_H</text>
</svg></body></html>
